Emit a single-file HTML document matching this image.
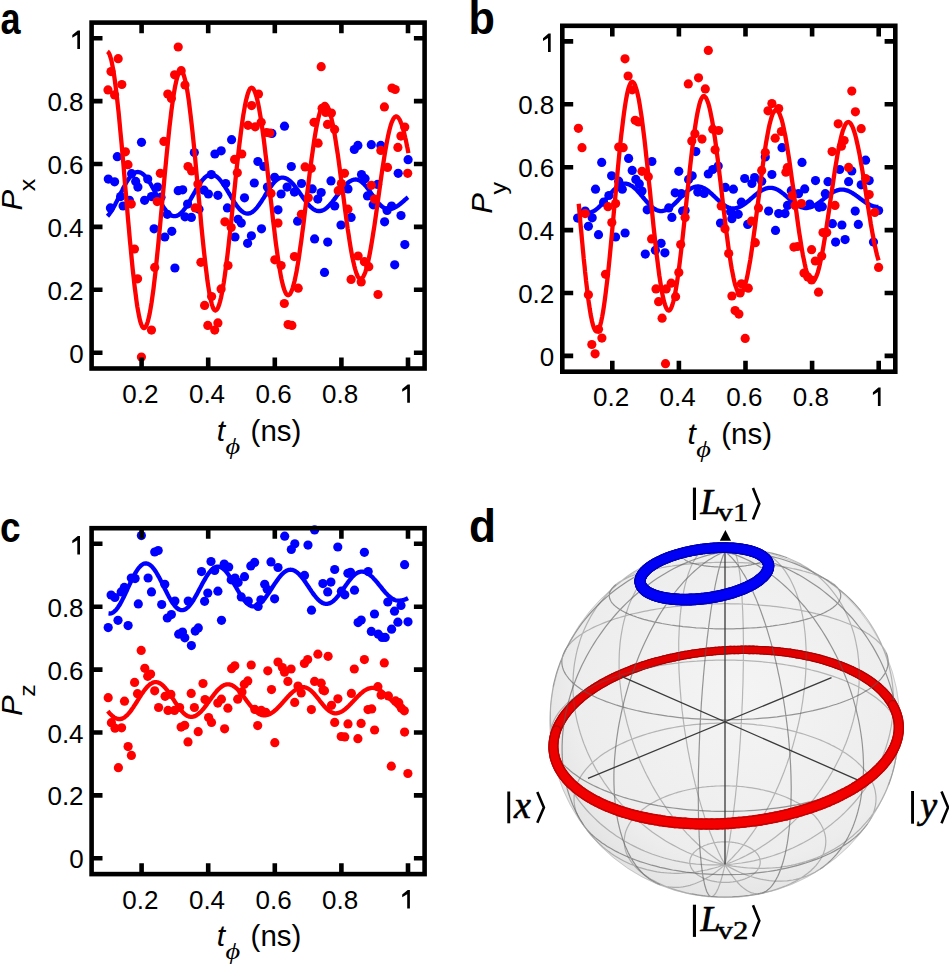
<!DOCTYPE html><html><head><meta charset="utf-8"><style>html,body{margin:0;padding:0;background:#fff;}svg{display:block;}</style></head><body>
<svg width="949" height="965" viewBox="0 0 949 965">
<rect width="949" height="965" fill="#fff"/>
<g fill="#0000ff"><circle cx="141.5" cy="142.3" r="4.6"/><circle cx="117.3" cy="156.7" r="4.6"/><circle cx="108.3" cy="179.1" r="4.6"/><circle cx="114.6" cy="181.8" r="4.6"/><circle cx="131.6" cy="173.7" r="4.6"/><circle cx="137.9" cy="187.1" r="4.6"/><circle cx="147.7" cy="179.1" r="4.6"/><circle cx="157.6" cy="187.1" r="4.6"/><circle cx="194.3" cy="152.6" r="4.6"/><circle cx="214.9" cy="154" r="4.6"/><circle cx="221.2" cy="150.8" r="4.6"/><circle cx="231.6" cy="139.7" r="4.6"/><circle cx="211.3" cy="174.6" r="4.6"/><circle cx="225.7" cy="183.5" r="4.6"/><circle cx="257.9" cy="161.5" r="4.6"/><circle cx="254.3" cy="183" r="4.6"/><circle cx="178.2" cy="190.7" r="4.6"/><circle cx="182.7" cy="189.8" r="4.6"/><circle cx="284.5" cy="126.2" r="4.6"/><circle cx="271.9" cy="133.4" r="4.6"/><circle cx="263.9" cy="166.5" r="4.6"/><circle cx="291.3" cy="166.5" r="4.6"/><circle cx="274.6" cy="177.3" r="4.6"/><circle cx="267.4" cy="187.1" r="4.6"/><circle cx="287.1" cy="187.1" r="4.6"/><circle cx="301.5" cy="183.5" r="4.6"/><circle cx="312.2" cy="188.9" r="4.6"/><circle cx="321.2" cy="192.5" r="4.6"/><circle cx="331" cy="180.9" r="4.6"/><circle cx="354.3" cy="149.5" r="4.6"/><circle cx="357.9" cy="145.4" r="4.6"/><circle cx="371.3" cy="144.7" r="4.6"/><circle cx="380.8" cy="145.4" r="4.6"/><circle cx="361.5" cy="174.6" r="4.6"/><circle cx="365.1" cy="178.7" r="4.6"/><circle cx="348" cy="188.9" r="4.6"/><circle cx="377.6" cy="184.4" r="4.6"/><circle cx="408.1" cy="159.7" r="4.6"/><circle cx="398.2" cy="173.3" r="4.6"/><circle cx="110.4" cy="207.9" r="4.6"/><circle cx="123.1" cy="206" r="4.6"/><circle cx="129.4" cy="200.3" r="4.6"/><circle cx="120.6" cy="196.6" r="4.6"/><circle cx="135.7" cy="181.4" r="4.6"/><circle cx="144.6" cy="200.3" r="4.6"/><circle cx="151.5" cy="196.6" r="4.6"/><circle cx="161" cy="197.2" r="4.6"/><circle cx="167.3" cy="214.3" r="4.6"/><circle cx="185" cy="216.8" r="4.6"/><circle cx="191.4" cy="217.4" r="4.6"/><circle cx="187.6" cy="204.1" r="4.6"/><circle cx="154.1" cy="228.8" r="4.6"/><circle cx="164.8" cy="237" r="4.6"/><circle cx="171.8" cy="231.3" r="4.6"/><circle cx="174.9" cy="268" r="4.6"/><circle cx="208.4" cy="194" r="4.6"/><circle cx="204" cy="190.2" r="4.6"/><circle cx="199" cy="209.2" r="4.6"/><circle cx="217.9" cy="195.3" r="4.6"/><circle cx="227.4" cy="207.9" r="4.6"/><circle cx="244.5" cy="197.8" r="4.6"/><circle cx="238.1" cy="219.3" r="4.6"/><circle cx="241.3" cy="223.1" r="4.6"/><circle cx="235" cy="237" r="4.6"/><circle cx="251.4" cy="235.8" r="4.6"/><circle cx="247.6" cy="243.3" r="4.6"/><circle cx="261.5" cy="228.8" r="4.6"/><circle cx="281.1" cy="194" r="4.6"/><circle cx="278" cy="209.8" r="4.6"/><circle cx="294.4" cy="192.1" r="4.6"/><circle cx="317.8" cy="199.1" r="4.6"/><circle cx="297.6" cy="221.2" r="4.6"/><circle cx="314.6" cy="238.9" r="4.6"/><circle cx="324.5" cy="272.4" r="4.6"/><circle cx="334.7" cy="206" r="4.6"/><circle cx="367.5" cy="195.9" r="4.6"/><circle cx="373.2" cy="204.8" r="4.6"/><circle cx="387.1" cy="210.5" r="4.6"/><circle cx="391.6" cy="206" r="4.6"/><circle cx="401" cy="215.5" r="4.6"/><circle cx="384.6" cy="221.8" r="4.6"/><circle cx="351.1" cy="217.4" r="4.6"/><circle cx="341" cy="225" r="4.6"/><circle cx="327.7" cy="242.1" r="4.6"/><circle cx="404.8" cy="244.6" r="4.6"/><circle cx="394.7" cy="264.8" r="4.6"/></g>
<path d="M107.5 216.2 L108.3 215.3 L109.1 214.4 L109.8 213.3 L110.6 212.2 L111.4 211 L112.2 209.8 L112.9 208.5 L113.7 207.1 L114.5 205.7 L115.3 204.2 L116 202.7 L116.8 201.2 L117.6 199.6 L118.4 198 L119.2 196.4 L119.9 194.9 L120.7 193.3 L121.5 191.7 L122.3 190.2 L123 188.6 L123.8 187.1 L124.6 185.7 L125.4 184.3 L126.1 182.9 L126.9 181.6 L127.7 180.4 L128.5 179.2 L129.3 178.1 L130 177.1 L130.8 176.1 L131.6 175.3 L132.4 174.5 L133.1 173.9 L133.9 173.3 L134.7 172.8 L135.5 172.5 L136.2 172.2 L137 172.1 L137.8 172 L138.7 172.1 L139.7 172.3 L140.6 172.6 L141.6 173.1 L142.5 173.8 L143.4 174.5 L144.4 175.4 L145.3 176.4 L146.3 177.6 L147.2 178.8 L148.2 180.1 L149.1 181.5 L150 183 L151 184.6 L151.9 186.3 L152.9 188 L153.8 189.7 L154.7 191.4 L155.7 193.2 L156.6 195 L157.6 196.8 L158.5 198.5 L159.4 200.2 L160.4 201.9 L161.3 203.6 L162.3 205.2 L163.2 206.7 L164.1 208.1 L165.1 209.4 L166 210.6 L167 211.8 L167.9 212.8 L168.9 213.7 L169.8 214.4 L170.7 215.1 L171.7 215.6 L172.6 215.9 L173.6 216.1 L174.5 216.2 L175.4 216.1 L176.4 215.9 L177.3 215.6 L178.3 215.1 L179.2 214.5 L180.1 213.8 L181.1 213 L182 212 L183 211 L183.9 209.8 L184.9 208.5 L185.8 207.2 L186.7 205.8 L187.7 204.3 L188.6 202.7 L189.6 201.2 L190.5 199.5 L191.4 197.9 L192.4 196.2 L193.3 194.5 L194.3 192.8 L195.2 191.2 L196.1 189.5 L197.1 188 L198 186.4 L199 184.9 L199.9 183.5 L200.8 182.2 L201.8 180.9 L202.7 179.7 L203.7 178.7 L204.6 177.7 L205.6 176.9 L206.5 176.2 L207.4 175.6 L208.4 175.1 L209.3 174.8 L210.3 174.6 L211.2 174.5 L212.1 174.6 L213.1 174.8 L214 175.1 L214.9 175.5 L215.9 176.1 L216.8 176.7 L217.7 177.5 L218.7 178.4 L219.6 179.4 L220.5 180.5 L221.5 181.7 L222.4 182.9 L223.3 184.3 L224.3 185.7 L225.2 187.1 L226.1 188.6 L227.1 190.1 L228 191.7 L228.9 193.3 L229.9 194.8 L230.8 196.4 L231.7 198 L232.7 199.5 L233.6 201 L234.5 202.4 L235.5 203.8 L236.4 205.2 L237.3 206.4 L238.3 207.6 L239.2 208.7 L240.1 209.7 L241.1 210.6 L242 211.4 L242.9 212 L243.9 212.6 L244.8 213 L245.7 213.3 L246.7 213.5 L247.6 213.6 L248.5 213.5 L249.4 213.4 L250.3 213.1 L251.2 212.7 L252.1 212.2 L253 211.5 L253.8 210.8 L254.7 210 L255.6 209.1 L256.5 208.1 L257.4 207 L258.3 205.8 L259.2 204.6 L260.1 203.3 L261 202 L261.9 200.6 L262.8 199.2 L263.7 197.8 L264.6 196.3 L265.4 194.9 L266.3 193.4 L267.2 192 L268.1 190.6 L269 189.2 L269.9 187.9 L270.8 186.6 L271.7 185.4 L272.6 184.2 L273.5 183.1 L274.4 182.1 L275.3 181.2 L276.2 180.4 L277 179.7 L277.9 179 L278.8 178.5 L279.7 178.1 L280.6 177.8 L281.5 177.7 L282.4 177.6 L283.3 177.7 L284.3 177.8 L285.2 178.1 L286.2 178.5 L287.1 178.9 L288 179.5 L289 180.2 L289.9 181 L290.9 181.8 L291.8 182.7 L292.8 183.8 L293.7 184.8 L294.6 186 L295.6 187.2 L296.5 188.4 L297.5 189.7 L298.4 191 L299.3 192.3 L300.3 193.7 L301.2 195 L302.2 196.4 L303.1 197.7 L304 199 L305 200.3 L305.9 201.5 L306.9 202.7 L307.8 203.9 L308.7 204.9 L309.7 206 L310.6 206.9 L311.6 207.7 L312.5 208.5 L313.5 209.2 L314.4 209.8 L315.3 210.2 L316.3 210.6 L317.2 210.9 L318.2 211 L319.1 211.1 L320 211 L321 210.9 L321.9 210.6 L322.8 210.3 L323.8 209.8 L324.7 209.3 L325.6 208.7 L326.6 207.9 L327.5 207.1 L328.4 206.2 L329.4 205.3 L330.3 204.3 L331.2 203.2 L332.2 202.1 L333.1 200.9 L334 199.7 L335 198.5 L335.9 197.2 L336.8 195.9 L337.8 194.7 L338.7 193.4 L339.6 192.1 L340.6 190.9 L341.5 189.7 L342.4 188.5 L343.4 187.4 L344.3 186.3 L345.2 185.3 L346.2 184.4 L347.1 183.5 L348 182.7 L349 181.9 L349.9 181.3 L350.8 180.8 L351.8 180.3 L352.7 180 L353.6 179.7 L354.6 179.6 L355.5 179.5 L356.3 179.5 L357.2 179.7 L358 179.9 L358.9 180.3 L359.7 180.7 L360.6 181.2 L361.4 181.8 L362.2 182.5 L363.1 183.2 L363.9 184.1 L364.8 185 L365.6 185.9 L366.5 186.9 L367.3 188 L368.2 189.1 L369 190.2 L369.8 191.4 L370.7 192.6 L371.5 193.8 L372.4 194.9 L373.2 196.1 L374.1 197.3 L374.9 198.5 L375.7 199.6 L376.6 200.7 L377.4 201.8 L378.3 202.8 L379.1 203.7 L380 204.6 L380.8 205.5 L381.7 206.2 L382.5 206.9 L383.3 207.5 L384.2 208 L385 208.4 L385.9 208.8 L386.7 209 L387.6 209.2 L388.4 209.2 L388.9 209.2 L389.4 209.2 L389.9 209.1 L390.4 209 L390.9 208.9 L391.4 208.8 L391.9 208.7 L392.4 208.5 L392.9 208.3 L393.4 208.2 L393.9 207.9 L394.4 207.7 L394.9 207.5 L395.4 207.2 L395.9 206.9 L396.4 206.6 L396.9 206.3 L397.4 206 L397.9 205.6 L398.5 205.3 L399 204.9 L399.5 204.5 L400 204.1 L400.5 203.7 L401 203.3 L401.5 202.9 L402 202.5 L402.5 202 L403 201.6 L403.5 201.2 L404 200.7 L404.5 200.3 L405 199.8 L405.5 199.4 L406 198.9 L406.5 198.5 L407 198.1 L407.5 197.6 L408 197.2" fill="none" stroke="#0000ff" stroke-width="4.3" stroke-linejoin="round"/>
<g fill="#ff0000"><circle cx="118.2" cy="58.7" r="4.6"/><circle cx="111" cy="71.6" r="4.6"/><circle cx="121.8" cy="84.5" r="4.6"/><circle cx="108" cy="89.9" r="4.6"/><circle cx="114.6" cy="94.9" r="4.6"/><circle cx="178.2" cy="47" r="4.6"/><circle cx="181.2" cy="70.7" r="4.6"/><circle cx="174.6" cy="74.8" r="4.6"/><circle cx="185" cy="85" r="4.6"/><circle cx="167.8" cy="94" r="4.6"/><circle cx="171.4" cy="98.5" r="4.6"/><circle cx="251.6" cy="105.6" r="4.6"/><circle cx="258.5" cy="94" r="4.6"/><circle cx="248" cy="125.3" r="4.6"/><circle cx="255.2" cy="126.8" r="4.6"/><circle cx="163.9" cy="141.4" r="4.6"/><circle cx="125.4" cy="151.8" r="4.6"/><circle cx="128" cy="164.7" r="4.6"/><circle cx="188" cy="166.5" r="4.6"/><circle cx="191.6" cy="171" r="4.6"/><circle cx="160.3" cy="173.3" r="4.6"/><circle cx="197.9" cy="184.1" r="4.6"/><circle cx="234.6" cy="159.4" r="4.6"/><circle cx="241.8" cy="154" r="4.6"/><circle cx="237.3" cy="172.8" r="4.6"/><circle cx="321.2" cy="66.7" r="4.6"/><circle cx="392" cy="88.1" r="4.6"/><circle cx="395.2" cy="89.5" r="4.6"/><circle cx="384.4" cy="106.9" r="4.6"/><circle cx="261.2" cy="122.3" r="4.6"/><circle cx="266.5" cy="132.5" r="4.6"/><circle cx="269.8" cy="133" r="4.6"/><circle cx="314" cy="122.3" r="4.6"/><circle cx="322.1" cy="108.3" r="4.6"/><circle cx="325.7" cy="112.4" r="4.6"/><circle cx="331.4" cy="113.1" r="4.6"/><circle cx="327.5" cy="124.4" r="4.6"/><circle cx="334.6" cy="129.4" r="4.6"/><circle cx="318.1" cy="143.2" r="4.6"/><circle cx="305.1" cy="166.9" r="4.6"/><circle cx="311.3" cy="168.3" r="4.6"/><circle cx="344.5" cy="173.3" r="4.6"/><circle cx="341.4" cy="183.5" r="4.6"/><circle cx="338.2" cy="190.7" r="4.6"/><circle cx="404.8" cy="127.1" r="4.6"/><circle cx="400.9" cy="136.1" r="4.6"/><circle cx="397.9" cy="147.4" r="4.6"/><circle cx="380.8" cy="150.4" r="4.6"/><circle cx="387.5" cy="167.4" r="4.6"/><circle cx="407.7" cy="173.3" r="4.6"/><circle cx="371.3" cy="185.3" r="4.6"/><circle cx="271" cy="193.4" r="4.6"/><circle cx="131.3" cy="204.1" r="4.6"/><circle cx="157.2" cy="201.6" r="4.6"/><circle cx="195.2" cy="207.9" r="4.6"/><circle cx="134.5" cy="249" r="4.6"/><circle cx="154.7" cy="267.4" r="4.6"/><circle cx="137.6" cy="278.8" r="4.6"/><circle cx="200.9" cy="262.3" r="4.6"/><circle cx="224.9" cy="221.8" r="4.6"/><circle cx="231.2" cy="227.5" r="4.6"/><circle cx="228" cy="265.5" r="4.6"/><circle cx="278" cy="223.1" r="4.6"/><circle cx="301.4" cy="214.3" r="4.6"/><circle cx="308.3" cy="197.8" r="4.6"/><circle cx="274.8" cy="259.8" r="4.6"/><circle cx="281.1" cy="265.5" r="4.6"/><circle cx="294.4" cy="256.6" r="4.6"/><circle cx="221.1" cy="288.9" r="4.6"/><circle cx="298.2" cy="288.2" r="4.6"/><circle cx="374.5" cy="199.1" r="4.6"/><circle cx="347.9" cy="209.2" r="4.6"/><circle cx="358.1" cy="256" r="4.6"/><circle cx="364.4" cy="261.7" r="4.6"/><circle cx="368.8" cy="266.7" r="4.6"/><circle cx="351.1" cy="279.4" r="4.6"/><circle cx="361.2" cy="281.9" r="4.6"/><circle cx="151.5" cy="330.1" r="4.6"/><circle cx="141.4" cy="357" r="4.6"/><circle cx="204.6" cy="305.4" r="4.6"/><circle cx="207.8" cy="325.4" r="4.6"/><circle cx="211.6" cy="296.6" r="4.6"/><circle cx="217.9" cy="322.9" r="4.6"/><circle cx="214.7" cy="330.1" r="4.6"/><circle cx="284.3" cy="303.5" r="4.6"/><circle cx="288.1" cy="324.6" r="4.6"/><circle cx="291.9" cy="325.4" r="4.6"/><circle cx="378" cy="294.5" r="4.6"/></g>
<path d="M107.4 51.5 L108.3 52.2 L109.3 53.8 L110.2 56.3 L111.2 59.6 L112.1 63.8 L113 68.7 L114 74.5 L114.9 80.9 L115.8 88.1 L116.8 95.9 L117.7 104.3 L118.7 113.2 L119.6 122.7 L120.5 132.6 L121.5 142.8 L122.4 153.3 L123.4 164.1 L124.3 175 L125.2 186.1 L126.2 197.1 L127.1 208.1 L128 219 L129 229.7 L129.9 240.2 L130.9 250.3 L131.8 260 L132.7 269.3 L133.7 278.1 L134.6 286.3 L135.6 293.9 L136.5 300.9 L137.4 307.1 L138.4 312.6 L139.3 317.3 L140.2 321.2 L141.2 324.2 L142.1 326.4 L143.1 327.8 L144 328.2 L144.9 327.8 L145.9 326.5 L146.8 324.5 L147.8 321.6 L148.7 317.9 L149.7 313.5 L150.6 308.3 L151.6 302.4 L152.5 295.9 L153.5 288.7 L154.4 281 L155.4 272.7 L156.3 263.9 L157.2 254.8 L158.2 245.3 L159.1 235.5 L160.1 225.4 L161 215.2 L162 204.9 L162.9 194.5 L163.9 184.2 L164.8 174 L165.8 163.9 L166.7 154.1 L167.7 144.6 L168.6 135.5 L169.5 126.7 L170.5 118.4 L171.4 110.7 L172.4 103.5 L173.3 97 L174.3 91.1 L175.2 85.9 L176.2 81.5 L177.1 77.8 L178.1 74.9 L179 72.9 L180 71.6 L180.9 71.2 L181.8 71.6 L182.7 72.7 L183.6 74.7 L184.4 77.4 L185.3 80.8 L186.2 84.9 L187.1 89.7 L188 95.2 L188.9 101.3 L189.7 108 L190.6 115.2 L191.5 122.9 L192.4 131 L193.3 139.6 L194.2 148.4 L195.1 157.6 L195.9 166.9 L196.8 176.4 L197.7 186 L198.6 195.7 L199.5 205.3 L200.4 214.8 L201.2 224.1 L202.1 233.3 L203 242.1 L203.9 250.7 L204.8 258.8 L205.7 266.5 L206.6 273.7 L207.4 280.4 L208.3 286.5 L209.2 292 L210.1 296.8 L211 300.9 L211.9 304.3 L212.7 307 L213.6 309 L214.5 310.1 L215.4 310.5 L216.3 310.1 L217.3 309.1 L218.2 307.3 L219.1 304.8 L220 301.6 L221 297.7 L221.9 293.3 L222.8 288.2 L223.8 282.5 L224.7 276.3 L225.6 269.6 L226.5 262.4 L227.5 254.8 L228.4 246.9 L229.3 238.6 L230.3 230.1 L231.2 221.4 L232.1 212.5 L233 203.6 L234 194.6 L234.9 185.7 L235.8 176.8 L236.7 168.1 L237.7 159.6 L238.6 151.3 L239.5 143.4 L240.5 135.8 L241.4 128.6 L242.3 121.9 L243.2 115.7 L244.2 110 L245.1 104.9 L246 100.5 L247 96.6 L247.9 93.4 L248.8 90.9 L249.7 89.1 L250.7 88.1 L251.6 87.7 L252.5 88 L253.5 89 L254.4 90.7 L255.3 93 L256.3 96 L257.2 99.6 L258.2 103.8 L259.1 108.5 L260 113.8 L261 119.6 L261.9 125.9 L262.8 132.5 L263.8 139.6 L264.7 147 L265.6 154.7 L266.6 162.6 L267.5 170.7 L268.4 179 L269.4 187.3 L270.3 195.7 L271.3 204 L272.2 212.3 L273.1 220.4 L274.1 228.3 L275 236 L275.9 243.4 L276.9 250.5 L277.8 257.1 L278.7 263.4 L279.7 269.2 L280.6 274.5 L281.5 279.2 L282.5 283.4 L283.4 287 L284.4 290 L285.3 292.3 L286.2 294 L287.2 295 L288.1 295.3 L289 295 L290 294.1 L290.9 292.5 L291.9 290.4 L292.8 287.6 L293.7 284.3 L294.7 280.5 L295.6 276.1 L296.6 271.2 L297.5 265.9 L298.5 260.1 L299.4 253.9 L300.3 247.4 L301.3 240.6 L302.2 233.5 L303.2 226.2 L304.1 218.7 L305 211.1 L306 203.4 L306.9 195.7 L307.9 188 L308.8 180.4 L309.7 172.9 L310.7 165.6 L311.6 158.5 L312.6 151.7 L313.5 145.2 L314.4 139 L315.4 133.2 L316.3 127.9 L317.3 123 L318.2 118.6 L319.2 114.8 L320.1 111.5 L321 108.7 L322 106.6 L322.9 105 L323.9 104.1 L324.8 103.8 L325.7 104.1 L326.6 104.9 L327.6 106.3 L328.5 108.3 L329.4 110.8 L330.3 113.8 L331.2 117.4 L332.1 121.4 L333.1 125.8 L334 130.7 L334.9 136 L335.8 141.6 L336.7 147.6 L337.7 153.8 L338.6 160.3 L339.5 167 L340.4 173.9 L341.3 180.8 L342.2 187.9 L343.2 194.9 L344.1 202 L345 208.9 L345.9 215.8 L346.8 222.5 L347.7 229 L348.7 235.2 L349.6 241.2 L350.5 246.8 L351.4 252.1 L352.3 257 L353.3 261.4 L354.2 265.4 L355.1 269 L356 272 L356.9 274.5 L357.8 276.5 L358.8 277.9 L359.7 278.7 L360.6 279 L361.5 278.7 L362.4 277.9 L363.3 276.6 L364.2 274.8 L365.2 272.5 L366.1 269.7 L367 266.4 L367.9 262.7 L368.8 258.6 L369.7 254 L370.6 249.1 L371.5 243.9 L372.4 238.4 L373.3 232.6 L374.3 226.5 L375.2 220.3 L376.1 214 L377 207.5 L377.9 201 L378.8 194.4 L379.7 187.9 L380.6 181.4 L381.5 175.1 L382.4 168.9 L383.4 162.8 L384.3 157 L385.2 151.5 L386.1 146.3 L387 141.4 L387.9 136.8 L388.8 132.7 L389.7 129 L390.6 125.7 L391.5 122.9 L392.5 120.6 L393.4 118.8 L394.3 117.5 L395.2 116.7 L396.1 116.4 L396.4 116.4 L396.7 116.5 L397 116.6 L397.4 116.8 L397.7 117.1 L398 117.4 L398.3 117.7 L398.6 118.1 L398.9 118.5 L399.3 119 L399.6 119.6 L399.9 120.2 L400.2 120.9 L400.5 121.6 L400.8 122.3 L401.1 123.1 L401.5 124 L401.8 124.9 L402.1 125.8 L402.4 126.8 L402.7 127.8 L403 128.9 L403.4 130 L403.7 131.2 L404 132.4 L404.3 133.6 L404.6 134.9 L404.9 136.3 L405.2 137.6 L405.6 139 L405.9 140.5 L406.2 141.9 L406.5 143.4 L406.8 145 L407.1 146.5 L407.5 148.1 L407.8 149.8 L408.1 151.4 L408.4 153.1" fill="none" stroke="#ff0000" stroke-width="4.3" stroke-linejoin="round"/>
<rect x="91.6" y="22.6" width="333" height="345.9" fill="none" stroke="#000" stroke-width="4.6"/>
<path d="M141.6 22.6 V33.2 M141.6 368.5 V357.6 M208.2 22.6 V33.2 M208.2 368.5 V357.6 M274.8 22.6 V33.2 M274.8 368.5 V357.6 M341.4 22.6 V33.2 M341.4 368.5 V357.6 M408 22.6 V33.2 M408 368.5 V357.6 M91.6 352.7 H102.5 M424.6 352.7 H413.9 M91.6 289.8 H102.5 M424.6 289.8 H413.9 M91.6 226.9 H102.5 M424.6 226.9 H413.9 M91.6 164 H102.5 M424.6 164 H413.9 M91.6 101.1 H102.5 M424.6 101.1 H413.9 M91.6 38.2 H102.5 M424.6 38.2 H413.9" stroke="#000" stroke-width="4.6" fill="none"/>
<g font-family="Liberation Sans" font-size="26" fill="#000"><text x="140.4" y="403" text-anchor="middle">0.2</text><text x="207" y="403" text-anchor="middle">0.4</text><text x="273.6" y="403" text-anchor="middle">0.6</text><text x="340.2" y="403" text-anchor="middle">0.8</text><text x="83.6" y="362.7" text-anchor="end">0</text><text x="83.6" y="299.8" text-anchor="end">0.2</text><text x="83.6" y="236.9" text-anchor="end">0.4</text><text x="83.6" y="174" text-anchor="end">0.6</text><text x="83.6" y="111.1" text-anchor="end">0.8</text><path d="M409.9 384.4 V402.8 H407.2 V388.7 L402.2 391.7 V389 L407.7 384.4Z"/><path d="M80 30.4 V48.9 H77.3 V34.7 L72.3 37.7 V35 L77.8 30.4Z"/></g>
<text x="216.8" y="440.6" font-family="Liberation Sans" font-size="30" font-style="italic">t</text>
<text transform="translate(225.6 453.5) scale(1.18 1)" font-family="Liberation Serif" font-size="24" font-style="italic">&#x3d5;</text>
<text x="250.6" y="440.8" font-family="Liberation Sans" font-size="29.5">(ns)</text>
<g transform="translate(21.6 210.5) rotate(-90)"><text transform="scale(1.03 1)" font-family="Liberation Sans" font-size="30" font-style="italic">P</text><text transform="translate(19.3 13.2) scale(1.12 1)" font-family="Liberation Sans" font-size="22.5">x</text></g>
<g fill="#0000ff"><circle cx="601.7" cy="162.4" r="4.6"/><circle cx="628.6" cy="158.4" r="4.6"/><circle cx="651.9" cy="161.5" r="4.6"/><circle cx="632.2" cy="170.4" r="4.6"/><circle cx="611.6" cy="175.8" r="4.6"/><circle cx="618.7" cy="181.2" r="4.6"/><circle cx="635.8" cy="179.4" r="4.6"/><circle cx="639.3" cy="183.9" r="4.6"/><circle cx="622.3" cy="189.2" r="4.6"/><circle cx="595.5" cy="189.2" r="4.6"/><circle cx="608.9" cy="195.5" r="4.6"/><circle cx="642" cy="191" r="4.6"/><circle cx="695.8" cy="151.6" r="4.6"/><circle cx="678.8" cy="171.3" r="4.6"/><circle cx="692.2" cy="175.8" r="4.6"/><circle cx="688.6" cy="179.4" r="4.6"/><circle cx="708.3" cy="174" r="4.6"/><circle cx="712.8" cy="169.5" r="4.6"/><circle cx="718.2" cy="166" r="4.6"/><circle cx="675.2" cy="192.8" r="4.6"/><circle cx="681.4" cy="193.7" r="4.6"/><circle cx="725.3" cy="187.4" r="4.6"/><circle cx="733.4" cy="189.2" r="4.6"/><circle cx="782" cy="147.7" r="4.6"/><circle cx="765.3" cy="157" r="4.6"/><circle cx="802" cy="162.4" r="4.6"/><circle cx="771.9" cy="174.5" r="4.6"/><circle cx="744.7" cy="178.5" r="4.6"/><circle cx="754.6" cy="177.6" r="4.6"/><circle cx="751.9" cy="183.5" r="4.6"/><circle cx="761.7" cy="181.2" r="4.6"/><circle cx="804.7" cy="188.9" r="4.6"/><circle cx="791.3" cy="190.7" r="4.6"/><circle cx="798.5" cy="193.7" r="4.6"/><circle cx="815.5" cy="180.6" r="4.6"/><circle cx="828" cy="181.7" r="4.6"/><circle cx="839.7" cy="169.5" r="4.6"/><circle cx="851.8" cy="171" r="4.6"/><circle cx="848.6" cy="181.7" r="4.6"/><circle cx="865.6" cy="160.2" r="4.6"/><circle cx="869.2" cy="180.6" r="4.6"/><circle cx="861.2" cy="184.8" r="4.6"/><circle cx="825.3" cy="193.7" r="4.6"/><circle cx="603.6" cy="202.2" r="4.6"/><circle cx="585.2" cy="211.1" r="4.6"/><circle cx="577.6" cy="218.1" r="4.6"/><circle cx="592.2" cy="217.8" r="4.6"/><circle cx="588.4" cy="226.3" r="4.6"/><circle cx="598.5" cy="234.7" r="4.6"/><circle cx="615.6" cy="237" r="4.6"/><circle cx="625.1" cy="233" r="4.6"/><circle cx="647.2" cy="209.8" r="4.6"/><circle cx="668.7" cy="207.9" r="4.6"/><circle cx="671.9" cy="217.4" r="4.6"/><circle cx="682.6" cy="211.1" r="4.6"/><circle cx="661.1" cy="243.3" r="4.6"/><circle cx="664.9" cy="252.8" r="4.6"/><circle cx="655.4" cy="250.3" r="4.6"/><circle cx="645.3" cy="254.1" r="4.6"/><circle cx="697.8" cy="192.1" r="4.6"/><circle cx="704.1" cy="193.4" r="4.6"/><circle cx="685.1" cy="210.5" r="4.6"/><circle cx="741.4" cy="202.2" r="4.6"/><circle cx="738.2" cy="214.3" r="4.6"/><circle cx="730.6" cy="211.7" r="4.6"/><circle cx="731.9" cy="218.7" r="4.6"/><circle cx="720.5" cy="223.1" r="4.6"/><circle cx="747.7" cy="224.4" r="4.6"/><circle cx="768.6" cy="211.1" r="4.6"/><circle cx="778.7" cy="213.6" r="4.6"/><circle cx="785" cy="213.6" r="4.6"/><circle cx="787.5" cy="205.4" r="4.6"/><circle cx="775.5" cy="230.4" r="4.6"/><circle cx="809.7" cy="204.1" r="4.6"/><circle cx="819.1" cy="207.3" r="4.6"/><circle cx="822.3" cy="206.7" r="4.6"/><circle cx="855.2" cy="211.1" r="4.6"/><circle cx="878.6" cy="210.5" r="4.6"/><circle cx="832.4" cy="223.7" r="4.6"/><circle cx="841.9" cy="225" r="4.6"/><circle cx="858.3" cy="224.4" r="4.6"/><circle cx="835.6" cy="242.1" r="4.6"/><circle cx="845.1" cy="239.6" r="4.6"/><circle cx="873.5" cy="242.1" r="4.6"/></g>
<path d="M579 213 L579.2 213 L579.5 213 L579.7 212.9 L580 212.9 L580.2 212.9 L580.5 212.9 L580.7 212.8 L580.9 212.8 L581.2 212.8 L581.4 212.8 L581.7 212.8 L581.9 212.7 L582.2 212.7 L582.4 212.7 L582.7 212.7 L582.9 212.7 L583.1 212.7 L583.4 212.7 L583.6 212.6 L583.9 212.6 L584.1 212.6 L584.4 212.6 L584.6 212.6 L584.8 212.6 L585.1 212.6 L585.3 212.6 L585.6 212.5 L585.8 212.5 L586.1 212.5 L586.3 212.5 L586.6 212.5 L586.8 212.5 L587 212.5 L587.3 212.5 L587.5 212.5 L587.8 212.5 L588 212.5 L588.3 212.5 L588.5 212.5 L589.4 212.5 L590.4 212.3 L591.3 212.1 L592.3 211.8 L593.2 211.3 L594.1 210.9 L595.1 210.3 L596 209.6 L596.9 208.9 L597.9 208.1 L598.8 207.2 L599.8 206.3 L600.7 205.3 L601.6 204.3 L602.6 203.2 L603.5 202.1 L604.5 201 L605.4 199.8 L606.3 198.7 L607.3 197.5 L608.2 196.4 L609.1 195.2 L610.1 194.1 L611 193 L612 191.9 L612.9 190.9 L613.8 189.9 L614.8 189 L615.7 188.1 L616.7 187.3 L617.6 186.6 L618.5 185.9 L619.5 185.3 L620.4 184.9 L621.3 184.4 L622.3 184.1 L623.2 183.9 L624.2 183.7 L625.1 183.7 L626 183.7 L626.9 183.9 L627.9 184.1 L628.8 184.4 L629.7 184.8 L630.6 185.3 L631.6 185.8 L632.5 186.4 L633.4 187.1 L634.3 187.9 L635.3 188.7 L636.2 189.6 L637.1 190.5 L638 191.5 L638.9 192.5 L639.9 193.6 L640.8 194.7 L641.7 195.7 L642.6 196.8 L643.6 198 L644.5 199.1 L645.4 200.1 L646.3 201.2 L647.3 202.3 L648.2 203.3 L649.1 204.2 L650 205.2 L650.9 206.1 L651.9 206.9 L652.8 207.7 L653.7 208.4 L654.6 209 L655.6 209.5 L656.5 210 L657.4 210.4 L658.3 210.7 L659.3 210.9 L660.2 211.1 L661.1 211.1 L662 211.1 L663 210.9 L663.9 210.7 L664.9 210.5 L665.8 210.1 L666.7 209.7 L667.7 209.2 L668.6 208.6 L669.5 208 L670.5 207.3 L671.4 206.6 L672.4 205.8 L673.3 204.9 L674.2 204.1 L675.2 203.2 L676.1 202.2 L677.1 201.3 L678 200.3 L678.9 199.3 L679.9 198.3 L680.8 197.3 L681.7 196.3 L682.7 195.4 L683.6 194.4 L684.6 193.5 L685.5 192.7 L686.4 191.8 L687.4 191 L688.3 190.3 L689.3 189.6 L690.2 189 L691.1 188.4 L692.1 187.9 L693 187.5 L693.9 187.1 L694.9 186.9 L695.8 186.7 L696.8 186.5 L697.7 186.5 L698.6 186.5 L699.5 186.6 L700.4 186.8 L701.3 187.1 L702.2 187.4 L703.1 187.8 L704.1 188.2 L705 188.7 L705.9 189.3 L706.8 189.9 L707.7 190.5 L708.6 191.2 L709.5 192 L710.4 192.8 L711.3 193.6 L712.2 194.4 L713.1 195.3 L714 196.1 L714.9 197 L715.9 197.9 L716.8 198.8 L717.7 199.6 L718.6 200.5 L719.5 201.3 L720.4 202.1 L721.3 202.9 L722.2 203.7 L723.1 204.4 L724 205 L724.9 205.6 L725.8 206.2 L726.7 206.7 L727.7 207.1 L728.6 207.5 L729.5 207.8 L730.4 208.1 L731.3 208.3 L732.2 208.4 L733.1 208.4 L734.1 208.4 L735 208.3 L736 208.1 L736.9 207.9 L737.9 207.6 L738.8 207.2 L739.8 206.8 L740.8 206.3 L741.7 205.8 L742.7 205.2 L743.6 204.6 L744.6 204 L745.5 203.3 L746.5 202.5 L747.4 201.8 L748.4 201 L749.4 200.2 L750.3 199.3 L751.3 198.5 L752.2 197.7 L753.2 196.9 L754.1 196 L755.1 195.2 L756.1 194.4 L757 193.7 L758 192.9 L758.9 192.2 L759.9 191.6 L760.8 191 L761.8 190.4 L762.7 189.9 L763.7 189.4 L764.7 189 L765.6 188.6 L766.6 188.3 L767.5 188.1 L768.5 187.9 L769.4 187.8 L770.4 187.8 L771.3 187.8 L772.2 187.9 L773.1 188.1 L774 188.3 L775 188.6 L775.9 189 L776.8 189.4 L777.7 189.8 L778.6 190.3 L779.5 190.9 L780.4 191.5 L781.3 192.2 L782.2 192.9 L783.1 193.6 L784.1 194.3 L785 195.1 L785.9 195.9 L786.8 196.7 L787.7 197.5 L788.6 198.3 L789.5 199.1 L790.4 199.9 L791.3 200.7 L792.2 201.5 L793.2 202.2 L794.1 202.9 L795 203.6 L795.9 204.3 L796.8 204.9 L797.7 205.5 L798.6 206 L799.5 206.4 L800.4 206.8 L801.3 207.2 L802.3 207.5 L803.2 207.7 L804.1 207.9 L805 208 L805.9 208 L806.8 208 L807.7 207.9 L808.7 207.7 L809.6 207.5 L810.5 207.3 L811.4 206.9 L812.3 206.6 L813.3 206.2 L814.2 205.7 L815.1 205.2 L816 204.6 L816.9 204 L817.9 203.4 L818.8 202.7 L819.7 202.1 L820.6 201.4 L821.5 200.6 L822.5 199.9 L823.4 199.2 L824.3 198.4 L825.2 197.7 L826.2 197 L827.1 196.2 L828 195.5 L828.9 194.9 L829.8 194.2 L830.8 193.6 L831.7 193 L832.6 192.4 L833.5 191.9 L834.4 191.4 L835.4 191 L836.3 190.7 L837.2 190.3 L838.1 190.1 L839 189.9 L840 189.7 L840.9 189.6 L841.8 189.6 L842.7 189.6 L843.7 189.7 L844.6 189.9 L845.6 190.1 L846.5 190.3 L847.4 190.6 L848.4 191 L849.3 191.4 L850.3 191.9 L851.2 192.4 L852.2 192.9 L853.1 193.5 L854 194.1 L855 194.7 L855.9 195.4 L856.9 196.1 L857.8 196.7 L858.7 197.4 L859.7 198.2 L860.6 198.9 L861.6 199.6 L862.5 200.3 L863.4 200.9 L864.4 201.6 L865.3 202.2 L866.3 202.9 L867.2 203.4 L868.1 204 L869.1 204.5 L870 205 L871 205.4 L871.9 205.7 L872.9 206.1 L873.8 206.3 L874.7 206.5 L875.7 206.7 L876.6 206.8 L877.6 206.8 L878.5 206.8" fill="none" stroke="#0000ff" stroke-width="4.3" stroke-linejoin="round"/>
<g fill="#ff0000"><circle cx="625" cy="58.8" r="4.6"/><circle cx="628.1" cy="76" r="4.6"/><circle cx="632.2" cy="89.8" r="4.6"/><circle cx="635.2" cy="120.3" r="4.6"/><circle cx="638.5" cy="122" r="4.6"/><circle cx="578.4" cy="128.3" r="4.6"/><circle cx="582" cy="147.7" r="4.6"/><circle cx="618.7" cy="147.1" r="4.6"/><circle cx="623.2" cy="147.7" r="4.6"/><circle cx="642" cy="171.3" r="4.6"/><circle cx="648.3" cy="176.7" r="4.6"/><circle cx="708.3" cy="50.4" r="4.6"/><circle cx="698.5" cy="77.8" r="4.6"/><circle cx="688.3" cy="83.9" r="4.6"/><circle cx="705.3" cy="88.9" r="4.6"/><circle cx="694.9" cy="133.7" r="4.6"/><circle cx="691.8" cy="140.9" r="4.6"/><circle cx="702" cy="139.1" r="4.6"/><circle cx="712.8" cy="129.2" r="4.6"/><circle cx="718.7" cy="130.5" r="4.6"/><circle cx="715.1" cy="149.8" r="4.6"/><circle cx="771.9" cy="103.6" r="4.6"/><circle cx="768" cy="110.8" r="4.6"/><circle cx="778.7" cy="108.6" r="4.6"/><circle cx="781.4" cy="131.5" r="4.6"/><circle cx="775.2" cy="138.2" r="4.6"/><circle cx="765.3" cy="152.5" r="4.6"/><circle cx="761.7" cy="170.4" r="4.6"/><circle cx="785.9" cy="172.2" r="4.6"/><circle cx="787.3" cy="167.7" r="4.6"/><circle cx="851.8" cy="91.1" r="4.6"/><circle cx="855.4" cy="111.8" r="4.6"/><circle cx="838.2" cy="123.8" r="4.6"/><circle cx="861.2" cy="128.7" r="4.6"/><circle cx="844.1" cy="140.5" r="4.6"/><circle cx="841.4" cy="146.2" r="4.6"/><circle cx="832.1" cy="151.6" r="4.6"/><circle cx="848.6" cy="167.4" r="4.6"/><circle cx="865.6" cy="178.5" r="4.6"/><circle cx="869.2" cy="194.6" r="4.6"/><circle cx="792.2" cy="195.5" r="4.6"/><circle cx="585.2" cy="213.6" r="4.6"/><circle cx="608" cy="206.7" r="4.6"/><circle cx="615.6" cy="203.5" r="4.6"/><circle cx="611.8" cy="222.5" r="4.6"/><circle cx="605.5" cy="274.3" r="4.6"/><circle cx="651.6" cy="238.9" r="4.6"/><circle cx="678.8" cy="272.4" r="4.6"/><circle cx="680.7" cy="244.6" r="4.6"/><circle cx="671.2" cy="283.2" r="4.6"/><circle cx="656" cy="288.9" r="4.6"/><circle cx="666.2" cy="288.9" r="4.6"/><circle cx="685.1" cy="217.4" r="4.6"/><circle cx="721.2" cy="206" r="4.6"/><circle cx="725" cy="228.8" r="4.6"/><circle cx="728.7" cy="253.5" r="4.6"/><circle cx="741.4" cy="283.8" r="4.6"/><circle cx="748.3" cy="288.2" r="4.6"/><circle cx="751.5" cy="221.2" r="4.6"/><circle cx="758.5" cy="207.9" r="4.6"/><circle cx="755.3" cy="242.7" r="4.6"/><circle cx="793.9" cy="247.1" r="4.6"/><circle cx="795.1" cy="205.4" r="4.6"/><circle cx="801.4" cy="203.5" r="4.6"/><circle cx="835" cy="205.4" r="4.6"/><circle cx="826.7" cy="232.6" r="4.6"/><circle cx="823" cy="232.6" r="4.6"/><circle cx="797.6" cy="246.5" r="4.6"/><circle cx="811.6" cy="249.7" r="4.6"/><circle cx="821.7" cy="256" r="4.6"/><circle cx="815.3" cy="261" r="4.6"/><circle cx="804" cy="273.1" r="4.6"/><circle cx="807.8" cy="276.9" r="4.6"/><circle cx="811.6" cy="280" r="4.6"/><circle cx="818.5" cy="292.2" r="4.6"/><circle cx="874.8" cy="212.4" r="4.6"/><circle cx="878.6" cy="267.4" r="4.6"/><circle cx="588.4" cy="294.8" r="4.6"/><circle cx="598.5" cy="329.3" r="4.6"/><circle cx="601.9" cy="338.1" r="4.6"/><circle cx="591.8" cy="344.5" r="4.6"/><circle cx="595.1" cy="353.8" r="4.6"/><circle cx="658.6" cy="301.7" r="4.6"/><circle cx="675.6" cy="296.7" r="4.6"/><circle cx="662.1" cy="318.2" r="4.6"/><circle cx="665.5" cy="363.7" r="4.6"/><circle cx="731.9" cy="296" r="4.6"/><circle cx="740.1" cy="292.9" r="4.6"/><circle cx="735.1" cy="310.6" r="4.6"/><circle cx="738.9" cy="314.1" r="4.6"/><circle cx="745.2" cy="338.4" r="4.6"/></g>
<path d="M578.7 203.7 L579.2 208.8 L579.6 213.9 L580.1 219.1 L580.5 224.1 L581 229.2 L581.5 234.2 L581.9 239.2 L582.4 244.1 L582.8 248.9 L583.3 253.7 L583.7 258.4 L584.2 263 L584.7 267.5 L585.1 271.9 L585.6 276.2 L586 280.3 L586.5 284.4 L587 288.3 L587.4 292.1 L587.9 295.7 L588.3 299.2 L588.8 302.6 L589.3 305.7 L589.7 308.7 L590.2 311.6 L590.6 314.3 L591.1 316.7 L591.6 319 L592 321.2 L592.5 323.1 L592.9 324.8 L593.4 326.3 L593.8 327.7 L594.3 328.8 L594.8 329.7 L595.2 330.5 L595.7 331 L596.1 331.3 L596.6 331.4 L597.5 331 L598.4 329.8 L599.3 327.8 L600.3 325 L601.2 321.4 L602.1 317.1 L603 312.1 L603.9 306.4 L604.8 300 L605.7 293 L606.6 285.5 L607.6 277.5 L608.5 269 L609.4 260.1 L610.3 250.8 L611.2 241.3 L612.1 231.5 L613 221.6 L613.9 211.6 L614.9 201.5 L615.8 191.5 L616.7 181.6 L617.6 171.8 L618.5 162.3 L619.4 153 L620.3 144.1 L621.2 135.6 L622.2 127.6 L623.1 120.1 L624 113.1 L624.9 106.7 L625.8 101 L626.7 96 L627.6 91.7 L628.5 88.1 L629.5 85.3 L630.4 83.3 L631.3 82.1 L632.2 81.7 L633.1 82.1 L634.1 83.2 L635 85 L635.9 87.6 L636.9 90.9 L637.8 94.8 L638.8 99.4 L639.7 104.7 L640.6 110.5 L641.6 116.9 L642.5 123.8 L643.4 131.1 L644.4 138.9 L645.3 147.1 L646.2 155.6 L647.2 164.3 L648.1 173.3 L649 182.4 L650 191.5 L650.9 200.8 L651.9 209.9 L652.8 219 L653.7 228 L654.7 236.7 L655.6 245.2 L656.5 253.4 L657.5 261.2 L658.4 268.5 L659.3 275.4 L660.3 281.8 L661.2 287.6 L662.1 292.9 L663.1 297.5 L664 301.4 L665 304.7 L665.9 307.3 L666.8 309.1 L667.8 310.2 L668.7 310.6 L669.6 310.3 L670.5 309.2 L671.4 307.5 L672.3 305.1 L673.2 302 L674.1 298.3 L675 294 L675.9 289.1 L676.8 283.6 L677.7 277.6 L678.6 271.2 L679.5 264.3 L680.4 257 L681.3 249.3 L682.2 241.4 L683.1 233.2 L684 224.8 L684.9 216.3 L685.8 207.7 L686.7 199 L687.6 190.4 L688.5 181.9 L689.4 173.5 L690.3 165.3 L691.2 157.4 L692.1 149.7 L693 142.4 L693.9 135.5 L694.8 129.1 L695.7 123.1 L696.6 117.6 L697.5 112.7 L698.4 108.4 L699.3 104.7 L700.2 101.6 L701.1 99.2 L702 97.5 L702.9 96.4 L703.8 96.1 L704.7 96.4 L705.7 97.4 L706.6 99 L707.5 101.2 L708.5 104 L709.4 107.4 L710.3 111.4 L711.2 115.9 L712.2 120.9 L713.1 126.4 L714 132.4 L715 138.7 L715.9 145.4 L716.8 152.5 L717.8 159.8 L718.7 167.3 L719.6 175.1 L720.6 182.9 L721.5 190.8 L722.4 198.8 L723.3 206.7 L724.3 214.5 L725.2 222.3 L726.1 229.8 L727.1 237.1 L728 244.1 L728.9 250.9 L729.9 257.2 L730.8 263.2 L731.7 268.7 L732.7 273.7 L733.6 278.2 L734.5 282.2 L735.4 285.6 L736.4 288.4 L737.3 290.6 L738.2 292.2 L739.2 293.2 L740.1 293.5 L741 293.2 L741.9 292.3 L742.9 290.8 L743.8 288.8 L744.7 286.2 L745.6 283 L746.6 279.3 L747.5 275.1 L748.4 270.4 L749.3 265.3 L750.3 259.8 L751.2 253.9 L752.1 247.6 L753 241.1 L753.9 234.3 L754.9 227.3 L755.8 220.1 L756.7 212.8 L757.6 205.4 L758.6 198.1 L759.5 190.7 L760.4 183.4 L761.3 176.2 L762.3 169.2 L763.2 162.4 L764.1 155.9 L765 149.6 L765.9 143.7 L766.9 138.2 L767.8 133.1 L768.7 128.4 L769.6 124.2 L770.6 120.5 L771.5 117.3 L772.4 114.7 L773.3 112.7 L774.3 111.2 L775.2 110.3 L776.1 110 L777 110.3 L778 111.1 L778.9 112.5 L779.8 114.4 L780.7 116.9 L781.7 119.8 L782.6 123.3 L783.5 127.2 L784.4 131.6 L785.4 136.3 L786.3 141.5 L787.2 147 L788.1 152.9 L789.1 159 L790 165.3 L790.9 171.9 L791.8 178.6 L792.8 185.4 L793.7 192.3 L794.6 199.2 L795.5 206.1 L796.5 212.9 L797.4 219.6 L798.3 226.2 L799.2 232.5 L800.2 238.6 L801.1 244.5 L802 250 L802.9 255.2 L803.9 259.9 L804.8 264.3 L805.7 268.2 L806.6 271.7 L807.6 274.6 L808.5 277.1 L809.4 279 L810.3 280.4 L811.3 281.2 L812.2 281.5 L813.1 281.2 L814.1 280.5 L815 279.2 L815.9 277.4 L816.8 275.1 L817.8 272.4 L818.7 269.2 L819.6 265.5 L820.5 261.4 L821.5 257 L822.4 252.2 L823.3 247.1 L824.2 241.6 L825.2 235.9 L826.1 230 L827 223.9 L827.9 217.7 L828.9 211.4 L829.8 205 L830.7 198.5 L831.6 192.1 L832.6 185.8 L833.5 179.6 L834.4 173.5 L835.3 167.6 L836.3 161.9 L837.2 156.4 L838.1 151.3 L839 146.5 L840 142.1 L840.9 138 L841.8 134.3 L842.7 131.1 L843.7 128.4 L844.6 126.1 L845.5 124.3 L846.4 123 L847.4 122.3 L848.3 122 L849.1 122.2 L849.9 122.7 L850.6 123.5 L851.4 124.7 L852.2 126.2 L853 128 L853.7 130.1 L854.5 132.5 L855.3 135.2 L856.1 138.2 L856.8 141.5 L857.6 145 L858.4 148.7 L859.2 152.7 L860 156.8 L860.7 161.1 L861.5 165.6 L862.3 170.2 L863.1 175 L863.8 179.8 L864.6 184.7 L865.4 189.7 L866.2 194.6 L866.9 199.6 L867.7 204.6 L868.5 209.5 L869.3 214.4 L870.1 219.2 L870.8 223.9 L871.6 228.4 L872.4 232.8 L873.2 237 L873.9 241.1 L874.7 244.9 L875.5 248.5 L876.3 251.9 L877 255 L877.8 257.8 L878.6 260.4" fill="none" stroke="#ff0000" stroke-width="4.3" stroke-linejoin="round"/>
<rect x="562.3" y="25.8" width="333" height="345.9" fill="none" stroke="#000" stroke-width="4.6"/>
<path d="M612.3 25.8 V36.4 M612.3 371.7 V360.8 M678.9 25.8 V36.4 M678.9 371.7 V360.8 M745.5 25.8 V36.4 M745.5 371.7 V360.8 M812.1 25.8 V36.4 M812.1 371.7 V360.8 M878.7 25.8 V36.4 M878.7 371.7 V360.8 M562.3 355.9 H573.2 M895.3 355.9 H884.6 M562.3 293 H573.2 M895.3 293 H884.6 M562.3 230.1 H573.2 M895.3 230.1 H884.6 M562.3 167.2 H573.2 M895.3 167.2 H884.6 M562.3 104.3 H573.2 M895.3 104.3 H884.6 M562.3 41.4 H573.2 M895.3 41.4 H884.6" stroke="#000" stroke-width="4.6" fill="none"/>
<g font-family="Liberation Sans" font-size="26" fill="#000"><text x="611.1" y="406.2" text-anchor="middle">0.2</text><text x="677.7" y="406.2" text-anchor="middle">0.4</text><text x="744.3" y="406.2" text-anchor="middle">0.6</text><text x="810.9" y="406.2" text-anchor="middle">0.8</text><text x="554.3" y="365.9" text-anchor="end">0</text><text x="554.3" y="303" text-anchor="end">0.2</text><text x="554.3" y="240.1" text-anchor="end">0.4</text><text x="554.3" y="177.2" text-anchor="end">0.6</text><text x="554.3" y="114.3" text-anchor="end">0.8</text><path d="M880.6 387.6 V406 H877.9 V391.9 L872.9 394.9 V392.2 L878.4 387.6Z"/><path d="M550.7 33.6 V52.1 H548 V37.9 L543 40.9 V38.2 L548.5 33.6Z"/></g>
<text x="687.5" y="443.8" font-family="Liberation Sans" font-size="30" font-style="italic">t</text>
<text transform="translate(696.3 456.7) scale(1.18 1)" font-family="Liberation Serif" font-size="24" font-style="italic">&#x3d5;</text>
<text x="721.3" y="444" font-family="Liberation Sans" font-size="29.5">(ns)</text>
<g transform="translate(492.3 213.7) rotate(-90)"><text transform="scale(1.03 1)" font-family="Liberation Sans" font-size="30" font-style="italic">P</text><text transform="translate(19.3 13.2) scale(1.12 1)" font-family="Liberation Sans" font-size="22.5">y</text></g>
<g fill="#0000ff"><circle cx="141.4" cy="535.6" r="4.6"/><circle cx="154.7" cy="552" r="4.6"/><circle cx="158.2" cy="550.5" r="4.6"/><circle cx="131.3" cy="578" r="4.6"/><circle cx="135.1" cy="578.6" r="4.6"/><circle cx="148.1" cy="578" r="4.6"/><circle cx="124.3" cy="587.4" r="4.6"/><circle cx="121.2" cy="591.9" r="4.6"/><circle cx="111.1" cy="595" r="4.6"/><circle cx="114.9" cy="597.5" r="4.6"/><circle cx="151.5" cy="591.9" r="4.6"/><circle cx="164.8" cy="584.3" r="4.6"/><circle cx="138.3" cy="603.9" r="4.6"/><circle cx="161.7" cy="604.5" r="4.6"/><circle cx="174.9" cy="601.1" r="4.6"/><circle cx="188.2" cy="601.1" r="4.6"/><circle cx="201.5" cy="571.6" r="4.6"/><circle cx="211" cy="561.5" r="4.6"/><circle cx="207.8" cy="593.1" r="4.6"/><circle cx="204.6" cy="601.3" r="4.6"/><circle cx="118" cy="620.3" r="4.6"/><circle cx="128.1" cy="625.6" r="4.6"/><circle cx="108.2" cy="627.6" r="4.6"/><circle cx="167.3" cy="618" r="4.6"/><circle cx="171.4" cy="614.6" r="4.6"/><circle cx="178.7" cy="634.2" r="4.6"/><circle cx="182.5" cy="632" r="4.6"/><circle cx="184.8" cy="637.8" r="4.6"/><circle cx="195.2" cy="631.1" r="4.6"/><circle cx="198.3" cy="627.9" r="4.6"/><circle cx="191.4" cy="645.6" r="4.6"/><circle cx="214.7" cy="570.4" r="4.6"/><circle cx="224.2" cy="564" r="4.6"/><circle cx="228.7" cy="567" r="4.6"/><circle cx="231.2" cy="579.8" r="4.6"/><circle cx="235" cy="578" r="4.6"/><circle cx="238.1" cy="582.4" r="4.6"/><circle cx="244.5" cy="576.7" r="4.6"/><circle cx="250.8" cy="565.9" r="4.6"/><circle cx="254.6" cy="562.4" r="4.6"/><circle cx="217.9" cy="591.2" r="4.6"/><circle cx="241.3" cy="596.9" r="4.6"/><circle cx="248.3" cy="601.1" r="4.6"/><circle cx="260.9" cy="599.8" r="4.6"/><circle cx="258.1" cy="606.4" r="4.6"/><circle cx="264.7" cy="584.3" r="4.6"/><circle cx="267.2" cy="589.3" r="4.6"/><circle cx="271" cy="561.9" r="4.6"/><circle cx="278" cy="567.5" r="4.6"/><circle cx="274.6" cy="598.8" r="4.6"/><circle cx="221.5" cy="620.3" r="4.6"/><circle cx="284.7" cy="536.2" r="4.6"/><circle cx="294.8" cy="543.8" r="4.6"/><circle cx="291.3" cy="549.5" r="4.6"/><circle cx="308" cy="545.1" r="4.6"/><circle cx="314.6" cy="529.9" r="4.6"/><circle cx="304.5" cy="575.4" r="4.6"/><circle cx="322.9" cy="583.6" r="4.6"/><circle cx="311.5" cy="610.2" r="4.6"/><circle cx="337.8" cy="547" r="4.6"/><circle cx="364.4" cy="552.3" r="4.6"/><circle cx="404.6" cy="564.7" r="4.6"/><circle cx="334.7" cy="569.5" r="4.6"/><circle cx="347.9" cy="573.3" r="4.6"/><circle cx="350.5" cy="572.3" r="4.6"/><circle cx="368.2" cy="571.6" r="4.6"/><circle cx="330.9" cy="582.1" r="4.6"/><circle cx="327.7" cy="591.9" r="4.6"/><circle cx="341.4" cy="591.2" r="4.6"/><circle cx="344.8" cy="594.8" r="4.6"/><circle cx="354.5" cy="590.2" r="4.6"/><circle cx="387.8" cy="602" r="4.6"/><circle cx="401" cy="605.4" r="4.6"/><circle cx="394.5" cy="611.2" r="4.6"/><circle cx="374.5" cy="614" r="4.6"/><circle cx="358.1" cy="622.6" r="4.6"/><circle cx="361.2" cy="620.1" r="4.6"/><circle cx="371.3" cy="631.4" r="4.6"/><circle cx="378.3" cy="634.2" r="4.6"/><circle cx="382.1" cy="637.4" r="4.6"/><circle cx="385.2" cy="637.4" r="4.6"/><circle cx="391.6" cy="629.2" r="4.6"/><circle cx="397.9" cy="622.2" r="4.6"/><circle cx="408" cy="621.8" r="4.6"/></g>
<path d="M108.5 613.4 L109.5 613.5 L110.4 613.5 L111.4 613.3 L112.3 612.9 L113.3 612.3 L114.2 611.6 L115.2 610.7 L116.2 609.7 L117.1 608.5 L118.1 607.2 L119 605.7 L120 604.2 L120.9 602.5 L121.9 600.7 L122.8 598.8 L123.8 596.9 L124.8 594.9 L125.7 592.9 L126.7 590.8 L127.6 588.7 L128.6 586.6 L129.5 584.6 L130.5 582.5 L131.5 580.5 L132.4 578.6 L133.4 576.7 L134.3 574.9 L135.3 573.2 L136.2 571.6 L137.2 570.1 L138.1 568.8 L139.1 567.5 L140.1 566.5 L141 565.5 L142 564.8 L142.9 564.2 L143.9 563.7 L144.8 563.5 L145.8 563.4 L146.7 563.5 L147.7 563.7 L148.6 564.1 L149.5 564.6 L150.4 565.3 L151.4 566.1 L152.3 567 L153.2 568.1 L154.1 569.3 L155.1 570.6 L156 572 L156.9 573.5 L157.8 575.1 L158.8 576.8 L159.7 578.5 L160.6 580.3 L161.5 582.1 L162.5 584 L163.4 585.9 L164.3 587.7 L165.2 589.6 L166.2 591.5 L167.1 593.3 L168 595.1 L168.9 596.8 L169.9 598.5 L170.8 600.1 L171.7 601.6 L172.6 603 L173.6 604.3 L174.5 605.5 L175.4 606.6 L176.3 607.5 L177.3 608.3 L178.2 609 L179.1 609.5 L180 609.9 L181 610.1 L181.9 610.2 L182.8 610.1 L183.7 609.9 L184.7 609.6 L185.6 609.1 L186.5 608.5 L187.4 607.7 L188.4 606.8 L189.3 605.8 L190.2 604.7 L191.1 603.5 L192.1 602.2 L193 600.8 L193.9 599.3 L194.8 597.7 L195.7 596.1 L196.7 594.5 L197.6 592.8 L198.5 591 L199.4 589.3 L200.4 587.5 L201.3 585.8 L202.2 584 L203.1 582.3 L204.1 580.7 L205 579.1 L205.9 577.5 L206.8 576 L207.7 574.6 L208.7 573.3 L209.6 572.1 L210.5 571 L211.4 570 L212.4 569.1 L213.3 568.3 L214.2 567.7 L215.1 567.2 L216.1 566.9 L217 566.7 L217.9 566.6 L218.8 566.7 L219.7 566.9 L220.6 567.2 L221.5 567.6 L222.4 568.2 L223.3 568.9 L224.3 569.7 L225.2 570.6 L226.1 571.6 L227 572.7 L227.9 573.9 L228.8 575.2 L229.7 576.6 L230.6 578 L231.5 579.4 L232.4 581 L233.3 582.5 L234.2 584.1 L235.1 585.7 L236.1 587.3 L237 588.9 L237.9 590.5 L238.8 592 L239.7 593.6 L240.6 595 L241.5 596.4 L242.4 597.8 L243.3 599.1 L244.2 600.3 L245.1 601.4 L246 602.4 L246.9 603.3 L247.9 604.1 L248.8 604.8 L249.7 605.4 L250.6 605.8 L251.5 606.1 L252.4 606.3 L253.3 606.4 L254.3 606.3 L255.2 606.2 L256.2 605.9 L257.1 605.5 L258.1 604.9 L259 604.3 L260 603.6 L261 602.7 L261.9 601.8 L262.9 600.8 L263.8 599.7 L264.8 598.5 L265.7 597.2 L266.7 595.9 L267.6 594.6 L268.6 593.2 L269.6 591.7 L270.5 590.3 L271.5 588.8 L272.4 587.3 L273.4 585.8 L274.3 584.4 L275.3 582.9 L276.3 581.5 L277.2 580.2 L278.2 578.9 L279.1 577.6 L280.1 576.4 L281 575.3 L282 574.3 L282.9 573.4 L283.9 572.5 L284.9 571.8 L285.8 571.2 L286.8 570.6 L287.7 570.2 L288.7 569.9 L289.6 569.8 L290.6 569.7 L291.5 569.8 L292.4 569.9 L293.4 570.2 L294.3 570.6 L295.2 571.1 L296.1 571.7 L297 572.3 L297.9 573.1 L298.9 574 L299.8 575 L300.7 576 L301.6 577.1 L302.5 578.2 L303.5 579.5 L304.4 580.7 L305.3 582 L306.2 583.4 L307.1 584.7 L308 586.1 L309 587.5 L309.9 588.9 L310.8 590.2 L311.7 591.6 L312.6 592.9 L313.5 594.1 L314.5 595.4 L315.4 596.5 L316.3 597.6 L317.2 598.6 L318.1 599.6 L319.1 600.5 L320 601.3 L320.9 601.9 L321.8 602.5 L322.7 603 L323.6 603.4 L324.6 603.7 L325.5 603.8 L326.4 603.9 L327.3 603.8 L328.2 603.7 L329.1 603.4 L330 603.1 L330.9 602.6 L331.8 602.1 L332.8 601.4 L333.7 600.7 L334.6 599.8 L335.5 598.9 L336.4 598 L337.3 596.9 L338.2 595.8 L339.1 594.7 L340 593.5 L340.9 592.2 L341.8 591 L342.7 589.7 L343.6 588.4 L344.6 587.1 L345.5 585.8 L346.4 584.5 L347.3 583.3 L348.2 582 L349.1 580.8 L350 579.7 L350.9 578.6 L351.8 577.5 L352.7 576.6 L353.6 575.7 L354.5 574.8 L355.4 574.1 L356.4 573.4 L357.3 572.9 L358.2 572.4 L359.1 572.1 L360 571.8 L360.9 571.7 L361.8 571.6 L362.7 571.6 L363.7 571.8 L364.6 572 L365.6 572.3 L366.5 572.8 L367.4 573.3 L368.4 573.9 L369.3 574.5 L370.3 575.3 L371.2 576.1 L372.2 576.9 L373.1 577.9 L374 578.9 L375 579.9 L375.9 581 L376.9 582.1 L377.8 583.2 L378.7 584.4 L379.7 585.6 L380.6 586.7 L381.6 587.9 L382.5 589.1 L383.4 590.2 L384.4 591.3 L385.3 592.4 L386.3 593.4 L387.2 594.4 L388.1 595.4 L389.1 596.2 L390 597 L391 597.8 L391.9 598.4 L392.9 599 L393.8 599.5 L394.7 600 L395.7 600.3 L396.6 600.5 L397.6 600.7 L398.5 600.7 L398.7 600.7 L399 600.7 L399.2 600.7 L399.5 600.7 L399.7 600.7 L400 600.6 L400.2 600.6 L400.4 600.6 L400.7 600.6 L400.9 600.5 L401.2 600.5 L401.4 600.5 L401.7 600.4 L401.9 600.4 L402.2 600.3 L402.4 600.3 L402.6 600.2 L402.9 600.1 L403.1 600.1 L403.4 600 L403.6 599.9 L403.9 599.9 L404.1 599.8 L404.3 599.7 L404.6 599.6 L404.8 599.6 L405.1 599.5 L405.3 599.4 L405.6 599.3 L405.8 599.2 L406.1 599.1 L406.3 599 L406.5 598.9 L406.8 598.8 L407 598.7 L407.3 598.6 L407.5 598.4 L407.8 598.3 L408 598.2" fill="none" stroke="#0000ff" stroke-width="4.3" stroke-linejoin="round"/>
<g fill="#ff0000"><circle cx="141.2" cy="650.4" r="4.6"/><circle cx="144.8" cy="668.3" r="4.6"/><circle cx="150.6" cy="674.1" r="4.6"/><circle cx="147.7" cy="676.3" r="4.6"/><circle cx="134.6" cy="682.4" r="4.6"/><circle cx="108.2" cy="697.7" r="4.6"/><circle cx="137.5" cy="693.7" r="4.6"/><circle cx="124.5" cy="701.2" r="4.6"/><circle cx="154.7" cy="690.8" r="4.6"/><circle cx="165.1" cy="696.3" r="4.6"/><circle cx="170.9" cy="694.4" r="4.6"/><circle cx="158.6" cy="707.5" r="4.6"/><circle cx="168" cy="710.4" r="4.6"/><circle cx="174.5" cy="710.4" r="4.6"/><circle cx="179.6" cy="707.5" r="4.6"/><circle cx="203" cy="683.5" r="4.6"/><circle cx="191.2" cy="693.4" r="4.6"/><circle cx="194.4" cy="707.5" r="4.6"/><circle cx="205" cy="699.5" r="4.6"/><circle cx="111.4" cy="722.7" r="4.6"/><circle cx="115" cy="728.2" r="4.6"/><circle cx="121.6" cy="727.8" r="4.6"/><circle cx="181.1" cy="727.1" r="4.6"/><circle cx="184.7" cy="725.3" r="4.6"/><circle cx="198.2" cy="731.7" r="4.6"/><circle cx="188" cy="741.9" r="4.6"/><circle cx="128.1" cy="746.6" r="4.6"/><circle cx="131.4" cy="755.4" r="4.6"/><circle cx="118.4" cy="767.7" r="4.6"/><circle cx="208.6" cy="717.6" r="4.6"/><circle cx="211.5" cy="722.4" r="4.6"/><circle cx="231.6" cy="668.7" r="4.6"/><circle cx="234.8" cy="665.8" r="4.6"/><circle cx="251.2" cy="665" r="4.6"/><circle cx="244.3" cy="684.3" r="4.6"/><circle cx="247.8" cy="680.9" r="4.6"/><circle cx="242" cy="691.9" r="4.6"/><circle cx="237.7" cy="699.2" r="4.6"/><circle cx="221.4" cy="699.2" r="4.6"/><circle cx="217.8" cy="703.1" r="4.6"/><circle cx="227.9" cy="708.2" r="4.6"/><circle cx="224.6" cy="728.8" r="4.6"/><circle cx="254.8" cy="709.4" r="4.6"/><circle cx="261.3" cy="710.4" r="4.6"/><circle cx="265.7" cy="712.3" r="4.6"/><circle cx="257.7" cy="725.6" r="4.6"/><circle cx="274.8" cy="742.7" r="4.6"/><circle cx="267.8" cy="670.8" r="4.6"/><circle cx="271.5" cy="689.6" r="4.6"/><circle cx="278" cy="662.1" r="4.6"/><circle cx="282.4" cy="667.6" r="4.6"/><circle cx="284.5" cy="672.2" r="4.6"/><circle cx="291.1" cy="669" r="4.6"/><circle cx="287.9" cy="681.4" r="4.6"/><circle cx="294.7" cy="702.4" r="4.6"/><circle cx="298" cy="686.1" r="4.6"/><circle cx="301.2" cy="693" r="4.6"/><circle cx="304.4" cy="663.5" r="4.6"/><circle cx="307.7" cy="659.6" r="4.6"/><circle cx="317.9" cy="654.2" r="4.6"/><circle cx="314.6" cy="681.4" r="4.6"/><circle cx="321.2" cy="683.2" r="4.6"/><circle cx="311.4" cy="709.6" r="4.6"/><circle cx="323" cy="690" r="4.6"/><circle cx="328.1" cy="656.3" r="4.6"/><circle cx="364.4" cy="659.6" r="4.6"/><circle cx="384.3" cy="662.9" r="4.6"/><circle cx="354.3" cy="669" r="4.6"/><circle cx="324.5" cy="690.8" r="4.6"/><circle cx="351.4" cy="693.4" r="4.6"/><circle cx="337.9" cy="698.8" r="4.6"/><circle cx="331.5" cy="705.3" r="4.6"/><circle cx="377.9" cy="686.7" r="4.6"/><circle cx="381.1" cy="695.1" r="4.6"/><circle cx="388.4" cy="695.9" r="4.6"/><circle cx="395.6" cy="700.9" r="4.6"/><circle cx="398.8" cy="702.7" r="4.6"/><circle cx="401.4" cy="708.2" r="4.6"/><circle cx="404.3" cy="710.8" r="4.6"/><circle cx="368" cy="709.6" r="4.6"/><circle cx="371.7" cy="708.9" r="4.6"/><circle cx="334.7" cy="722.4" r="4.6"/><circle cx="348" cy="723.9" r="4.6"/><circle cx="361.1" cy="723.4" r="4.6"/><circle cx="374.6" cy="730" r="4.6"/><circle cx="404.6" cy="732.1" r="4.6"/><circle cx="341.2" cy="736.5" r="4.6"/><circle cx="344.8" cy="736.9" r="4.6"/><circle cx="357.9" cy="738.7" r="4.6"/><circle cx="391.3" cy="766.2" r="4.6"/><circle cx="407.9" cy="773.5" r="4.6"/></g>
<path d="M107.8 711.1 L108.1 711.5 L108.4 711.8 L108.7 712.2 L109 712.5 L109.3 712.9 L109.6 713.2 L109.9 713.6 L110.2 713.9 L110.5 714.2 L110.8 714.5 L111.1 714.8 L111.4 715.1 L111.7 715.4 L112 715.6 L112.3 715.9 L112.6 716.2 L112.9 716.4 L113.2 716.6 L113.5 716.9 L113.7 717.1 L114 717.3 L114.3 717.5 L114.6 717.7 L114.9 717.8 L115.2 718 L115.5 718.1 L115.8 718.3 L116.1 718.4 L116.4 718.5 L116.7 718.6 L117 718.7 L117.3 718.8 L117.6 718.9 L117.9 719 L118.2 719 L118.5 719 L118.8 719.1 L119.1 719.1 L119.4 719.1 L120.3 719 L121.3 718.9 L122.2 718.6 L123.1 718.1 L124.1 717.6 L125 717 L125.9 716.2 L126.8 715.4 L127.8 714.4 L128.7 713.4 L129.6 712.3 L130.6 711.1 L131.5 709.9 L132.4 708.5 L133.4 707.2 L134.3 705.7 L135.2 704.3 L136.2 702.8 L137.1 701.3 L138 699.9 L138.9 698.4 L139.9 696.9 L140.8 695.5 L141.7 694 L142.7 692.7 L143.6 691.4 L144.5 690.1 L145.5 688.9 L146.4 687.8 L147.3 686.8 L148.3 685.8 L149.2 685 L150.1 684.2 L151 683.6 L152 683.1 L152.9 682.6 L153.8 682.3 L154.8 682.2 L155.7 682.1 L156.6 682.2 L157.5 682.3 L158.4 682.6 L159.3 683 L160.3 683.5 L161.2 684.1 L162.1 684.8 L163 685.6 L163.9 686.5 L164.8 687.4 L165.7 688.5 L166.6 689.6 L167.5 690.8 L168.4 692 L169.4 693.3 L170.3 694.7 L171.2 696 L172.1 697.4 L173 698.8 L173.9 700.2 L174.8 701.6 L175.7 703 L176.6 704.3 L177.5 705.7 L178.5 707 L179.4 708.2 L180.3 709.4 L181.2 710.5 L182.1 711.6 L183 712.5 L183.9 713.4 L184.8 714.2 L185.7 714.9 L186.6 715.5 L187.6 716 L188.5 716.4 L189.4 716.7 L190.3 716.8 L191.2 716.9 L192.1 716.8 L193.1 716.7 L194 716.4 L195 716.1 L195.9 715.6 L196.8 715 L197.8 714.4 L198.7 713.6 L199.7 712.8 L200.6 711.9 L201.6 710.9 L202.5 709.9 L203.4 708.8 L204.4 707.6 L205.3 706.4 L206.3 705.1 L207.2 703.9 L208.1 702.6 L209.1 701.3 L210 699.9 L211 698.6 L211.9 697.3 L212.8 696.1 L213.8 694.8 L214.7 693.6 L215.7 692.4 L216.6 691.3 L217.5 690.3 L218.5 689.3 L219.4 688.4 L220.4 687.6 L221.3 686.8 L222.3 686.2 L223.2 685.6 L224.1 685.1 L225.1 684.8 L226 684.5 L227 684.4 L227.9 684.3 L228.8 684.4 L229.8 684.5 L230.7 684.8 L231.6 685.1 L232.6 685.5 L233.5 686.1 L234.4 686.7 L235.3 687.4 L236.3 688.2 L237.2 689.1 L238.1 690 L239.1 691 L240 692.1 L240.9 693.2 L241.9 694.3 L242.8 695.5 L243.7 696.7 L244.7 698 L245.6 699.2 L246.5 700.5 L247.4 701.7 L248.4 703 L249.3 704.2 L250.2 705.4 L251.2 706.5 L252.1 707.6 L253 708.7 L254 709.7 L254.9 710.6 L255.8 711.5 L256.8 712.3 L257.7 713 L258.6 713.6 L259.5 714.2 L260.5 714.6 L261.4 714.9 L262.3 715.2 L263.3 715.3 L264.2 715.4 L265.2 715.4 L266.2 715.2 L267.2 715 L268.2 714.7 L269.2 714.3 L270.2 713.8 L271.2 713.2 L272.2 712.6 L273.2 711.9 L274.3 711.1 L275.3 710.2 L276.3 709.3 L277.3 708.4 L278.3 707.3 L279.3 706.3 L280.3 705.2 L281.3 704.1 L282.3 703 L283.3 701.9 L284.3 700.7 L285.3 699.6 L286.3 698.5 L287.3 697.4 L288.3 696.3 L289.3 695.3 L290.3 694.2 L291.3 693.3 L292.3 692.4 L293.3 691.5 L294.4 690.7 L295.4 690 L296.4 689.4 L297.4 688.8 L298.4 688.3 L299.4 687.9 L300.4 687.6 L301.4 687.4 L302.4 687.2 L303.4 687.2 L304.2 687.2 L305 687.4 L305.9 687.6 L306.7 687.9 L307.5 688.2 L308.3 688.7 L309.1 689.2 L310 689.8 L310.8 690.5 L311.6 691.2 L312.4 692 L313.2 692.8 L314.1 693.7 L314.9 694.7 L315.7 695.6 L316.5 696.6 L317.3 697.6 L318.2 698.7 L319 699.7 L319.8 700.8 L320.6 701.8 L321.5 702.9 L322.3 703.9 L323.1 704.9 L323.9 705.8 L324.7 706.8 L325.6 707.7 L326.4 708.5 L327.2 709.3 L328 710 L328.8 710.7 L329.7 711.3 L330.5 711.8 L331.3 712.3 L332.1 712.6 L332.9 712.9 L333.8 713.1 L334.6 713.3 L335.4 713.3 L336.3 713.3 L337.3 713.1 L338.2 712.9 L339.2 712.6 L340.1 712.3 L341.1 711.8 L342 711.3 L343 710.8 L343.9 710.1 L344.9 709.4 L345.8 708.6 L346.8 707.8 L347.7 706.9 L348.7 706 L349.6 705.1 L350.6 704.1 L351.5 703.1 L352.5 702.1 L353.4 701.1 L354.4 700.1 L355.3 699.1 L356.3 698.1 L357.2 697.1 L358.2 696.1 L359.1 695.2 L360.1 694.2 L361 693.4 L362 692.6 L362.9 691.8 L363.9 691.1 L364.8 690.4 L365.8 689.9 L366.7 689.4 L367.7 688.9 L368.6 688.6 L369.6 688.3 L370.5 688.1 L371.5 687.9 L372.4 687.9 L373.3 687.9 L374.2 688 L375.1 688.2 L376 688.5 L377 688.8 L377.9 689.2 L378.8 689.6 L379.7 690.1 L380.6 690.7 L381.5 691.3 L382.4 692 L383.3 692.7 L384.2 693.5 L385.1 694.3 L386.1 695.1 L387 696 L387.9 696.8 L388.8 697.8 L389.7 698.7 L390.6 699.6 L391.5 700.5 L392.4 701.4 L393.3 702.4 L394.2 703.3 L395.2 704.1 L396.1 705 L397 705.8 L397.9 706.6 L398.8 707.4 L399.7 708.1 L400.6 708.7 L401.5 709.3 L402.4 709.9 L403.3 710.3 L404.3 710.8 L405.2 711.1 L406.1 711.4 L407 711.6 L407.9 711.8" fill="none" stroke="#ff0000" stroke-width="4.3" stroke-linejoin="round"/>
<rect x="91.6" y="528.2" width="333" height="345.9" fill="none" stroke="#000" stroke-width="4.6"/>
<path d="M141.6 528.2 V538.8 M141.6 874.1 V863.2 M208.2 528.2 V538.8 M208.2 874.1 V863.2 M274.8 528.2 V538.8 M274.8 874.1 V863.2 M341.4 528.2 V538.8 M341.4 874.1 V863.2 M408 528.2 V538.8 M408 874.1 V863.2 M91.6 858.3 H102.5 M424.6 858.3 H413.9 M91.6 795.4 H102.5 M424.6 795.4 H413.9 M91.6 732.5 H102.5 M424.6 732.5 H413.9 M91.6 669.6 H102.5 M424.6 669.6 H413.9 M91.6 606.7 H102.5 M424.6 606.7 H413.9 M91.6 543.8 H102.5 M424.6 543.8 H413.9" stroke="#000" stroke-width="4.6" fill="none"/>
<g font-family="Liberation Sans" font-size="26" fill="#000"><text x="140.4" y="908.6" text-anchor="middle">0.2</text><text x="207" y="908.6" text-anchor="middle">0.4</text><text x="273.6" y="908.6" text-anchor="middle">0.6</text><text x="340.2" y="908.6" text-anchor="middle">0.8</text><text x="83.6" y="868.3" text-anchor="end">0</text><text x="83.6" y="805.4" text-anchor="end">0.2</text><text x="83.6" y="742.5" text-anchor="end">0.4</text><text x="83.6" y="679.6" text-anchor="end">0.6</text><text x="83.6" y="616.7" text-anchor="end">0.8</text><path d="M409.9 890 V908.4 H407.2 V894.3 L402.2 897.3 V894.6 L407.7 890Z"/><path d="M80 536 V554.5 H77.3 V540.3 L72.3 543.3 V540.6 L77.8 536Z"/></g>
<text x="216.8" y="946.2" font-family="Liberation Sans" font-size="30" font-style="italic">t</text>
<text transform="translate(225.6 959.1) scale(1.18 1)" font-family="Liberation Serif" font-size="24" font-style="italic">&#x3d5;</text>
<text x="250.6" y="946.4" font-family="Liberation Sans" font-size="29.5">(ns)</text>
<g transform="translate(21.6 716.1) rotate(-90)"><text transform="scale(1.03 1)" font-family="Liberation Sans" font-size="30" font-style="italic">P</text><text transform="translate(19.3 13.2) scale(1.12 1)" font-family="Liberation Sans" font-size="22.5">z</text></g>
<defs><radialGradient id="sph" cx="0.55" cy="0.42" r="0.6"><stop offset="0" stop-color="#f4f4f4"/><stop offset="0.8" stop-color="#ededed"/><stop offset="1" stop-color="#e3e3e3"/></radialGradient></defs>
<circle cx="724.8" cy="722.6" r="175.5" fill="url(#sph)"/>
<g fill="none" stroke-linecap="round"><path d="M833.7 663.3 L830.6 662.2" stroke="rgb(173,0,0)" stroke-width="9"/><path d="M830.6 662.2 L827.4 661.2" stroke="rgb(173,0,0)" stroke-width="9"/><path d="M827.4 661.2 L824.2 660.2" stroke="rgb(173,0,0)" stroke-width="8.9"/><path d="M824.2 660.2 L820.9 659.3" stroke="rgb(172,0,0)" stroke-width="8.9"/><path d="M820.9 659.3 L817.6 658.4" stroke="rgb(172,0,0)" stroke-width="8.9"/><path d="M817.6 658.4 L814.2 657.6" stroke="rgb(172,0,0)" stroke-width="8.9"/><path d="M814.2 657.6 L810.9 656.8" stroke="rgb(171,0,0)" stroke-width="8.8"/><path d="M810.9 656.8 L807.4 656.1" stroke="rgb(171,0,0)" stroke-width="8.8"/><path d="M807.4 656.1 L804 655.4" stroke="rgb(171,0,0)" stroke-width="8.8"/><path d="M804 655.4 L800.5 654.7" stroke="rgb(171,0,0)" stroke-width="8.8"/><path d="M800.5 654.7 L797 654.1" stroke="rgb(170,0,0)" stroke-width="8.8"/><path d="M797 654.1 L793.5 653.5" stroke="rgb(170,0,0)" stroke-width="8.7"/><path d="M793.5 653.5 L789.9 652.9" stroke="rgb(170,0,0)" stroke-width="8.7"/><path d="M789.9 652.9 L786.3 652.5" stroke="rgb(170,0,0)" stroke-width="8.7"/><path d="M786.3 652.5 L782.7 652" stroke="rgb(169,0,0)" stroke-width="8.7"/><path d="M782.7 652 L779.1 651.6" stroke="rgb(169,0,0)" stroke-width="8.7"/><path d="M779.1 651.6 L775.4 651.2" stroke="rgb(169,0,0)" stroke-width="8.6"/><path d="M775.4 651.2 L771.7 650.9" stroke="rgb(169,0,0)" stroke-width="8.6"/><path d="M771.7 650.9 L768 650.6" stroke="rgb(169,0,0)" stroke-width="8.6"/><path d="M768 650.6 L764.3 650.4" stroke="rgb(169,0,0)" stroke-width="8.6"/><path d="M764.3 650.4 L760.6 650.2" stroke="rgb(168,0,0)" stroke-width="8.6"/><path d="M760.6 650.2 L756.9 650" stroke="rgb(168,0,0)" stroke-width="8.6"/><path d="M756.9 650 L753.1 649.9" stroke="rgb(168,0,0)" stroke-width="8.6"/><path d="M753.1 649.9 L749.4 649.9" stroke="rgb(168,0,0)" stroke-width="8.6"/><path d="M749.4 649.9 L745.6 649.8" stroke="rgb(168,0,0)" stroke-width="8.6"/><path d="M745.6 649.8 L741.8 649.8" stroke="rgb(168,0,0)" stroke-width="8.6"/><path d="M741.8 649.8 L738.1 649.9" stroke="rgb(168,0,0)" stroke-width="8.5"/><path d="M738.1 649.9 L734.3 650" stroke="rgb(168,0,0)" stroke-width="8.5"/><path d="M734.3 650 L730.5 650.1" stroke="rgb(168,0,0)" stroke-width="8.5"/><path d="M730.5 650.1 L726.7 650.3" stroke="rgb(168,0,0)" stroke-width="8.5"/><path d="M726.7 650.3 L722.9 650.5" stroke="rgb(168,0,0)" stroke-width="8.5"/><path d="M722.9 650.5 L719.1 650.8" stroke="rgb(168,0,0)" stroke-width="8.5"/><path d="M719.1 650.8 L715.4 651.1" stroke="rgb(168,0,0)" stroke-width="8.5"/><path d="M715.4 651.1 L711.6 651.5" stroke="rgb(168,0,0)" stroke-width="8.5"/><path d="M711.6 651.5 L707.8 651.8" stroke="rgb(168,0,0)" stroke-width="8.5"/><path d="M707.8 651.8 L704.1 652.3" stroke="rgb(168,0,0)" stroke-width="8.5"/><path d="M704.1 652.3 L700.3 652.7" stroke="rgb(168,0,0)" stroke-width="8.5"/><path d="M700.3 652.7 L696.6 653.2" stroke="rgb(168,0,0)" stroke-width="8.5"/><path d="M696.6 653.2 L692.9 653.8" stroke="rgb(168,0,0)" stroke-width="8.6"/><path d="M692.9 653.8 L689.1 654.4" stroke="rgb(168,0,0)" stroke-width="8.6"/><path d="M689.1 654.4 L685.4 655" stroke="rgb(168,0,0)" stroke-width="8.6"/><path d="M685.4 655 L681.8 655.7" stroke="rgb(168,0,0)" stroke-width="8.6"/><path d="M681.8 655.7 L678.1 656.4" stroke="rgb(168,0,0)" stroke-width="8.6"/><path d="M678.1 656.4 L674.4 657.2" stroke="rgb(169,0,0)" stroke-width="8.6"/><path d="M674.4 657.2 L670.8 658" stroke="rgb(169,0,0)" stroke-width="8.6"/><path d="M670.8 658 L667.2 658.8" stroke="rgb(169,0,0)" stroke-width="8.6"/><path d="M667.2 658.8 L663.6 659.7" stroke="rgb(169,0,0)" stroke-width="8.6"/><path d="M663.6 659.7 L660.1 660.6" stroke="rgb(169,0,0)" stroke-width="8.7"/><path d="M660.1 660.6 L656.5 661.5" stroke="rgb(169,0,0)" stroke-width="8.7"/><path d="M656.5 661.5 L653 662.5" stroke="rgb(170,0,0)" stroke-width="8.7"/><path d="M653 662.5 L649.6 663.5" stroke="rgb(170,0,0)" stroke-width="8.7"/><path d="M649.6 663.5 L646.1 664.6" stroke="rgb(170,0,0)" stroke-width="8.7"/><path d="M646.1 664.6 L642.7 665.7" stroke="rgb(170,0,0)" stroke-width="8.7"/><path d="M642.7 665.7 L639.4 666.8" stroke="rgb(170,0,0)" stroke-width="8.8"/><path d="M639.4 666.8 L636 668" stroke="rgb(171,0,0)" stroke-width="8.8"/><path d="M636 668 L632.7 669.2" stroke="rgb(171,0,0)" stroke-width="8.8"/><path d="M632.7 669.2 L629.5 670.5" stroke="rgb(171,0,0)" stroke-width="8.8"/><path d="M629.5 670.5 L626.3 671.8" stroke="rgb(171,0,0)" stroke-width="8.9"/><path d="M626.3 671.8 L623.1 673.1" stroke="rgb(172,0,0)" stroke-width="8.9"/><path d="M623.1 673.1 L620 674.5" stroke="rgb(172,0,0)" stroke-width="8.9"/><path d="M620 674.5 L616.9 675.9" stroke="rgb(172,0,0)" stroke-width="8.9"/><path d="M616.9 675.9 L613.8 677.3" stroke="rgb(173,0,0)" stroke-width="9"/><path d="M613.8 677.3 L610.9 678.8" stroke="rgb(173,0,0)" stroke-width="9"/><path d="M610.9 678.8 L607.9 680.3" stroke="rgb(173,0,0)" stroke-width="9"/><path d="M607.9 680.3 L605.1 681.9" stroke="rgb(174,0,0)" stroke-width="9"/><path d="M605.1 681.9 L602.2 683.4" stroke="rgb(174,0,0)" stroke-width="9.1"/><path d="M602.2 683.4 L599.5 685" stroke="rgb(174,0,0)" stroke-width="9.1"/><path d="M599.5 685 L596.8 686.7" stroke="rgb(175,0,0)" stroke-width="9.1"/><path d="M596.8 686.7 L594.1 688.4" stroke="rgb(175,0,0)" stroke-width="9.2"/><path d="M594.1 688.4 L591.5 690.1" stroke="rgb(175,0,0)" stroke-width="9.2"/><path d="M591.5 690.1 L589 691.8" stroke="rgb(176,0,0)" stroke-width="9.2"/><path d="M589 691.8 L586.6 693.6" stroke="rgb(176,0,0)" stroke-width="9.3"/><path d="M586.6 693.6 L584.2 695.4" stroke="rgb(177,0,0)" stroke-width="9.3"/><path d="M584.2 695.4 L581.9 697.2" stroke="rgb(177,0,0)" stroke-width="9.3"/><path d="M581.9 697.2 L579.7 699.1" stroke="rgb(177,0,0)" stroke-width="9.4"/><path d="M579.7 699.1 L577.5 701" stroke="rgb(178,0,0)" stroke-width="9.4"/><path d="M577.5 701 L575.4 702.9" stroke="rgb(178,0,0)" stroke-width="9.4"/><path d="M575.4 702.9 L573.4 704.9" stroke="rgb(179,0,0)" stroke-width="9.5"/><path d="M573.4 704.9 L571.5 706.8" stroke="rgb(179,0,0)" stroke-width="9.5"/><path d="M571.5 706.8 L569.7 708.9" stroke="rgb(180,0,0)" stroke-width="9.5"/><path d="M569.7 708.9 L567.9 710.9" stroke="rgb(180,0,0)" stroke-width="9.6"/><path d="M567.9 710.9 L566.3 712.9" stroke="rgb(180,0,0)" stroke-width="9.6"/><path d="M566.3 712.9 L564.7 715" stroke="rgb(181,0,0)" stroke-width="9.6"/><path d="M564.7 715 L563.2 717.1" stroke="rgb(181,0,0)" stroke-width="9.7"/><path d="M563.2 717.1 L561.9 719.2" stroke="rgb(182,0,0)" stroke-width="9.7"/><path d="M561.9 719.2 L560.6 721.4" stroke="rgb(182,0,0)" stroke-width="9.8"/><path d="M560.6 721.4 L559.4 723.5" stroke="rgb(183,0,0)" stroke-width="9.8"/><path d="M559.4 723.5 L558.3 725.7" stroke="rgb(183,0,0)" stroke-width="9.8"/><path d="M558.3 725.7 L557.3 727.9" stroke="rgb(183,0,0)" stroke-width="9.9"/><path d="M557.3 727.9 L556.4 730.1" stroke="rgb(184,0,0)" stroke-width="9.9"/><path d="M892.6 704.7 L891.4 702.6" stroke="rgb(184,0,0)" stroke-width="9.9"/><path d="M891.4 702.6 L890 700.6" stroke="rgb(183,0,0)" stroke-width="9.9"/><path d="M890 700.6 L888.6 698.6" stroke="rgb(183,0,0)" stroke-width="9.8"/><path d="M888.6 698.6 L887.1 696.7" stroke="rgb(182,0,0)" stroke-width="9.8"/><path d="M887.1 696.7 L885.5 694.8" stroke="rgb(182,0,0)" stroke-width="9.7"/><path d="M885.5 694.8 L883.8 692.9" stroke="rgb(182,0,0)" stroke-width="9.7"/><path d="M883.8 692.9 L882 691" stroke="rgb(181,0,0)" stroke-width="9.7"/><path d="M882 691 L880.1 689.2" stroke="rgb(181,0,0)" stroke-width="9.6"/><path d="M880.1 689.2 L878.1 687.4" stroke="rgb(180,0,0)" stroke-width="9.6"/><path d="M878.1 687.4 L876.1 685.7" stroke="rgb(180,0,0)" stroke-width="9.6"/><path d="M876.1 685.7 L873.9 684" stroke="rgb(179,0,0)" stroke-width="9.5"/><path d="M873.9 684 L871.7 682.3" stroke="rgb(179,0,0)" stroke-width="9.5"/><path d="M871.7 682.3 L869.4 680.7" stroke="rgb(179,0,0)" stroke-width="9.4"/><path d="M869.4 680.7 L867.1 679.1" stroke="rgb(178,0,0)" stroke-width="9.4"/><path d="M867.1 679.1 L864.6 677.6" stroke="rgb(178,0,0)" stroke-width="9.4"/><path d="M864.6 677.6 L862.1 676.1" stroke="rgb(177,0,0)" stroke-width="9.3"/><path d="M862.1 676.1 L859.6 674.6" stroke="rgb(177,0,0)" stroke-width="9.3"/><path d="M859.6 674.6 L856.9 673.2" stroke="rgb(176,0,0)" stroke-width="9.3"/><path d="M856.9 673.2 L854.2 671.8" stroke="rgb(176,0,0)" stroke-width="9.2"/><path d="M854.2 671.8 L851.5 670.5" stroke="rgb(176,0,0)" stroke-width="9.2"/><path d="M851.5 670.5 L848.6 669.1" stroke="rgb(175,0,0)" stroke-width="9.2"/><path d="M848.6 669.1 L845.8 667.9" stroke="rgb(175,0,0)" stroke-width="9.1"/><path d="M845.8 667.9 L842.8 666.7" stroke="rgb(175,0,0)" stroke-width="9.1"/><path d="M842.8 666.7 L839.8 665.5" stroke="rgb(174,0,0)" stroke-width="9.1"/><path d="M839.8 665.5 L836.8 664.4" stroke="rgb(174,0,0)" stroke-width="9.1"/><path d="M836.8 664.4 L833.7 663.3" stroke="rgb(174,0,0)" stroke-width="9"/><path d="M833.7 663.3 L830.6 662.2" stroke="rgb(227,0,0)" stroke-width="6.3"/><path d="M830.6 662.2 L827.4 661.2" stroke="rgb(227,0,0)" stroke-width="6.3"/><path d="M827.4 661.2 L824.2 660.2" stroke="rgb(227,0,0)" stroke-width="6.3"/><path d="M824.2 660.2 L820.9 659.3" stroke="rgb(226,0,0)" stroke-width="6.2"/><path d="M820.9 659.3 L817.6 658.4" stroke="rgb(226,0,0)" stroke-width="6.2"/><path d="M817.6 658.4 L814.2 657.6" stroke="rgb(226,0,0)" stroke-width="6.2"/><path d="M814.2 657.6 L810.9 656.8" stroke="rgb(226,0,0)" stroke-width="6.2"/><path d="M810.9 656.8 L807.4 656.1" stroke="rgb(226,0,0)" stroke-width="6.2"/><path d="M807.4 656.1 L804 655.4" stroke="rgb(226,0,0)" stroke-width="6.2"/><path d="M804 655.4 L800.5 654.7" stroke="rgb(225,0,0)" stroke-width="6.1"/><path d="M800.5 654.7 L797 654.1" stroke="rgb(225,0,0)" stroke-width="6.1"/><path d="M797 654.1 L793.5 653.5" stroke="rgb(225,0,0)" stroke-width="6.1"/><path d="M793.5 653.5 L789.9 652.9" stroke="rgb(225,0,0)" stroke-width="6.1"/><path d="M789.9 652.9 L786.3 652.5" stroke="rgb(225,0,0)" stroke-width="6.1"/><path d="M786.3 652.5 L782.7 652" stroke="rgb(225,0,0)" stroke-width="6.1"/><path d="M782.7 652 L779.1 651.6" stroke="rgb(225,0,0)" stroke-width="6.1"/><path d="M779.1 651.6 L775.4 651.2" stroke="rgb(224,0,0)" stroke-width="6.1"/><path d="M775.4 651.2 L771.7 650.9" stroke="rgb(224,0,0)" stroke-width="6"/><path d="M771.7 650.9 L768 650.6" stroke="rgb(224,0,0)" stroke-width="6"/><path d="M768 650.6 L764.3 650.4" stroke="rgb(224,0,0)" stroke-width="6"/><path d="M764.3 650.4 L760.6 650.2" stroke="rgb(224,0,0)" stroke-width="6"/><path d="M760.6 650.2 L756.9 650" stroke="rgb(224,0,0)" stroke-width="6"/><path d="M756.9 650 L753.1 649.9" stroke="rgb(224,0,0)" stroke-width="6"/><path d="M753.1 649.9 L749.4 649.9" stroke="rgb(224,0,0)" stroke-width="6"/><path d="M749.4 649.9 L745.6 649.8" stroke="rgb(224,0,0)" stroke-width="6"/><path d="M745.6 649.8 L741.8 649.8" stroke="rgb(224,0,0)" stroke-width="6"/><path d="M741.8 649.8 L738.1 649.9" stroke="rgb(224,0,0)" stroke-width="6"/><path d="M738.1 649.9 L734.3 650" stroke="rgb(224,0,0)" stroke-width="6"/><path d="M734.3 650 L730.5 650.1" stroke="rgb(224,0,0)" stroke-width="6"/><path d="M730.5 650.1 L726.7 650.3" stroke="rgb(224,0,0)" stroke-width="6"/><path d="M726.7 650.3 L722.9 650.5" stroke="rgb(224,0,0)" stroke-width="6"/><path d="M722.9 650.5 L719.1 650.8" stroke="rgb(224,0,0)" stroke-width="6"/><path d="M719.1 650.8 L715.4 651.1" stroke="rgb(224,0,0)" stroke-width="6"/><path d="M715.4 651.1 L711.6 651.5" stroke="rgb(224,0,0)" stroke-width="6"/><path d="M711.6 651.5 L707.8 651.8" stroke="rgb(224,0,0)" stroke-width="6"/><path d="M707.8 651.8 L704.1 652.3" stroke="rgb(224,0,0)" stroke-width="6"/><path d="M704.1 652.3 L700.3 652.7" stroke="rgb(224,0,0)" stroke-width="6"/><path d="M700.3 652.7 L696.6 653.2" stroke="rgb(224,0,0)" stroke-width="6"/><path d="M696.6 653.2 L692.9 653.8" stroke="rgb(224,0,0)" stroke-width="6"/><path d="M692.9 653.8 L689.1 654.4" stroke="rgb(224,0,0)" stroke-width="6"/><path d="M689.1 654.4 L685.4 655" stroke="rgb(224,0,0)" stroke-width="6"/><path d="M685.4 655 L681.8 655.7" stroke="rgb(224,0,0)" stroke-width="6"/><path d="M681.8 655.7 L678.1 656.4" stroke="rgb(224,0,0)" stroke-width="6"/><path d="M678.1 656.4 L674.4 657.2" stroke="rgb(224,0,0)" stroke-width="6"/><path d="M674.4 657.2 L670.8 658" stroke="rgb(224,0,0)" stroke-width="6"/><path d="M670.8 658 L667.2 658.8" stroke="rgb(224,0,0)" stroke-width="6"/><path d="M667.2 658.8 L663.6 659.7" stroke="rgb(224,0,0)" stroke-width="6"/><path d="M663.6 659.7 L660.1 660.6" stroke="rgb(224,0,0)" stroke-width="6.1"/><path d="M660.1 660.6 L656.5 661.5" stroke="rgb(225,0,0)" stroke-width="6.1"/><path d="M656.5 661.5 L653 662.5" stroke="rgb(225,0,0)" stroke-width="6.1"/><path d="M653 662.5 L649.6 663.5" stroke="rgb(225,0,0)" stroke-width="6.1"/><path d="M649.6 663.5 L646.1 664.6" stroke="rgb(225,0,0)" stroke-width="6.1"/><path d="M646.1 664.6 L642.7 665.7" stroke="rgb(225,0,0)" stroke-width="6.1"/><path d="M642.7 665.7 L639.4 666.8" stroke="rgb(225,0,0)" stroke-width="6.1"/><path d="M639.4 666.8 L636 668" stroke="rgb(225,0,0)" stroke-width="6.1"/><path d="M636 668 L632.7 669.2" stroke="rgb(226,0,0)" stroke-width="6.2"/><path d="M632.7 669.2 L629.5 670.5" stroke="rgb(226,0,0)" stroke-width="6.2"/><path d="M629.5 670.5 L626.3 671.8" stroke="rgb(226,0,0)" stroke-width="6.2"/><path d="M626.3 671.8 L623.1 673.1" stroke="rgb(226,0,0)" stroke-width="6.2"/><path d="M623.1 673.1 L620 674.5" stroke="rgb(226,0,0)" stroke-width="6.2"/><path d="M620 674.5 L616.9 675.9" stroke="rgb(226,0,0)" stroke-width="6.2"/><path d="M616.9 675.9 L613.8 677.3" stroke="rgb(227,0,0)" stroke-width="6.3"/><path d="M613.8 677.3 L610.9 678.8" stroke="rgb(227,0,0)" stroke-width="6.3"/><path d="M610.9 678.8 L607.9 680.3" stroke="rgb(227,0,0)" stroke-width="6.3"/><path d="M607.9 680.3 L605.1 681.9" stroke="rgb(227,0,0)" stroke-width="6.3"/><path d="M605.1 681.9 L602.2 683.4" stroke="rgb(227,0,0)" stroke-width="6.3"/><path d="M602.2 683.4 L599.5 685" stroke="rgb(228,0,0)" stroke-width="6.4"/><path d="M599.5 685 L596.8 686.7" stroke="rgb(228,0,0)" stroke-width="6.4"/><path d="M596.8 686.7 L594.1 688.4" stroke="rgb(228,0,0)" stroke-width="6.4"/><path d="M594.1 688.4 L591.5 690.1" stroke="rgb(228,0,0)" stroke-width="6.4"/><path d="M591.5 690.1 L589 691.8" stroke="rgb(229,0,0)" stroke-width="6.5"/><path d="M589 691.8 L586.6 693.6" stroke="rgb(229,0,0)" stroke-width="6.5"/><path d="M586.6 693.6 L584.2 695.4" stroke="rgb(229,0,0)" stroke-width="6.5"/><path d="M584.2 695.4 L581.9 697.2" stroke="rgb(229,0,0)" stroke-width="6.5"/><path d="M581.9 697.2 L579.7 699.1" stroke="rgb(229,0,0)" stroke-width="6.5"/><path d="M579.7 699.1 L577.5 701" stroke="rgb(230,0,0)" stroke-width="6.6"/><path d="M577.5 701 L575.4 702.9" stroke="rgb(230,0,0)" stroke-width="6.6"/><path d="M575.4 702.9 L573.4 704.9" stroke="rgb(230,0,0)" stroke-width="6.6"/><path d="M573.4 704.9 L571.5 706.8" stroke="rgb(230,0,0)" stroke-width="6.6"/><path d="M571.5 706.8 L569.7 708.9" stroke="rgb(231,0,0)" stroke-width="6.7"/><path d="M569.7 708.9 L567.9 710.9" stroke="rgb(231,0,0)" stroke-width="6.7"/><path d="M567.9 710.9 L566.3 712.9" stroke="rgb(231,0,0)" stroke-width="6.7"/><path d="M566.3 712.9 L564.7 715" stroke="rgb(231,0,0)" stroke-width="6.8"/><path d="M564.7 715 L563.2 717.1" stroke="rgb(232,0,0)" stroke-width="6.8"/><path d="M563.2 717.1 L561.9 719.2" stroke="rgb(232,0,0)" stroke-width="6.8"/><path d="M561.9 719.2 L560.6 721.4" stroke="rgb(232,0,0)" stroke-width="6.8"/><path d="M560.6 721.4 L559.4 723.5" stroke="rgb(233,0,0)" stroke-width="6.9"/><path d="M559.4 723.5 L558.3 725.7" stroke="rgb(233,0,0)" stroke-width="6.9"/><path d="M558.3 725.7 L557.3 727.9" stroke="rgb(233,0,0)" stroke-width="6.9"/><path d="M557.3 727.9 L556.4 730.1" stroke="rgb(233,0,0)" stroke-width="6.9"/><path d="M892.6 704.7 L891.4 702.6" stroke="rgb(233,0,0)" stroke-width="6.9"/><path d="M891.4 702.6 L890 700.6" stroke="rgb(233,0,0)" stroke-width="6.9"/><path d="M890 700.6 L888.6 698.6" stroke="rgb(233,0,0)" stroke-width="6.9"/><path d="M888.6 698.6 L887.1 696.7" stroke="rgb(232,0,0)" stroke-width="6.8"/><path d="M887.1 696.7 L885.5 694.8" stroke="rgb(232,0,0)" stroke-width="6.8"/><path d="M885.5 694.8 L883.8 692.9" stroke="rgb(232,0,0)" stroke-width="6.8"/><path d="M883.8 692.9 L882 691" stroke="rgb(232,0,0)" stroke-width="6.8"/><path d="M882 691 L880.1 689.2" stroke="rgb(231,0,0)" stroke-width="6.7"/><path d="M880.1 689.2 L878.1 687.4" stroke="rgb(231,0,0)" stroke-width="6.7"/><path d="M878.1 687.4 L876.1 685.7" stroke="rgb(231,0,0)" stroke-width="6.7"/><path d="M876.1 685.7 L873.9 684" stroke="rgb(231,0,0)" stroke-width="6.7"/><path d="M873.9 684 L871.7 682.3" stroke="rgb(230,0,0)" stroke-width="6.6"/><path d="M871.7 682.3 L869.4 680.7" stroke="rgb(230,0,0)" stroke-width="6.6"/><path d="M869.4 680.7 L867.1 679.1" stroke="rgb(230,0,0)" stroke-width="6.6"/><path d="M867.1 679.1 L864.6 677.6" stroke="rgb(230,0,0)" stroke-width="6.6"/><path d="M864.6 677.6 L862.1 676.1" stroke="rgb(229,0,0)" stroke-width="6.5"/><path d="M862.1 676.1 L859.6 674.6" stroke="rgb(229,0,0)" stroke-width="6.5"/><path d="M859.6 674.6 L856.9 673.2" stroke="rgb(229,0,0)" stroke-width="6.5"/><path d="M856.9 673.2 L854.2 671.8" stroke="rgb(229,0,0)" stroke-width="6.5"/><path d="M854.2 671.8 L851.5 670.5" stroke="rgb(228,0,0)" stroke-width="6.4"/><path d="M851.5 670.5 L848.6 669.1" stroke="rgb(228,0,0)" stroke-width="6.4"/><path d="M848.6 669.1 L845.8 667.9" stroke="rgb(228,0,0)" stroke-width="6.4"/><path d="M845.8 667.9 L842.8 666.7" stroke="rgb(228,0,0)" stroke-width="6.4"/><path d="M842.8 666.7 L839.8 665.5" stroke="rgb(228,0,0)" stroke-width="6.4"/><path d="M839.8 665.5 L836.8 664.4" stroke="rgb(227,0,0)" stroke-width="6.3"/><path d="M836.8 664.4 L833.7 663.3" stroke="rgb(227,0,0)" stroke-width="6.3"/></g>
<path d="M899.5 738.7 L899.7 736.7 L899.7 734.6 L899.5 732.6 L899.3 730.6 L898.9 728.7 L898.4 726.7 L897.8 724.8 L897.1 722.8 L896.3 720.9 L895.3 719 L894.3 717.1 L893.2 715.3 L891.9 713.5 L890.6 711.6 L889.1 709.9 L887.6 708.1 L886 706.4 L884.2 704.6 L882.4 703 L880.5 701.3 L878.5 699.7 L876.5 698.1 L874.3 696.5 L872.1 695 L869.8 693.4 L867.5 692 L865 690.5 L862.5 689.1 L859.9 687.7 L857.3 686.3 L854.6 685 L851.8 683.7 L849 682.5 L846.1 681.2 L843.2 680 L840.2 678.9 L837.2 677.7 L834.1 676.6 L831 675.6 L827.8 674.6 L824.6 673.6 L821.3 672.6 L818 671.7 L814.7 670.8 L811.3 670 L807.9 669.1 L804.4 668.4 L800.9 667.6 L797.4 666.9 L793.9 666.2 L790.3 665.6 L786.8 665 L783.1 664.4 L779.5 663.9 L775.9 663.4 L772.2 662.9 L768.5 662.5 L764.8 662.1 L761.1 661.7 L757.3 661.4 L753.6 661.1 L749.8 660.8 L746.1 660.6 L742.3 660.4 L738.5 660.3 L734.7 660.2 L730.9 660.1 L727.1 660.1 L723.3 660.1 L719.5 660.1 L715.8 660.2 L712 660.3 L708.2 660.4 L704.4 660.6 L700.6 660.8 L696.9 661.1 L693.1 661.3 L689.4 661.7 L685.7 662 L682 662.4 L678.3 662.8 L674.6 663.3 L670.9 663.8 L667.3 664.3 L663.7 664.9 L660.1 665.5 L656.5 666.1 L653 666.8 L649.5 667.5 L646 668.3 L642.6 669 L639.1 669.9 L635.8 670.7 L632.4 671.6 L629.1 672.5 L625.8 673.5 L622.6 674.4 L619.4 675.5 L616.3 676.5 L613.2 677.6 L610.2 678.7 L607.2 679.9 L604.2 681.1 L601.3 682.3 L598.5 683.6 L595.7 684.9 L593 686.2 L590.4 687.5 L587.8 688.9 L585.3 690.3 L582.8 691.8 L580.5 693.3 L578.2 694.8 L575.9 696.3 L573.8 697.9 L571.7 699.5 L569.7 701.1 L567.8 702.8 L566 704.4 L564.3 706.2 L562.6 707.9 L561.1 709.6 L559.6 711.4 L558.3 713.2 L557 715.1 L555.8 716.9 L554.8 718.8 L553.8 720.7 L553 722.6 L552.3 724.5 L551.7 726.5 L551.2 728.4 L550.8 730.4 L550.5 732.4 L550.4 734.4 L550.4 736.4 L550.5 738.4 L550.7 740.5 M686.4 550.7 L683.5 551.4 L680.7 552.3 L677.9 553.2 L675.1 554.3 L672.4 555.4 L669.8 556.7 L667.2 558.1 L664.7 559.6 L662.2 561.1 L659.8 562.8 L657.5 564.6 L655.3 566.5 L653.1 568.4 L650.9 570.5 L648.9 572.6 L646.9 574.8 L645 577.1 L643.1 579.5 L641.3 581.9 L639.6 584.4 L637.9 587 L636.4 589.7 L634.9 592.4 L633.4 595.2 L632 598 L630.7 600.9 L629.5 603.9 L628.3 606.9 L627.3 610 L626.2 613.1 L625.3 616.2 L624.4 619.5 L623.6 622.7 L622.8 626 L622.2 629.4 L621.6 632.7 L621 636.1 L620.5 639.6 L620.1 643.1 L619.8 646.6 L619.5 650.1 L619.3 653.7 L619.2 657.3 L619.1 660.9 L619.1 664.5 L619.1 668.1 L619.3 671.8 L619.4 675.5 L619.7 679.2 L620 682.9 L620.4 686.6 L620.8 690.3 L621.3 694 L621.8 697.7 L622.4 701.5 L623.1 705.2 L623.8 708.9 L624.6 712.7 L625.5 716.4 L626.4 720.1 L627.3 723.9 L628.4 727.6 L629.4 731.3 L630.6 735 L631.7 738.6 L633 742.3 L634.3 746 L635.6 749.6 L637 753.2 L638.5 756.8 L639.9 760.4 L641.5 763.9 L643.1 767.5 L644.7 771 L646.4 774.5 L648.2 777.9 L650 781.3 L651.8 784.7 L653.7 788.1 L655.6 791.4 L657.6 794.7 L659.6 797.9 L661.7 801.2 L663.8 804.3 L665.9 807.5 L668.1 810.6 L670.4 813.6 L672.6 816.6 L674.9 819.6 L677.3 822.5 L679.7 825.3 L682.1 828.1 L684.6 830.9 L687 833.6 L689.6 836.2 L692.1 838.8 L694.7 841.3 L697.3 843.8 L700 846.2 L702.7 848.5 L705.4 850.8 L708.1 853 L710.9 855.1 L713.7 857.1 L716.5 859.1 L719.3 861 L722.1 862.9 L725 864.6 L727.9 866.3 L730.8 867.9 L733.7 869.4 L736.7 870.9 L739.6 872.2 L742.6 873.5 L745.5 874.6 L748.5 875.7 L751.5 876.7 L754.5 877.6 L757.5 878.4 L760.5 879.1 L763.5 879.7 L766.5 880.2 L769.5 880.6 L772.4 880.9 L775.4 881.1 L778.4 881.2 L781.3 881.2 L784.3 881 L787.2 880.8 L790.1 880.4 L793 880 L795.8 879.4 L798.7 878.7 L801.5 877.9 L804.3 877 L807 876 L809.7 874.8 L812.4 873.5 L815 872.2 L817.6 870.6 L820.2 869 M647.3 876.8 L649.1 878 L651 879.2 L653 880.3 L655 881.4 L657.1 882.5 L659.2 883.6 L661.5 884.6 L663.7 885.6 L666 886.5 L668.4 887.4 L670.8 888.3 L673.3 889.1 L675.8 889.9 L678.3 890.7 L680.9 891.4 L683.6 892.1 L686.3 892.8 L689 893.4 L691.7 893.9 M760.7 893.4 L763.4 892.8 L766.1 892.2 L768.8 891.5 L771.4 890.8 L773.9 890 L776.4 889.2 L778.9 888.4 L781.3 887.5 L783.7 886.6 L786 885.7 L788.3 884.7 L790.5 883.7 L792.7 882.6 L794.8 881.6 L796.8 880.5 L798.8 879.3 L800.7 878.2 L802.5 877 L804.3 875.8 L806 874.5 L807.7 873.3 L809.2 872 L810.8 870.7 L812.2 869.3 L813.6 868 L814.9 866.6 L816.1 865.3 L817.2 863.9 L818.3 862.5 L819.3 861 L820.3 859.6 L821.1 858.2 L821.9 856.7 L822.6 855.3 L823.3 853.8 L823.8 852.4 L824.3 850.9 L824.8 849.4 L825.1 848 L825.4 846.5 L825.6 845 L825.7 843.5 L825.8 842.1 L825.8 840.6 L825.7 839.2 L825.6 837.7 L825.4 836.3 L825.1 834.8 L824.7 833.4 L824.3 832 L823.8 830.6 L823.3 829.2 L822.7 827.8 L822 826.4 L821.3 825 L820.5 823.7 L819.7 822.4 L818.8 821 L817.8 819.7 L816.8 818.5 L815.7 817.2 L814.6 815.9 L813.4 814.7 L812.1 813.5 L810.9 812.3 L809.5 811.2 L808.1 810 L806.7 808.9 L805.2 807.8 L803.7 806.7 L802.1 805.7 L800.5 804.6 L798.9 803.6 L797.2 802.6 L795.4 801.7 L793.7 800.8 L791.9 799.9 L790 799 L788.1 798.1 L786.2 797.3 L784.3 796.5 L782.3 795.7 L780.3 795 L778.3 794.3 L776.2 793.6 L774.1 792.9 L772 792.3 L769.9 791.7 L767.7 791.1 L765.5 790.6 L763.3 790 L761.1 789.6 L758.9 789.1 L756.6 788.7 L754.4 788.3 L752.1 787.9 L749.8 787.6 L747.5 787.3 L745.2 787 L742.8 786.7 L740.5 786.5 L738.1 786.3 L735.8 786.2 L733.4 786.1 L731.1 786 L728.7 785.9 L726.3 785.9 L724 785.9 L721.6 785.9 L719.2 786 L716.9 786 L714.5 786.2 L712.2 786.3 L709.8 786.5 L707.5 786.7 L705.1 787 L702.8 787.2 L700.5 787.5 L698.2 787.9 L695.9 788.2 L693.7 788.6 L691.4 789 L689.2 789.5 L686.9 790 L684.7 790.5 L682.6 791 L680.4 791.6 L678.3 792.2 L676.1 792.8 L674 793.5 L672 794.2 L669.9 794.9 L667.9 795.6 L666 796.4 L664 797.2 L662.1 798 L660.2 798.9 L658.4 799.7 L656.6 800.6 L654.8 801.6 L653 802.5 L651.3 803.5 L649.7 804.5 L648.1 805.5 L646.5 806.6 L645 807.7 L643.5 808.8 L642 809.9 L640.7 811 L639.3 812.2 L638 813.4 L636.8 814.6 L635.6 815.8 L634.5 817 L633.4 818.3 L632.3 819.6 L631.4 820.9 L630.5 822.2 L629.6 823.5 L628.8 824.9 L628.1 826.2 L627.4 827.6 L626.8 829 L626.2 830.4 L625.7 831.8 L625.3 833.2 L625 834.6 L624.7 836.1 L624.5 837.5 L624.3 839 L624.2 840.4 L624.2 841.9 L624.3 843.4 L624.4 844.8 L624.6 846.3 L624.9 847.8 L625.2 849.2 L625.6 850.7 L626.1 852.2 L626.7 853.7 L627.3 855.1 L628 856.6 L628.8 858 L629.7 859.4 L630.6 860.9 L631.6 862.3 L632.6 863.7 L633.8 865.1 L635 866.5 L636.3 867.8 L637.7 869.2 L639.1 870.5 L640.6 871.8 L642.2 873.1 L643.8 874.4 L645.5 875.6 L647.3 876.8 M730.8 546.6 L731.4 546.8 L731.9 547.1 L732.4 547.5 L732.9 548.1 L733.4 548.8 L733.9 549.5 L734.4 550.4 L734.8 551.4 L735.3 552.5 L735.7 553.7 L736.1 555.1 L736.5 556.5 L736.9 558 L737.3 559.6 L737.7 561.2 L738.1 563 L738.4 564.9 L738.7 566.8 L739.1 568.8 L739.4 571 L739.7 573.1 L740 575.4 L740.3 577.7 L740.5 580.1 L740.8 582.6 L741 585.1 L741.2 587.7 L741.5 590.4 L741.7 593.1 L741.9 595.8 L742.1 598.7 L742.2 601.5 L742.4 604.5 L742.5 607.5 L742.7 610.5 L742.8 613.6 L742.9 616.7 L743 619.9 L743.1 623.1 L743.2 626.3 L743.2 629.6 L743.3 632.9 L743.3 636.2 L743.4 639.6 L743.4 643 L743.4 646.5 L743.4 649.9 L743.4 653.4 L743.4 657 L743.4 660.5 L743.3 664.1 L743.3 667.6 L743.2 671.3 L743.1 674.9 L743.1 678.5 L743 682.2 L742.9 685.8 L742.7 689.5 L742.6 693.2 L742.5 696.9 L742.4 700.6 L742.2 704.3 L742 708 L741.9 711.8 L741.7 715.5 L741.5 719.2 L741.3 722.9 L741.1 726.7 L740.9 730.4 L740.6 734.1 L740.4 737.8 L740.2 741.6 L739.9 745.3 L739.7 749 L739.4 752.7 L739.1 756.3 L738.8 760 L738.5 763.7 L738.2 767.3 L737.9 770.9 L737.6 774.5 L737.2 778.1 L736.9 781.7 L736.6 785.2 L736.2 788.7 L735.8 792.2 L735.5 795.7 L735.1 799.1 L734.7 802.6 L734.3 805.9 L733.9 809.3 L733.5 812.6 L733.1 815.9 L732.7 819.1 L732.2 822.4 L731.8 825.5 L731.3 828.6 L730.9 831.7 L730.4 834.8 L730 837.8 L729.5 840.7 L729 843.6 L728.5 846.4 L728.1 849.2 L727.6 851.9 L727.1 854.6 L726.6 857.2 L726 859.7 L725.5 862.2 L725 864.6 L724.5 867 L724 869.2 L723.4 871.4 L722.9 873.6 L722.3 875.6 L721.8 877.6 L721.2 879.5 L720.7 881.3 L720.1 883 L719.6 884.6 L719 886.1 L718.5 887.5 L717.9 888.9 L717.3 890.1 L716.8 891.3 L716.2 892.3 L715.7 893.2 L715.1 894 L714.5 894.7 L714 895.3 L713.4 895.8 L712.9 896.2 L712.3 896.4 L711.8 896.6 L711.2 896.5 M699.1 875.8 L699.7 876.2 L700.4 876.6 L701.1 877 L701.8 877.4 L702.5 877.7 L703.2 878.1 L704 878.4 L704.8 878.7 L705.6 879 L706.4 879.3 L707.2 879.6 L708 879.9 L708.8 880.1 L709.7 880.4 L710.6 880.6 L711.4 880.8 L712.3 881.1 L713.2 881.2 L714.1 881.4 L715 881.6 L716 881.7 L716.9 881.9 L717.8 882 L718.8 882.1 L719.7 882.2 L720.7 882.3 L721.6 882.3 L722.6 882.4 L723.5 882.4 L724.5 882.4 L725.4 882.4 L726.4 882.4 L727.3 882.4 L728.3 882.3 L729.3 882.3 L730.2 882.2 L731.1 882.1 L732.1 882 L733 881.9 L734 881.7 L734.9 881.6 L735.8 881.4 L736.7 881.3 L737.6 881.1 L738.5 880.9 L739.4 880.7 L740.2 880.4 L741.1 880.2 L741.9 879.9 L742.8 879.7 L743.6 879.4 L744.4 879.1 L745.2 878.8 L745.9 878.4 L746.7 878.1 L747.4 877.8 L748.2 877.4 L748.9 877.1 L749.6 876.7 L750.2 876.3 L750.9 875.9 L751.5 875.5 L752.1 875.1 L752.7 874.6 L753.3 874.2 L753.8 873.8 L754.4 873.3 L754.9 872.9 L755.4 872.4 L755.8 871.9 L756.3 871.5 L756.7 871 L757.1 870.5 L757.5 870 L757.8 869.5 L758.2 869 L758.5 868.5 L758.7 868 L759 867.4 L759.2 866.9 L759.4 866.4 L759.6 865.9 L759.8 865.3 L759.9 864.8 L760 864.3 L760.1 863.8 L760.2 863.2 L760.2 862.7 L760.2 862.2 L760.2 861.6 L760.2 861.1 L760.1 860.6 L760.1 860 L760 859.5 L759.8 859 L759.7 858.5 L759.5 857.9 L759.3 857.4 L759.1 856.9 L758.8 856.4 L758.6 855.9 L758.3 855.4 L758 854.9 L757.6 854.4 L757.3 853.9 L756.9 853.5 L756.5 853 L756.1 852.5 L755.7 852.1 L755.2 851.6 L754.7 851.2 L754.2 850.7 L753.7 850.3 L753.2 849.9 L752.6 849.5 L752.1 849.1 L751.5 848.7 L750.9 848.3 L750.3 847.9 L749.6 847.6 L749 847.2 L748.3 846.9 L747.6 846.5 L746.9 846.2 L746.2 845.9 L745.5 845.6 L744.8 845.3 L744 845 L743.3 844.7 L742.5 844.5 L741.7 844.2 L740.9 844 L740.1 843.8 L739.3 843.5 L738.5 843.3 L737.7 843.1 L736.8 843 L736 842.8 L735.1 842.6 L734.3 842.5 L733.4 842.4 L732.6 842.3 L731.7 842.2 L730.8 842.1 L729.9 842 L729.1 841.9 L728.2 841.9 L727.3 841.8 L726.4 841.8 L725.5 841.8 L724.6 841.8 L723.7 841.8 L722.8 841.8 L722 841.9 L721.1 841.9 L720.2 842 L719.3 842.1 L718.4 842.1 L717.6 842.2 L716.7 842.4 L715.8 842.5 L715 842.6 L714.1 842.8 L713.3 842.9 L712.5 843.1 L711.6 843.3 L710.8 843.5 L710 843.7 L709.2 844 L708.4 844.2 L707.6 844.4 L706.9 844.7 L706.1 845 L705.3 845.2 L704.6 845.5 L703.9 845.8 L703.2 846.2 L702.5 846.5 L701.8 846.8 L701.1 847.2 L700.5 847.5 L699.8 847.9 L699.2 848.3 L698.6 848.6 L698 849 L697.5 849.4 L696.9 849.9 L696.4 850.3 L695.9 850.7 L695.4 851.1 L694.9 851.6 L694.4 852 L694 852.5 L693.6 852.9 L693.2 853.4 L692.8 853.9 L692.4 854.4 L692.1 854.9 L691.8 855.4 L691.5 855.9 L691.2 856.4 L691 856.9 L690.7 857.4 L690.5 857.9 L690.4 858.4 L690.2 858.9 L690.1 859.5 L690 860 L689.9 860.5 L689.8 861 L689.8 861.6 L689.8 862.1 L689.8 862.6 L689.8 863.2 L689.9 863.7 L690 864.2 L690.1 864.8 L690.2 865.3 L690.4 865.8 L690.6 866.3 L690.8 866.9 L691 867.4 L691.2 867.9 L691.5 868.4 L691.8 868.9 L692.1 869.4 L692.5 869.9 L692.9 870.4 L693.3 870.9 L693.7 871.4 L694.1 871.9 L694.6 872.4 L695.1 872.8 L695.6 873.3 L696.1 873.7 L696.7 874.2 L697.2 874.6 L697.8 875 L698.4 875.4 L699.1 875.8 M787.2 557.8 L790.6 559.2 L793.9 560.7 L797.2 562.3 L800.4 563.9 L803.5 565.7 L806.6 567.6 L809.5 569.6 L812.4 571.7 L815.2 573.9 L818 576.1 L820.6 578.4 L823.2 580.9 L825.7 583.4 L828.1 585.9 L830.4 588.6 L832.6 591.3 L834.7 594.1 L836.8 597 L838.7 599.9 L840.6 602.9 L842.4 605.9 L844.1 609.1 L845.7 612.2 L847.2 615.4 L848.6 618.7 L849.9 622 L851.2 625.4 L852.3 628.8 L853.4 632.2 L854.4 635.7 L855.2 639.2 L856 642.7 L856.7 646.3 L857.4 649.9 L857.9 653.6 L858.3 657.2 L858.7 660.9 L859 664.6 L859.2 668.3 L859.3 672.1 L859.3 675.8 L859.2 679.6 L859.1 683.3 L858.8 687.1 L858.5 690.9 L858.1 694.7 L857.6 698.5 L857 702.3 L856.4 706.1 L855.7 709.8 L854.9 713.6 L854 717.4 L853.1 721.2 L852 724.9 L850.9 728.7 L849.7 732.4 L848.5 736.1 L847.2 739.8 L845.8 743.5 L844.3 747.1 L842.8 750.7 L841.2 754.4 L839.5 757.9 L837.7 761.5 L835.9 765 L834.1 768.5 L832.1 772 L830.1 775.4 L828.1 778.8 L825.9 782.2 L823.7 785.5 L821.5 788.8 L819.2 792 L816.8 795.2 L814.4 798.4 L811.9 801.5 L809.4 804.5 L806.8 807.6 L804.2 810.5 L801.5 813.5 L798.8 816.3 L796 819.1 L793.2 821.9 L790.3 824.6 L787.4 827.2 L784.4 829.8 L781.4 832.3 L778.3 834.8 L775.2 837.2 L772.1 839.5 L769 841.8 L765.7 844 L762.5 846.1 L759.2 848.2 L755.9 850.2 L752.6 852.1 L749.2 853.9 L745.8 855.7 L742.4 857.4 L739 859 L735.5 860.5 L732 862 L728.5 863.3 L725 864.6 L721.5 865.8 L717.9 867 L714.3 868 L710.8 868.9 L707.2 869.8 L703.6 870.5 L700 871.2 L696.4 871.8 L692.8 872.3 L689.2 872.7 L685.6 873 L682 873.2 L678.4 873.3 L674.8 873.3 L671.2 873.2 L667.7 873 L664.1 872.7 L660.6 872.3 L657.1 871.8 L653.6 871.2 L650.2 870.4 L646.7 869.6 L643.4 868.7 L640 867.7 L636.7 866.6 L633.4 865.3 L630.1 864 L626.9 862.5 L623.8 861 L620.6 859.3 L617.6 857.5 L614.6 855.7 L611.6 853.7 L608.7 851.6 L605.9 849.4 L603.1 847.1 L600.4 844.7 L597.8 842.2 L595.2 839.6 L592.7 836.9 L590.3 834 M867.5 824 L868.8 822 L870 820 L871.1 817.9 L872.1 815.9 L873 813.9 L873.8 811.8 L874.4 809.8 L874.9 807.8 L875.4 805.7 L875.7 803.7 L875.9 801.7 L876 799.7 L876 797.7 L875.9 795.7 L875.6 793.7 L875.3 791.7 L874.9 789.7 L874.4 787.8 L873.7 785.8 L873 783.9 L872.2 782 L871.3 780.1 L870.3 778.3 L869.2 776.4 L868.1 774.6 L866.8 772.8 L865.5 771 L864 769.3 L862.5 767.6 L861 765.9 L859.3 764.2 L857.6 762.6 L855.8 760.9 L853.9 759.4 L851.9 757.8 L849.9 756.3 L847.8 754.8 L845.7 753.3 L843.5 751.9 L841.2 750.5 L838.9 749.1 L836.5 747.7 L834.1 746.4 L831.6 745.2 L829.1 743.9 L826.5 742.7 L823.8 741.5 L821.2 740.4 L818.4 739.3 L815.7 738.2 L812.9 737.2 L810 736.2 L807.1 735.2 L804.2 734.3 L801.2 733.4 L798.2 732.6 L795.2 731.7 L792.1 730.9 L789.1 730.2 L786 729.5 L782.8 728.8 L779.6 728.2 L776.5 727.6 L773.3 727 L770 726.5 L766.8 726 L763.5 725.5 L760.2 725.1 L756.9 724.8 L753.6 724.4 L750.3 724.1 L747 723.8 L743.7 723.6 L740.3 723.4 L737 723.3 L733.6 723.2 L730.3 723.1 L726.9 723 L723.5 723 L720.2 723.1 L716.8 723.1 L713.5 723.3 L710.1 723.4 L706.8 723.6 L703.4 723.8 L700.1 724.1 L696.8 724.4 L693.5 724.7 L690.2 725.1 L686.9 725.5 L683.6 725.9 L680.4 726.4 L677.1 726.9 L673.9 727.5 L670.7 728.1 L667.6 728.7 L664.4 729.4 L661.3 730.1 L658.2 730.9 L655.2 731.6 L652.1 732.5 L649.1 733.3 L646.2 734.2 L643.3 735.1 L640.4 736.1 L637.5 737.1 L634.7 738.1 L631.9 739.2 L629.2 740.3 L626.5 741.4 L623.8 742.6 L621.3 743.8 L618.7 745 L616.2 746.3 L613.8 747.6 L611.4 748.9 L609.1 750.3 L606.8 751.7 L604.6 753.1 L602.4 754.6 L600.3 756.1 L598.3 757.6 L596.4 759.2 L594.5 760.8 L592.7 762.4 L590.9 764 L589.3 765.7 L587.7 767.4 L586.1 769.1 L584.7 770.8 L583.4 772.6 L582.1 774.4 L580.9 776.2 L579.8 778.1 L578.8 779.9 L577.9 781.8 L577.1 783.7 L576.4 785.6 L575.7 787.5 L575.2 789.5 L574.8 791.5 L574.4 793.4 L574.2 795.4 L574.1 797.4 L574 799.4 L574.1 801.4 L574.3 803.5 L574.6 805.5 L575 807.5 L575.5 809.6 L576.2 811.6 L576.9 813.6 L577.8 815.7 L578.8 817.7 L579.9 819.7 L581.1 821.7 L582.4 823.7 L583.8 825.7 M888.5 785.1 L887 788.8 L885.4 792.5 L883.6 796.2 L881.8 799.7 L879.8 803.2 L877.8 806.6 L875.7 809.9 L873.4 813.1 L871.1 816.3 L868.7 819.4 L866.2 822.3 L863.6 825.2 L861 828.1 L858.3 830.8 L855.4 833.4 L852.6 836 L849.6 838.4 L846.6 840.8 L843.5 843 L840.3 845.2 L837.1 847.3 L833.8 849.3 L830.5 851.1 L827.1 852.9 L823.7 854.6 L820.2 856.2 L816.7 857.7 L813.2 859.1 L809.5 860.4 L805.9 861.6 L802.2 862.7 L798.5 863.7 L794.8 864.6 L791 865.4 L787.2 866.1 L783.4 866.7 L779.6 867.3 L775.7 867.7 L771.9 868 L768 868.2 L764.1 868.4 L760.2 868.4 L756.3 868.4 L752.4 868.2 L748.4 868 L744.5 867.6 L740.6 867.2 L736.7 866.7 L732.8 866.1 L728.9 865.4 L725 864.6 L721.1 863.8 L717.3 862.8 L713.4 861.8 L709.6 860.6 L705.8 859.4 L702 858.1 L698.2 856.8 L694.5 855.3 L690.8 853.8 L687.1 852.2 L683.5 850.5 L679.8 848.7 L676.2 846.8 L672.7 844.9 L669.2 842.9 L665.7 840.9 L662.3 838.7 L658.9 836.5 L655.5 834.2 L652.2 831.9 L649 829.5 L645.8 827 L642.6 824.4 L639.5 821.8 L636.4 819.2 L633.4 816.4 L630.5 813.6 L627.6 810.8 L624.8 807.9 L622 804.9 L619.3 801.9 L616.7 798.9 L614.1 795.7 L611.6 792.6 L609.1 789.4 L606.8 786.1 L604.4 782.8 L602.2 779.4 L600.1 776.1 L598 772.6 L595.9 769.1 L594 765.6 L592.1 762.1 L590.4 758.5 L588.7 754.9 L587 751.3 L585.5 747.6 L584 743.9 L582.7 740.2 L581.4 736.4 L580.2 732.7 L579.1 728.9 L578.1 725.1 L577.1 721.3 L576.3 717.4 L575.5 713.6 L574.9 709.7 L574.3 705.9 L573.9 702 L573.5 698.1 L573.2 694.2 L573 690.4 L572.9 686.5 L573 682.6 L573.1 678.8 L573.3 674.9 L573.6 671.1 L574 667.3 L574.5 663.5 L575.2 659.7 L575.9 655.9 L576.7 652.2 L577.6 648.5 L578.7 644.8 L579.8 641.1 L581 637.5 L582.4 633.9 L583.8 630.4 L585.4 626.9 L587 623.5 L588.8 620.1 L590.6 616.7 L592.6 613.4 L594.7 610.2 L596.8 607 L599.1 603.8 L601.5 600.8 L603.9 597.8 L606.5 594.9 L609.1 592 L611.9 589.2 L614.7 586.5 L617.7 583.9 L620.7 581.4 L623.8 578.9 L627 576.5 L630.3 574.2 L633.7 572.1 L637.2 570 L640.8 568 M886.1 652.5 L885.4 651.1 L884.6 649.6 L883.6 648.2 L882.6 646.7 L881.5 645.3 L880.3 643.9 L879 642.5 L877.6 641.2 L876.1 639.8 L874.5 638.5 L872.8 637.2 L871.1 635.9 L869.3 634.6 L867.4 633.4 L865.4 632.2 L863.4 631 L861.2 629.8 L859 628.7 L856.8 627.5 L854.4 626.4 L852 625.3 L849.6 624.3 L847.1 623.2 L844.5 622.2 L841.9 621.3 L839.2 620.3 L836.4 619.4 L833.6 618.5 L830.8 617.6 L827.9 616.7 L825 615.9 L822 615.1 L819 614.3 L815.9 613.6 L812.8 612.8 L809.6 612.1 L806.5 611.5 L803.3 610.8 L800 610.2 L796.7 609.6 L793.4 609.1 L790.1 608.5 L786.7 608 L783.4 607.6 L779.9 607.1 L776.5 606.7 L773.1 606.3 L769.6 605.9 L766.1 605.6 L762.6 605.3 L759.1 605 L755.6 604.8 L752 604.5 L748.5 604.3 L744.9 604.2 L741.3 604 L737.8 603.9 L734.2 603.8 L730.6 603.8 L727 603.7 L723.4 603.7 L719.8 603.8 L716.3 603.8 L712.7 603.9 L709.1 604 L705.5 604.1 L702 604.3 L698.4 604.5 L694.9 604.7 L691.3 605 L687.8 605.3 L684.3 605.6 L680.8 605.9 L677.4 606.3 L673.9 606.6 L670.5 607.1 L667.1 607.5 L663.7 608 L660.3 608.5 L657 609 L653.7 609.6 L650.4 610.2 L647.1 610.8 L643.9 611.4 L640.8 612.1 L637.6 612.8 L634.5 613.5 L631.4 614.2 L628.4 615 L625.4 615.8 L622.5 616.6 L619.6 617.5 L616.7 618.3 L613.9 619.3 L611.2 620.2 L608.5 621.1 L605.8 622.1 L603.3 623.1 L600.7 624.2 L598.3 625.2 L595.9 626.3 L593.5 627.4 L591.3 628.5 L589.1 629.7 L586.9 630.8 L584.9 632 L582.9 633.3 L581 634.5 L579.1 635.8 L577.4 637 L575.7 638.3 L574.1 639.7 L572.6 641 L571.2 642.4 L569.9 643.8 L568.7 645.1 L567.5 646.6 L566.5 648 L565.6 649.4 L564.7 650.9 L564 652.4 L563.4 653.9 M759.4 893.7 L758 893.8 L756.6 893.8 L755.3 893.6 L753.9 893.4 L752.5 893 L751.1 892.6 L749.7 892 L748.3 891.3 L746.9 890.5 L745.5 889.5 L744.1 888.5 L742.7 887.4 L741.3 886.2 L739.9 884.9 L738.5 883.5 L737.2 882 L735.8 880.4 L734.4 878.7 L733 876.9 L731.7 875.1 L730.3 873.1 L729 871.1 L727.6 869 L726.3 866.9 L725 864.6 L723.7 862.3 L722.4 859.9 L721.1 857.5 L719.9 855 L718.6 852.4 L717.4 849.8 L716.2 847.1 L714.9 844.4 L713.7 841.6 L712.6 838.7 L711.4 835.8 L710.2 832.8 L709.1 829.8 L708 826.8 L706.9 823.7 L705.8 820.5 L704.7 817.4 L703.7 814.1 L702.7 810.9 L701.7 807.6 L700.7 804.3 L699.7 800.9 L698.7 797.5 L697.8 794.1 L696.9 790.7 L696 787.2 L695.1 783.7 L694.3 780.2 L693.4 776.6 L692.6 773 L691.8 769.5 L691.1 765.8 L690.3 762.2 L689.6 758.6 L688.9 754.9 L688.2 751.3 L687.5 747.6 L686.9 743.9 L686.3 740.2 L685.7 736.5 L685.1 732.8 L684.5 729.1 L684 725.3 L683.5 721.6 L683 717.9 L682.6 714.2 L682.1 710.4 L681.7 706.7 L681.4 703 L681 699.3 L680.7 695.6 L680.4 691.9 L680.1 688.2 L679.8 684.5 L679.6 680.9 L679.4 677.2 L679.2 673.6 L679 670 L678.9 666.4 L678.8 662.8 L678.7 659.2 L678.7 655.7 L678.7 652.2 L678.7 648.7 L678.7 645.2 L678.7 641.8 L678.8 638.3 L679 635 L679.1 631.6 L679.3 628.3 L679.5 625 L679.7 621.8 L680 618.6 L680.2 615.5 L680.6 612.4 L680.9 609.3 L681.3 606.3 L681.7 603.3 L682.1 600.4 L682.6 597.5 L683.1 594.7 L683.6 592 L684.1 589.3 L684.7 586.6 L685.3 584.1 L686 581.6 L686.7 579.1 L687.4 576.8 L688.1 574.5 L688.9 572.3 L689.7 570.1 L690.5 568 L691.3 566.1 L692.2 564.2 L693.1 562.3 L694.1 560.6 L695.1 559 L696.1 557.4 L697.1 556 L698.2 554.6 L699.3 553.4 L700.4 552.3 L701.6 551.2 L702.7 550.3 L703.9 549.4 L705.2 548.7 L706.4 548.1 L707.7 547.6 L709 547.3 L710.4 547 L711.8 546.9 M659.9 884.6 L662.2 885.3 L664.4 886 L666.6 886.5 L668.9 886.9 L671.2 887.1 L673.5 887.3 L675.9 887.3 L678.2 887.3 L680.5 887.1 L682.9 886.8 L685.3 886.4 L687.6 885.9 L690 885.3 L692.4 884.5 L694.7 883.7 L697.1 882.8 L699.5 881.8 L701.8 880.7 L704.2 879.5 L706.6 878.1 L708.9 876.8 L711.2 875.3 L713.6 873.7 L715.9 872.1 L718.2 870.3 L720.5 868.5 L722.8 866.6 L725 864.6 L727.3 862.6 L729.5 860.5 L731.7 858.3 L733.9 856 L736 853.7 L738.2 851.3 L740.3 848.8 L742.4 846.3 L744.5 843.7 L746.5 841.1 L748.5 838.4 L750.5 835.6 L752.5 832.8 L754.5 830 L756.4 827.1 L758.3 824.1 L760.1 821.1 L762 818.1 L763.8 815 L765.5 811.8 L767.3 808.7 L769 805.4 L770.7 802.2 L772.3 798.9 L773.9 795.6 L775.5 792.2 L777 788.8 L778.5 785.4 L780 782 L781.4 778.5 L782.8 775 L784.2 771.5 L785.5 767.9 L786.8 764.4 L788 760.8 L789.3 757.2 L790.4 753.6 L791.6 749.9 L792.7 746.3 L793.7 742.6 L794.7 738.9 L795.7 735.2 L796.6 731.5 L797.5 727.8 L798.4 724.1 L799.2 720.4 L800 716.7 L800.7 713 L801.4 709.3 L802 705.5 L802.6 701.8 L803.1 698.1 L803.6 694.4 L804.1 690.7 L804.5 687 L804.9 683.3 L805.2 679.6 L805.5 676 L805.7 672.3 L805.9 668.7 L806 665.1 L806.1 661.5 L806.2 657.9 L806.2 654.3 L806.1 650.8 L806 647.3 L805.8 643.8 L805.6 640.4 L805.4 637 L805.1 633.6 L804.7 630.2 L804.3 626.9 L803.9 623.6 L803.3 620.4 L802.8 617.2 L802.2 614 L801.5 610.9 L800.8 607.9 L800 604.9 L799.2 601.9 L798.3 599 L797.4 596.1 L796.4 593.3 L795.4 590.6 L794.3 587.9 L793.1 585.3 L791.9 582.8 L790.7 580.3 L789.4 577.9 L788 575.6 L786.6 573.4 L785.2 571.2 L783.7 569.1 L782.1 567.1 L780.5 565.2 L778.8 563.4 L777.1 561.6 L775.3 560 L773.5 558.4 L771.6 557 L769.7 555.6 L767.7 554.3 L765.7 553.2 L763.6 552.2 L761.5 551.2 L759.4 550.4 L757.2 549.7 L754.9 549.1 L752.6 548.6 L750.3 548.2 M833.1 583.7 L832 582.9 L830.9 582.1 L829.7 581.4 L828.4 580.6 L827.1 579.9 L825.7 579.2 L824.2 578.5 L822.7 577.8 L821.2 577.1 L819.6 576.4 L817.9 575.7 L816.2 575.1 L814.5 574.5 L812.6 573.8 L810.8 573.2 L808.9 572.6 L806.9 572.1 L805 571.5 L802.9 571 L800.9 570.4 L798.7 569.9 L796.6 569.4 L794.4 568.9 L792.2 568.5 L789.9 568 L787.7 567.6 L785.3 567.2 L783 566.8 L780.6 566.4 L778.2 566 L775.8 565.7 L773.3 565.3 L770.9 565 L768.4 564.7 L765.9 564.4 L763.3 564.2 L760.8 563.9 L758.2 563.7 L755.6 563.5 L753 563.3 L750.4 563.1 L747.8 562.9 L745.1 562.8 L742.5 562.7 L739.8 562.6 L737.2 562.5 L734.5 562.4 L731.9 562.4 L729.2 562.3 L726.5 562.3 L723.8 562.3 L721.2 562.3 L718.5 562.3 L715.8 562.4 L713.1 562.5 L710.5 562.6 L707.8 562.7 L705.2 562.8 L702.6 562.9 L699.9 563.1 L697.3 563.3 L694.7 563.5 L692.1 563.7 L689.5 563.9 L687 564.1 L684.5 564.4 L681.9 564.7 L679.4 565 L677 565.3 L674.5 565.6 L672.1 566 L669.7 566.3 L667.3 566.7 L665 567.1 L662.6 567.5 L660.3 568 L658.1 568.4 L655.9 568.9 L653.7 569.4 L651.5 569.9 L649.4 570.4 L647.3 570.9 L645.3 571.4 L643.3 572 L641.4 572.6 L639.5 573.2 L637.6 573.8 L635.8 574.4 L634 575 L632.3 575.7 L630.6 576.3 L629 577 L627.5 577.7 L625.9 578.4 L624.5 579.1 L623.1 579.8 L621.8 580.5 L620.5 581.3 L619.3 582 L618.1 582.8 L617.1 583.6 L616 584.4 M553.1 687 L552.4 691.3 L551.7 695.5 L551.2 699.7 L550.8 703.9 L550.5 708.1 L550.4 712.3 L550.4 716.5 L550.5 720.7 L550.7 724.9 L551 729 L551.5 733.1 L552.1 737.2 L552.8 741.2 L553.6 745.3 L554.5 749.3 L555.6 753.2 L556.7 757.1 L558 761 L559.4 764.8 L560.8 768.6 L562.4 772.3 L564.1 776 L565.9 779.6 L567.8 783.2 L569.8 786.7 L571.8 790.1 L574 793.5 L576.3 796.8 L578.6 800.1 L581.1 803.3 L583.6 806.4 L586.2 809.5 L588.9 812.5 L591.7 815.4 L594.5 818.2 L597.4 821 L600.4 823.7 L603.5 826.3 L606.6 828.8 L609.8 831.3 L613.1 833.6 L616.4 835.9 L619.8 838.1 L623.2 840.3 L626.7 842.3 L630.3 844.3 L633.9 846.1 L637.5 847.9 L641.2 849.6 L644.9 851.2 L648.7 852.7 L652.5 854.2 L656.3 855.5 L660.2 856.8 L664.1 858 L668 859 L672 860 L676 860.9 L680 861.7 L684 862.4 L688.1 863.1 L692.2 863.6 L696.2 864.1 L700.3 864.4 L704.4 864.7 L708.5 864.8 L712.7 864.9 L716.8 864.9 L720.9 864.8 L725 864.6 L729.1 864.4 L733.2 864 L737.3 863.5 L741.4 863 L745.5 862.3 L749.6 861.6 L753.6 860.8 L757.6 859.9 L761.6 858.9 L765.6 857.9 L769.6 856.7 L773.5 855.5 L777.4 854.1 L781.3 852.7 L785.1 851.2 L788.9 849.6 L792.7 848 L796.4 846.2 L800.1 844.4 L803.8 842.5 L807.4 840.5 L810.9 838.5 L814.4 836.3 L817.9 834.1 L821.3 831.8 L824.7 829.5 L827.9 827 L831.2 824.5 L834.3 821.9 L837.5 819.3 L840.5 816.6 L843.5 813.8 L846.4 810.9 L849.2 808 L852 805 L854.7 802 L857.3 798.9 L859.9 795.7 L862.3 792.5 L864.7 789.3 L867 785.9 L869.2 782.5 L871.3 779.1 L873.4 775.6 L875.3 772.1 L877.2 768.5 L879 764.9 L880.6 761.2 L882.2 757.5 L883.7 753.8 L885.1 750 L886.3 746.2 L887.5 742.4 L888.6 738.5 L889.6 734.6 L890.4 730.7 L891.2 726.7 L891.8 722.7 L892.4 718.8 L892.8 714.8 L893.1 710.7 L893.3 706.7 L893.4 702.7 L893.4 698.6 L893.3 694.6 L893 690.6 L892.7 686.5 L892.2 682.5 L891.6 678.4 L890.9 674.4 L890 670.4 L889.1 666.4 L888 662.5 L886.8 658.5 L885.5 654.6 L884.1 650.7 L882.5 646.9 L880.9 643 L879.1 639.3 L877.2 635.5 L875.2 631.8 L873.1 628.2 L870.8 624.6 L868.5 621 L866 617.5 L863.4 614.1 L860.7 610.7" fill="none" stroke="#5a5a5a" stroke-opacity="0.4" stroke-width="1.2"/>
<path d="M583.7 780.2 L586.8 782 L590 783.7 L593.4 785.5 L596.9 787.1 L600.5 788.8 L604.2 790.4 L608.1 791.9 L612.1 793.5 L616.2 794.9 L620.4 796.3 L624.7 797.7 L629.2 799 L633.7 800.2 L638.4 801.4 L643.1 802.6 L647.9 803.6 L652.8 804.6 L657.8 805.6 L662.9 806.5 L668 807.3 L673.2 808 L678.5 808.7 L683.8 809.3 L689.1 809.8 L694.5 810.2 L700 810.6 L705.4 810.9 L710.9 811.2 L716.4 811.3 L721.9 811.4 L727.4 811.4 L733 811.3 L738.5 811.2 L743.9 811 L749.4 810.7 L754.8 810.3 L760.2 809.8 L765.6 809.3 L770.9 808.7 L776.2 808.1 L781.4 807.4 L786.5 806.6 L791.6 805.7 L796.6 804.8 L801.5 803.8 L806.4 802.7 L811.1 801.6 L815.7 800.4 L820.3 799.1 L824.8 797.8 L829.1 796.5 L833.3 795.1 L837.5 793.6 L841.5 792.1 L845.3 790.6 L849.1 789 L852.7 787.3 L856.3 785.7 L859.6 783.9 L862.9 782.2 L866 780.4 L869 778.6 L871.8 776.7 L874.5 774.9 L877.1 772.9 L879.5 771 L881.8 769.1 L883.9 767.1 L886 765.1 L887.8 763.1 L889.5 761.1 L891.1 759.1 L892.6 757.1 L893.9 755 L895.1 753 L896.1 750.9 L897 748.9 L897.8 746.8 L898.4 744.8 L898.9 742.8 L899.3 740.7 L899.5 738.7 M550.7 740.5 L551.1 742.5 L551.5 744.6 L552.2 746.6 L552.9 748.6 L553.8 750.7 L554.8 752.7 L556 754.8 L557.3 756.8 L558.7 758.9 L560.3 760.9 L562 762.9 L563.8 764.9 L565.8 766.9 L568 768.8 L570.2 770.8 L572.6 772.7 L575.2 774.6 L577.9 776.5 L580.7 778.4 L583.7 780.2 M725 551.6 L721.6 550.8 L718.2 550.2 L714.9 549.7 L711.5 549.3 L708.2 549 L705 548.9 L701.8 548.9 L698.6 549 L695.5 549.2 L692.4 549.6 L689.4 550.1 L686.4 550.7 M820.2 869 L822.7 867.3 L825.1 865.4 L827.5 863.4 L829.9 861.3 L832.1 859.1 L834.4 856.7 L836.5 854.3 L838.6 851.7 L840.7 849 L842.6 846.2 L844.5 843.2 L846.3 840.2 L848.1 837 L849.7 833.8 L851.3 830.4 L852.8 826.9 L854.2 823.3 L855.5 819.6 L856.7 815.8 L857.8 811.9 L858.8 807.9 L859.8 803.9 L860.6 799.7 L861.3 795.4 L861.9 791.1 L862.5 786.7 L862.9 782.2 L863.2 777.6 L863.4 773 L863.5 768.3 L863.5 763.5 L863.3 758.7 L863.1 753.9 L862.7 749 L862.3 744 L861.7 739 L861 734 L860.2 729 L859.3 723.9 L858.3 718.9 L857.1 713.8 L855.9 708.7 L854.5 703.6 L853.1 698.6 L851.5 693.5 L849.8 688.4 L848.1 683.4 L846.2 678.4 L844.2 673.5 L842.1 668.5 L840 663.7 L837.7 658.8 L835.4 654.1 L832.9 649.3 L830.4 644.7 L827.8 640.1 L825.1 635.6 L822.4 631.2 L819.5 626.8 L816.6 622.6 L813.7 618.4 L810.6 614.4 L807.5 610.4 L804.4 606.5 L801.2 602.8 L798 599.1 L794.7 595.6 L791.3 592.2 L788 588.9 L784.6 585.7 L781.1 582.6 L777.7 579.7 L774.2 576.9 L770.7 574.2 L767.2 571.7 L763.7 569.3 L760.1 567 L756.6 564.8 L753 562.8 L749.5 560.9 L746 559.2 L742.4 557.6 L738.9 556.1 L735.4 554.8 L731.9 553.6 L728.5 552.6 L725 551.6 M691.7 893.9 L694.5 894.4 L697.3 894.9 L700.1 895.3 L703 895.7 L705.8 896 L708.7 896.3 L711.6 896.5 L714.6 896.7 L717.5 896.9 L720.4 897 L723.4 897 L726.3 897 L729.2 897 L732.2 896.9 L735.1 896.7 L738 896.6 L740.9 896.3 L743.8 896 L746.7 895.7 L749.6 895.4 L752.4 894.9 L755.2 894.5 L758 894 L760.7 893.4 M725 551.6 L725.6 550.5 L726.2 549.5 L726.8 548.7 L727.4 548 L728 547.4 L728.6 547 L729.2 546.7 L729.7 546.5 L730.3 546.5 L730.8 546.6 M711.2 896.5 L710.7 896.4 L710.1 896.2 L709.6 895.8 L709.1 895.3 L708.5 894.6 L708 893.8 L707.5 892.9 L707 891.9 L706.5 890.7 L706 889.3 L705.6 887.8 L705.1 886.2 L704.6 884.5 L704.2 882.5 L703.8 880.5 L703.3 878.3 L702.9 876 L702.5 873.5 L702.2 870.8 L701.8 868.1 L701.4 865.2 L701.1 862.1 L700.8 858.9 L700.5 855.6 L700.2 852.1 L699.9 848.5 L699.7 844.8 L699.5 840.9 L699.2 836.9 L699.1 832.8 L698.9 828.6 L698.7 824.2 L698.6 819.8 L698.5 815.2 L698.4 810.5 L698.4 805.7 L698.3 800.9 L698.3 795.9 L698.3 790.8 L698.3 785.7 L698.4 780.5 L698.4 775.2 L698.5 769.9 L698.7 764.5 L698.8 759 L699 753.5 L699.2 748 L699.4 742.4 L699.6 736.8 L699.8 731.2 L700.1 725.6 L700.4 719.9 L700.7 714.3 L701.1 708.7 L701.4 703.1 L701.8 697.5 L702.2 692 L702.6 686.4 L703.1 681 L703.5 675.5 L704 670.2 L704.5 664.8 L705 659.6 L705.5 654.4 L706 649.3 L706.6 644.3 L707.1 639.4 L707.7 634.6 L708.3 629.8 L708.9 625.2 L709.5 620.7 L710.1 616.3 L710.7 612 L711.3 607.8 L712 603.8 L712.6 599.9 L713.3 596.1 L713.9 592.4 L714.6 588.9 L715.2 585.5 L715.9 582.2 L716.6 579.1 L717.2 576.1 L717.9 573.3 L718.5 570.6 L719.2 568.1 L719.9 565.7 L720.5 563.4 L721.2 561.3 L721.8 559.3 L722.5 557.5 L723.1 555.8 L723.8 554.3 L724.4 552.9 L725 551.6 M725 551.6 L729.2 551.1 L733.4 550.7 L737.5 550.4 L741.6 550.2 L745.7 550.2 L749.7 550.2 L753.7 550.5 L757.6 550.8 L761.5 551.3 L765.4 551.8 L769.1 552.5 L772.9 553.4 L776.5 554.3 L780.1 555.4 L783.7 556.5 L787.2 557.8 M590.3 834 L588 831.1 L585.8 828.1 L583.6 825 L581.6 821.8 L579.6 818.5 L577.7 815.1 L575.9 811.7 L574.2 808.1 L572.6 804.4 L571.2 800.7 L569.8 796.9 L568.5 793 L567.3 789 L566.3 785 L565.4 780.9 L564.5 776.7 L563.8 772.4 L563.2 768.1 L562.8 763.8 L562.4 759.3 L562.2 754.9 L562.1 750.3 L562.1 745.8 L562.3 741.2 L562.5 736.6 L562.9 731.9 L563.5 727.2 L564.1 722.5 L564.9 717.8 L565.8 713 L566.8 708.3 L568 703.5 L569.3 698.8 L570.7 694 L572.2 689.3 L573.9 684.5 L575.7 679.8 L577.6 675.1 L579.6 670.5 L581.7 665.8 L584 661.3 L586.3 656.7 L588.8 652.2 L591.4 647.8 L594.1 643.4 L596.9 639 L599.8 634.8 L602.8 630.6 L605.9 626.4 L609.1 622.4 L612.4 618.4 L615.7 614.5 L619.2 610.7 L622.7 607 L626.3 603.4 L630 599.9 L633.7 596.5 L637.5 593.2 L641.4 590 L645.3 586.9 L649.3 583.9 L653.3 581 L657.3 578.3 L661.4 575.7 L665.6 573.2 L669.8 570.8 L673.9 568.5 L678.2 566.4 L682.4 564.4 L686.7 562.6 L690.9 560.8 L695.2 559.2 L699.5 557.7 L703.8 556.4 L708 555.2 L712.3 554.1 L716.6 553.1 L720.8 552.3 L725 551.6 M604.6 844.6 L607.3 846.4 L610.2 848.1 L613.1 849.7 L616.1 851.4 L619.3 853 L622.5 854.5 L625.8 856 L629.3 857.5 L632.8 858.9 L636.4 860.2 L640.1 861.6 L643.9 862.8 L647.8 864 L651.7 865.2 L655.8 866.2 L659.9 867.3 L664 868.2 L668.3 869.1 L672.6 870 L676.9 870.7 L681.3 871.4 L685.8 872.1 L690.2 872.6 L694.8 873.1 L699.3 873.6 L703.9 873.9 L708.5 874.2 L713.1 874.4 L717.8 874.6 L722.4 874.7 L727.1 874.7 L731.7 874.6 L736.3 874.5 L741 874.3 L745.6 874 L750.2 873.6 L754.7 873.2 L759.2 872.7 L763.7 872.1 L768.2 871.5 L772.6 870.8 L776.9 870.1 L781.2 869.2 L785.5 868.3 L789.7 867.4 L793.8 866.4 L797.8 865.3 L801.8 864.1 L805.7 863 L809.5 861.7 L813.2 860.4 L816.8 859.1 L820.4 857.7 L823.8 856.2 L827.1 854.7 L830.4 853.2 L833.5 851.6 L836.6 849.9 L839.5 848.3 L842.3 846.6 L845.1 844.8 L847.7 843.1 L850.2 841.3 L852.6 839.4 L854.8 837.6 L857 835.7 L859 833.8 L860.9 831.9 L862.7 829.9 L864.4 827.9 L866 826 L867.5 824 M583.8 825.7 L585.4 827.7 L587.1 829.7 L588.9 831.6 L590.8 833.6 L592.8 835.5 L594.9 837.4 L597.2 839.2 L599.6 841 L602 842.9 L604.6 844.6 M725 551.6 L729.6 552.1 L734.3 552.7 L738.9 553.4 L743.6 554.3 L748.2 555.3 L752.9 556.4 L757.5 557.7 L762.2 559.1 L766.8 560.6 L771.4 562.2 L776 564 L780.5 565.8 L785 567.8 L789.5 570 L793.9 572.2 L798.3 574.6 L802.6 577.1 L806.9 579.7 L811.1 582.4 L815.3 585.2 L819.4 588.1 L823.4 591.1 L827.3 594.3 L831.2 597.5 L835 600.8 L838.7 604.2 L842.3 607.7 L845.8 611.3 L849.2 615 L852.6 618.7 L855.8 622.6 L858.9 626.5 L861.9 630.4 L864.8 634.4 L867.6 638.5 L870.3 642.7 L872.9 646.9 L875.3 651.1 L877.6 655.4 L879.9 659.8 L881.9 664.1 L883.9 668.5 L885.7 672.9 L887.4 677.4 L889 681.9 L890.5 686.4 L891.8 690.9 L893 695.4 L894 699.9 L895 704.4 L895.8 708.9 L896.4 713.4 L897 717.9 L897.4 722.3 L897.6 726.8 L897.8 731.2 L897.8 735.6 L897.7 740 L897.5 744.3 L897.1 748.6 L896.6 752.9 L896 757.1 L895.3 761.2 L894.5 765.3 L893.5 769.4 L892.4 773.4 L891.2 777.4 L889.9 781.3 L888.5 785.1 M640.8 568 L644.4 566.1 L648.1 564.3 L651.9 562.6 L655.7 561 L659.7 559.5 L663.7 558.2 L667.7 556.9 L671.9 555.8 L676 554.8 L680.3 553.9 L684.6 553.1 L688.9 552.4 L693.3 551.9 L697.7 551.5 L702.2 551.2 L706.7 551 L711.2 551 L715.8 551.1 L720.4 551.3 L725 551.6 M593.9 696.3 L596.8 697.7 L599.8 699 L603 700.3 L606.3 701.6 L609.7 702.8 L613.2 704 L616.8 705.2 L620.5 706.3 L624.3 707.4 L628.2 708.5 L632.3 709.5 L636.4 710.5 L640.6 711.4 L644.9 712.3 L649.3 713.2 L653.8 714 L658.3 714.7 L662.9 715.4 L667.6 716.1 L672.4 716.7 L677.2 717.3 L682 717.8 L687 718.2 L691.9 718.6 L696.9 718.9 L701.9 719.2 L706.9 719.4 L712 719.6 L717.1 719.7 L722.2 719.8 L727.3 719.8 L732.3 719.7 L737.4 719.6 L742.5 719.5 L747.5 719.2 L752.5 719 L757.5 718.6 L762.5 718.2 L767.4 717.8 L772.3 717.3 L777.1 716.8 L781.8 716.2 L786.5 715.5 L791.2 714.8 L795.7 714.1 L800.2 713.3 L804.6 712.4 L808.9 711.5 L813.1 710.6 L817.3 709.6 L821.3 708.6 L825.3 707.6 L829.1 706.5 L832.8 705.3 L836.4 704.2 L840 703 L843.4 701.7 L846.6 700.5 L849.8 699.2 L852.9 697.8 L855.8 696.5 L858.6 695.1 L861.3 693.7 L863.8 692.3 L866.2 690.8 L868.5 689.4 L870.7 687.9 L872.7 686.4 L874.7 684.9 L876.4 683.4 L878.1 681.9 L879.6 680.3 L881 678.8 L882.3 677.2 L883.4 675.7 L884.5 674.1 L885.4 672.5 L886.1 671 L886.8 669.4 L887.3 667.8 L887.7 666.3 L888 664.7 L888.1 663.2 L888.2 661.6 L888.1 660.1 L887.9 658.6 L887.6 657 L887.2 655.5 L886.7 654 L886.1 652.5 M563.4 653.9 L562.8 655.4 L562.4 656.9 L562.1 658.4 L561.9 659.9 L561.8 661.4 L561.9 663 L562 664.5 L562.3 666.1 L562.7 667.7 L563.2 669.2 L563.8 670.8 L564.6 672.4 L565.4 673.9 L566.5 675.5 L567.6 677 L568.8 678.6 L570.2 680.1 L571.7 681.7 L573.4 683.2 L575.1 684.7 L577 686.2 L579.1 687.7 L581.2 689.2 L583.5 690.7 L585.9 692.1 L588.5 693.5 L591.1 694.9 L593.9 696.3 M725 551.6 L726.6 552.8 L728.2 554.2 L729.7 555.7 L731.4 557.3 L733 559.1 L734.6 561 L736.2 563 L737.9 565.2 L739.5 567.5 L741.2 570 L742.8 572.7 L744.5 575.4 L746.1 578.3 L747.8 581.4 L749.4 584.5 L751 587.9 L752.7 591.3 L754.3 594.9 L755.9 598.6 L757.5 602.5 L759 606.4 L760.6 610.5 L762.1 614.7 L763.6 619 L765.1 623.4 L766.6 628 L768 632.6 L769.4 637.3 L770.8 642.2 L772.2 647.1 L773.5 652.1 L774.8 657.2 L776 662.3 L777.2 667.5 L778.3 672.8 L779.5 678.1 L780.5 683.5 L781.6 688.9 L782.5 694.4 L783.5 699.8 L784.4 705.3 L785.2 710.9 L786 716.4 L786.7 721.9 L787.4 727.5 L788 733 L788.6 738.5 L789.1 744 L789.5 749.4 L789.9 754.9 L790.3 760.2 L790.6 765.6 L790.8 770.8 L791 776.1 L791.1 781.2 L791.2 786.3 L791.2 791.3 L791.1 796.2 L791 801.1 L790.9 805.8 L790.7 810.5 L790.4 815 L790.1 819.5 L789.7 823.8 L789.3 828 L788.8 832.1 L788.3 836.1 L787.8 840 L787.2 843.7 L786.5 847.4 L785.8 850.8 L785.1 854.2 L784.3 857.4 L783.5 860.5 L782.6 863.5 L781.7 866.3 L780.8 869 L779.8 871.5 L778.8 873.9 L777.8 876.2 L776.7 878.3 L775.6 880.3 L774.5 882.1 L773.3 883.8 L772.2 885.4 L771 886.8 L769.8 888.1 L768.5 889.3 L767.3 890.3 L766 891.2 L764.7 891.9 L763.4 892.6 L762.1 893.1 L760.7 893.4 L759.4 893.7 M711.8 546.9 L713.1 546.9 L714.6 547 L716 547.3 L717.4 547.7 L718.9 548.2 L720.4 548.9 L721.9 549.6 L723.5 550.6 L725 551.6 M694.1 563.7 L694.9 563.9 L695.7 564.1 L696.5 564.3 L697.3 564.5 L698.2 564.7 L699.1 564.9 L700 565 L700.9 565.2 L701.8 565.4 L702.8 565.5 L703.7 565.7 L704.7 565.8 L705.7 565.9 L706.7 566.1 L707.8 566.2 L708.8 566.3 L709.9 566.4 L710.9 566.5 L712 566.6 L713.1 566.7 L714.2 566.8 L715.3 566.8 L716.4 566.9 L717.5 566.9 L718.7 567 L719.8 567 L720.9 567.1 L722.1 567.1 L723.2 567.1 L724.4 567.1 L725.5 567.1 L726.7 567.1 L727.8 567.1 L728.9 567.1 L730.1 567 L731.2 567 L732.3 566.9 L733.5 566.9 L734.6 566.8 L735.7 566.8 L736.8 566.7 L737.9 566.6 L739 566.5 L740 566.4 L741.1 566.3 L742.1 566.2 L743.2 566.1 L744.2 566 L745.2 565.8 L746.2 565.7 L747.1 565.5 L748.1 565.4 L749 565.2 L750 565.1 L750.9 564.9 L751.7 564.7 L752.6 564.5 L753.4 564.3 L754.3 564.1 L755.1 564 L755.8 563.7 L756.6 563.5 L757.3 563.3 L758 563.1 L758.7 562.9 L759.3 562.7 L760 562.4 L760.6 562.2 L761.1 562 L761.7 561.7 L762.2 561.5 L762.7 561.2 L763.2 561 L763.6 560.7 L764 560.5 L764.4 560.2 L764.8 559.9 L765.1 559.7 L765.4 559.4 L765.7 559.1 L765.9 558.9 L766.1 558.6 L766.3 558.3 L766.4 558.1 L766.6 557.8 L766.7 557.5 L766.7 557.3 L766.8 557 L766.8 556.7 L766.8 556.4 L766.7 556.2 L766.6 555.9 L766.5 555.6 L766.4 555.4 L766.2 555.1 L766.1 554.8 L765.8 554.6 L765.6 554.3 L765.3 554.1 L765 553.8 L764.7 553.5 L764.4 553.3 L764 553 L763.6 552.8 L763.2 552.5 L762.7 552.3 L762.2 552.1 L761.7 551.8 L761.2 551.6 L760.7 551.4 L760.1 551.1 L759.5 550.9 L758.9 550.7 L758.3 550.5 L757.6 550.3 L756.9 550.1 L756.2 549.9 L755.5 549.7 L754.8 549.5 L754 549.3 L753.3 549.1 L752.5 549 L751.7 548.8 L750.9 548.6 L750 548.5 L749.2 548.3 L748.3 548.2 L747.4 548 L746.5 547.9 L745.6 547.8 L744.7 547.6 L743.8 547.5 L742.8 547.4 L741.9 547.3 L740.9 547.2 L739.9 547.1 L738.9 547 L737.9 546.9 L736.9 546.8 L735.9 546.8 L734.9 546.7 L733.9 546.6 L732.9 546.6 L731.8 546.5 L730.8 546.5 L729.8 546.5 L728.7 546.5 L727.7 546.4 L726.6 546.4 L725.6 546.4 L724.5 546.4 L723.5 546.4 L722.5 546.4 L721.4 546.4 L720.4 546.5 L719.3 546.5 L718.3 546.5 L717.3 546.6 L716.2 546.6 L715.2 546.7 L714.2 546.8 L713.2 546.8 L712.2 546.9 L711.2 547 L710.2 547.1 L709.2 547.2 L708.3 547.3 L707.3 547.4 L706.4 547.5 L705.4 547.6 L704.5 547.7 L703.6 547.9 L702.7 548 L701.8 548.1 L701 548.3 L700.1 548.5 L699.3 548.6 L698.4 548.8 L697.6 548.9 L696.8 549.1 L696.1 549.3 L695.3 549.5 L694.6 549.7 L693.9 549.9 L693.2 550.1 L692.5 550.3 L691.8 550.5 L691.2 550.7 L690.6 550.9 L690 551.1 L689.4 551.3 L688.9 551.6 L688.3 551.8 L687.8 552 L687.4 552.3 L686.9 552.5 L686.5 552.8 L686.1 553 L685.7 553.3 L685.3 553.5 L685 553.8 L684.7 554 L684.4 554.3 L684.2 554.5 L684 554.8 L683.8 555.1 L683.6 555.3 L683.5 555.6 L683.4 555.9 L683.3 556.1 L683.3 556.4 L683.2 556.7 L683.2 557 L683.3 557.2 L683.3 557.5 L683.4 557.8 L683.6 558 L683.7 558.3 L683.9 558.6 L684.1 558.8 L684.3 559.1 L684.6 559.4 L684.9 559.6 L685.2 559.9 L685.6 560.2 L685.9 560.4 L686.4 560.7 L686.8 560.9 L687.3 561.2 L687.7 561.4 L688.3 561.7 L688.8 561.9 L689.4 562.2 L690 562.4 L690.6 562.6 L691.3 562.9 L691.9 563.1 L692.6 563.3 L693.4 563.5 L694.1 563.7 M725 551.6 L722.3 552.7 L719.6 553.9 L716.9 555.3 L714.1 556.7 L711.4 558.4 L708.6 560.1 L705.8 562 L703 564.1 L700.2 566.2 L697.4 568.6 L694.6 571 L691.8 573.6 L689 576.4 L686.2 579.2 L683.4 582.2 L680.7 585.3 L677.9 588.6 L675.2 592 L672.5 595.5 L669.9 599.1 L667.2 602.9 L664.6 606.8 L662 610.8 L659.5 614.9 L657 619.1 L654.6 623.4 L652.2 627.8 L649.8 632.3 L647.5 636.9 L645.3 641.5 L643.1 646.3 L641 651.1 L638.9 656 L637 661 L635 666 L633.2 671.1 L631.4 676.2 L629.7 681.4 L628.1 686.6 L626.6 691.9 L625.1 697.1 L623.8 702.4 L622.5 707.7 L621.3 713 L620.2 718.3 L619.1 723.6 L618.2 728.9 L617.4 734.2 L616.6 739.5 L616 744.7 L615.4 749.9 L614.9 755.1 L614.5 760.2 L614.2 765.3 L614 770.3 L613.9 775.2 L613.9 780.1 L614 784.9 L614.2 789.6 L614.4 794.3 L614.8 798.9 L615.2 803.4 L615.7 807.8 L616.3 812.1 L617 816.3 L617.7 820.4 L618.6 824.3 L619.5 828.2 L620.5 832 L621.6 835.7 L622.7 839.2 L624 842.6 L625.2 845.9 L626.6 849.1 L628 852.2 L629.5 855.1 L631 857.9 L632.6 860.6 L634.3 863.1 L636 865.6 L637.8 867.8 L639.6 870 L641.4 872 L643.3 873.9 L645.3 875.7 L647.3 877.4 L649.3 878.9 L651.4 880.3 L653.5 881.5 L655.6 882.7 L657.8 883.7 L659.9 884.6 M750.3 548.2 L747.9 548 L745.5 547.9 L743.1 547.9 L740.6 548 L738.1 548.3 L735.5 548.7 L732.9 549.2 L730.3 549.9 L727.7 550.7 L725 551.6 M634.9 616.4 L637 617.2 L639.1 617.9 L641.4 618.6 L643.7 619.3 L646.1 619.9 L648.6 620.6 L651.1 621.2 L653.7 621.8 L656.4 622.4 L659.2 622.9 L661.9 623.5 L664.8 624 L667.7 624.5 L670.7 625 L673.7 625.4 L676.8 625.8 L679.9 626.2 L683 626.6 L686.2 626.9 L689.4 627.2 L692.7 627.5 L696 627.8 L699.3 628 L702.7 628.2 L706 628.4 L709.4 628.5 L712.8 628.7 L716.2 628.8 L719.7 628.8 L723.1 628.8 L726.5 628.8 L730 628.8 L733.4 628.8 L736.8 628.7 L740.2 628.6 L743.6 628.4 L747 628.2 L750.3 628 L753.6 627.8 L756.9 627.6 L760.2 627.3 L763.4 627 L766.6 626.6 L769.8 626.3 L772.9 625.9 L776 625.4 L779 625 L782 624.5 L784.9 624.1 L787.7 623.5 L790.5 623 L793.3 622.4 L796 621.9 L798.6 621.3 L801.1 620.6 L803.6 620 L806 619.3 L808.4 618.7 L810.6 618 L812.8 617.3 L814.9 616.5 L816.9 615.8 L818.9 615 L820.8 614.3 L822.6 613.5 L824.3 612.7 L825.9 611.9 L827.4 611.1 L828.9 610.2 L830.3 609.4 L831.6 608.5 L832.8 607.7 L833.9 606.8 L834.9 606 L835.9 605.1 L836.7 604.2 L837.5 603.4 L838.2 602.5 L838.8 601.6 L839.3 600.7 L839.8 599.8 L840.1 598.9 L840.4 598.1 L840.6 597.2 L840.7 596.3 L840.7 595.4 L840.7 594.5 L840.5 593.7 L840.3 592.8 L840 591.9 L839.7 591.1 L839.2 590.2 L838.7 589.4 L838.1 588.5 L837.5 587.7 L836.7 586.9 L835.9 586.1 L835 585.3 L834.1 584.5 L833.1 583.7 M616 584.4 L615.1 585.2 L614.2 586 L613.4 586.8 L612.7 587.6 L612 588.4 L611.4 589.3 L610.9 590.1 L610.4 591 L610 591.8 L609.7 592.7 L609.5 593.6 L609.4 594.4 L609.3 595.3 L609.3 596.2 L609.4 597.1 L609.6 598 L609.8 598.8 L610.2 599.7 L610.6 600.6 L611.1 601.5 L611.7 602.4 L612.4 603.3 L613.2 604.1 L614 605 L615 605.9 L616 606.7 L617.1 607.6 L618.3 608.4 L619.6 609.3 L620.9 610.1 L622.4 611 L623.9 611.8 L625.5 612.6 L627.2 613.4 L629 614.2 L630.9 614.9 L632.8 615.7 L634.9 616.4 M725 551.6 L720.1 551.8 L715.2 552.1 L710.3 552.6 L705.4 553.1 L700.5 553.8 L695.7 554.6 L690.8 555.6 L686 556.6 L681.2 557.8 L676.5 559.1 L671.8 560.6 L667.1 562.1 L662.5 563.8 L657.9 565.6 L653.4 567.5 L648.9 569.5 L644.5 571.7 L640.2 573.9 L635.9 576.3 L631.7 578.7 L627.6 581.3 L623.6 584 L619.6 586.7 L615.8 589.6 L612 592.5 L608.3 595.6 L604.7 598.7 L601.2 601.9 L597.8 605.2 L594.5 608.6 L591.3 612 L588.3 615.5 L585.3 619.1 L582.4 622.7 L579.7 626.4 L577.1 630.2 L574.6 634 L572.2 637.9 L569.9 641.8 L567.8 645.8 L565.7 649.8 L563.8 653.8 L562.1 657.9 L560.4 662 L558.9 666.1 L557.5 670.3 L556.2 674.4 L555.1 678.6 L554 682.8 L553.1 687 M860.7 610.7 L857.9 607.4 L855 604.2 L852 601 L848.9 597.9 L845.7 594.9 L842.3 592 L838.9 589.1 L835.4 586.3 L831.8 583.7 L828.1 581.1 L824.3 578.6 L820.5 576.2 L816.5 573.9 L812.5 571.7 L808.3 569.6 L804.2 567.6 L799.9 565.7 L795.6 563.9 L791.2 562.3 L786.7 560.7 L782.2 559.3 L777.7 558 L773 556.8 L768.4 555.7 L763.7 554.8 L758.9 553.9 L754.2 553.2 L749.4 552.6 L744.5 552.2 L739.7 551.9 L734.8 551.7 L729.9 551.6 L725 551.6" fill="none" stroke="#5a5a5a" stroke-opacity="0.62" stroke-width="1.2"/>
<circle cx="724.8" cy="722.6" r="175.0" fill="none" stroke="#aaaaaa" stroke-opacity="0.5" stroke-width="1.0"/>
<path d="M588 778.4 L831.5 677.7 M858.6 780.3 L622 676.6 M725 864.6 L725 547.9" stroke="#3a3a3a" stroke-width="1.3" fill="none"/>
<path d="M725.4 529.9 L731 540.8 L719.8 540.8 Z" fill="#000"/>
<g fill="none" stroke-linecap="round"><path d="M556.4 730.1 L555.7 732.3" stroke="rgb(184,0,0)" stroke-width="9.9"/><path d="M555.7 732.3 L555 734.6" stroke="rgb(185,0,0)" stroke-width="10"/><path d="M555 734.6 L554.5 736.8" stroke="rgb(185,0,0)" stroke-width="10"/><path d="M554.5 736.8 L554 739.1" stroke="rgb(186,0,0)" stroke-width="10.1"/><path d="M554 739.1 L553.7 741.4" stroke="rgb(186,0,0)" stroke-width="10.1"/><path d="M553.7 741.4 L553.5 743.6" stroke="rgb(187,0,0)" stroke-width="10.1"/><path d="M553.5 743.6 L553.4 745.9" stroke="rgb(187,0,0)" stroke-width="10.2"/><path d="M553.4 745.9 L553.4 748.2" stroke="rgb(188,0,0)" stroke-width="10.2"/><path d="M553.4 748.2 L553.6 750.5" stroke="rgb(188,0,0)" stroke-width="10.3"/><path d="M553.6 750.5 L553.9 752.8" stroke="rgb(188,0,0)" stroke-width="10.3"/><path d="M553.9 752.8 L554.3 755.1" stroke="rgb(189,0,0)" stroke-width="10.3"/><path d="M554.3 755.1 L554.8 757.4" stroke="rgb(189,0,0)" stroke-width="10.4"/><path d="M554.8 757.4 L555.5 759.7" stroke="rgb(190,0,0)" stroke-width="10.4"/><path d="M555.5 759.7 L556.3 762" stroke="rgb(190,0,0)" stroke-width="10.4"/><path d="M556.3 762 L557.2 764.2" stroke="rgb(191,0,0)" stroke-width="10.5"/><path d="M557.2 764.2 L558.2 766.5" stroke="rgb(191,0,0)" stroke-width="10.5"/><path d="M558.2 766.5 L559.4 768.7" stroke="rgb(191,0,0)" stroke-width="10.6"/><path d="M559.4 768.7 L560.7 771" stroke="rgb(192,0,0)" stroke-width="10.6"/><path d="M560.7 771 L562.2 773.2" stroke="rgb(192,0,0)" stroke-width="10.6"/><path d="M562.2 773.2 L563.8 775.4" stroke="rgb(193,0,0)" stroke-width="10.7"/><path d="M563.8 775.4 L565.5 777.6" stroke="rgb(193,0,0)" stroke-width="10.7"/><path d="M565.5 777.6 L567.3 779.7" stroke="rgb(194,0,0)" stroke-width="10.7"/><path d="M567.3 779.7 L569.3 781.9" stroke="rgb(194,0,0)" stroke-width="10.8"/><path d="M569.3 781.9 L571.4 784" stroke="rgb(194,0,0)" stroke-width="10.8"/><path d="M571.4 784 L573.7 786" stroke="rgb(195,0,0)" stroke-width="10.8"/><path d="M573.7 786 L576.1 788.1" stroke="rgb(195,0,0)" stroke-width="10.9"/><path d="M576.1 788.1 L578.6 790.1" stroke="rgb(195,0,0)" stroke-width="10.9"/><path d="M578.6 790.1 L581.3 792.1" stroke="rgb(196,0,0)" stroke-width="10.9"/><path d="M581.3 792.1 L584.1 794" stroke="rgb(196,0,0)" stroke-width="10.9"/><path d="M584.1 794 L587 795.9" stroke="rgb(196,0,0)" stroke-width="11"/><path d="M587 795.9 L590.1 797.8" stroke="rgb(197,0,0)" stroke-width="11"/><path d="M590.1 797.8 L593.2 799.6" stroke="rgb(197,0,0)" stroke-width="11"/><path d="M593.2 799.6 L596.6 801.3" stroke="rgb(197,0,0)" stroke-width="11.1"/><path d="M596.6 801.3 L600 803" stroke="rgb(198,0,0)" stroke-width="11.1"/><path d="M600 803 L603.6 804.7" stroke="rgb(198,0,0)" stroke-width="11.1"/><path d="M603.6 804.7 L607.3 806.3" stroke="rgb(198,0,0)" stroke-width="11.1"/><path d="M607.3 806.3 L611.1 807.8" stroke="rgb(199,0,0)" stroke-width="11.2"/><path d="M611.1 807.8 L615 809.3" stroke="rgb(199,0,0)" stroke-width="11.2"/><path d="M615 809.3 L619 810.8" stroke="rgb(199,0,0)" stroke-width="11.2"/><path d="M619 810.8 L623.1 812.1" stroke="rgb(199,0,0)" stroke-width="11.2"/><path d="M623.1 812.1 L627.4 813.4" stroke="rgb(200,0,0)" stroke-width="11.2"/><path d="M627.4 813.4 L631.8 814.7" stroke="rgb(200,0,0)" stroke-width="11.3"/><path d="M631.8 814.7 L636.2 815.8" stroke="rgb(200,0,0)" stroke-width="11.3"/><path d="M636.2 815.8 L640.7 816.9" stroke="rgb(200,0,0)" stroke-width="11.3"/><path d="M640.7 816.9 L645.4 817.9" stroke="rgb(201,0,0)" stroke-width="11.3"/><path d="M645.4 817.9 L650.1 818.9" stroke="rgb(201,0,0)" stroke-width="11.3"/><path d="M650.1 818.9 L654.9 819.7" stroke="rgb(201,0,0)" stroke-width="11.4"/><path d="M654.9 819.7 L659.8 820.5" stroke="rgb(201,0,0)" stroke-width="11.4"/><path d="M659.8 820.5 L664.8 821.3" stroke="rgb(201,0,0)" stroke-width="11.4"/><path d="M664.8 821.3 L669.8 821.9" stroke="rgb(201,0,0)" stroke-width="11.4"/><path d="M669.8 821.9 L674.9 822.5" stroke="rgb(202,0,0)" stroke-width="11.4"/><path d="M674.9 822.5 L680 822.9" stroke="rgb(202,0,0)" stroke-width="11.4"/><path d="M680 822.9 L685.2 823.3" stroke="rgb(202,0,0)" stroke-width="11.4"/><path d="M685.2 823.3 L690.5 823.6" stroke="rgb(202,0,0)" stroke-width="11.4"/><path d="M690.5 823.6 L695.8 823.9" stroke="rgb(202,0,0)" stroke-width="11.4"/><path d="M695.8 823.9 L701.1 824" stroke="rgb(202,0,0)" stroke-width="11.4"/><path d="M701.1 824 L706.4 824" stroke="rgb(202,0,0)" stroke-width="11.5"/><path d="M706.4 824 L711.8 824" stroke="rgb(202,0,0)" stroke-width="11.5"/><path d="M711.8 824 L717.2 823.9" stroke="rgb(202,0,0)" stroke-width="11.5"/><path d="M717.2 823.9 L722.6 823.7" stroke="rgb(202,0,0)" stroke-width="11.5"/><path d="M722.6 823.7 L728 823.4" stroke="rgb(202,0,0)" stroke-width="11.5"/><path d="M728 823.4 L733.4 823.1" stroke="rgb(202,0,0)" stroke-width="11.5"/><path d="M733.4 823.1 L738.8 822.6" stroke="rgb(202,0,0)" stroke-width="11.5"/><path d="M738.8 822.6 L744.2 822.1" stroke="rgb(202,0,0)" stroke-width="11.5"/><path d="M744.2 822.1 L749.5 821.4" stroke="rgb(202,0,0)" stroke-width="11.5"/><path d="M749.5 821.4 L754.9 820.7" stroke="rgb(202,0,0)" stroke-width="11.5"/><path d="M754.9 820.7 L760.2 820" stroke="rgb(202,0,0)" stroke-width="11.5"/><path d="M760.2 820 L765.4 819.1" stroke="rgb(202,0,0)" stroke-width="11.5"/><path d="M765.4 819.1 L770.7 818.1" stroke="rgb(202,0,0)" stroke-width="11.4"/><path d="M770.7 818.1 L775.8 817.1" stroke="rgb(202,0,0)" stroke-width="11.4"/><path d="M775.8 817.1 L781 816" stroke="rgb(202,0,0)" stroke-width="11.4"/><path d="M781 816 L786 814.9" stroke="rgb(202,0,0)" stroke-width="11.4"/><path d="M786 814.9 L791 813.6" stroke="rgb(202,0,0)" stroke-width="11.4"/><path d="M791 813.6 L796 812.3" stroke="rgb(201,0,0)" stroke-width="11.4"/><path d="M796 812.3 L800.8 810.9" stroke="rgb(201,0,0)" stroke-width="11.4"/><path d="M800.8 810.9 L805.6 809.4" stroke="rgb(201,0,0)" stroke-width="11.4"/><path d="M805.6 809.4 L810.3 807.9" stroke="rgb(201,0,0)" stroke-width="11.4"/><path d="M810.3 807.9 L814.9 806.3" stroke="rgb(201,0,0)" stroke-width="11.3"/><path d="M814.9 806.3 L819.4 804.7" stroke="rgb(201,0,0)" stroke-width="11.3"/><path d="M819.4 804.7 L823.8 803" stroke="rgb(200,0,0)" stroke-width="11.3"/><path d="M823.8 803 L828.1 801.2" stroke="rgb(200,0,0)" stroke-width="11.3"/><path d="M828.1 801.2 L832.3 799.4" stroke="rgb(200,0,0)" stroke-width="11.3"/><path d="M832.3 799.4 L836.4 797.5" stroke="rgb(200,0,0)" stroke-width="11.3"/><path d="M836.4 797.5 L840.3 795.6" stroke="rgb(200,0,0)" stroke-width="11.2"/><path d="M840.3 795.6 L844.2 793.6" stroke="rgb(199,0,0)" stroke-width="11.2"/><path d="M844.2 793.6 L847.9 791.6" stroke="rgb(199,0,0)" stroke-width="11.2"/><path d="M847.9 791.6 L851.6 789.6" stroke="rgb(199,0,0)" stroke-width="11.2"/><path d="M851.6 789.6 L855 787.5" stroke="rgb(199,0,0)" stroke-width="11.1"/><path d="M855 787.5 L858.4 785.3" stroke="rgb(198,0,0)" stroke-width="11.1"/><path d="M858.4 785.3 L861.7 783.1" stroke="rgb(198,0,0)" stroke-width="11.1"/><path d="M861.7 783.1 L864.8 780.9" stroke="rgb(198,0,0)" stroke-width="11.1"/><path d="M864.8 780.9 L867.7 778.7" stroke="rgb(197,0,0)" stroke-width="11"/><path d="M867.7 778.7 L870.6 776.4" stroke="rgb(197,0,0)" stroke-width="11"/><path d="M870.6 776.4 L873.3 774.2" stroke="rgb(197,0,0)" stroke-width="11"/><path d="M873.3 774.2 L875.9 771.8" stroke="rgb(196,0,0)" stroke-width="11"/><path d="M875.9 771.8 L878.3 769.5" stroke="rgb(196,0,0)" stroke-width="10.9"/><path d="M878.3 769.5 L880.6 767.2" stroke="rgb(196,0,0)" stroke-width="10.9"/><path d="M880.6 767.2 L882.8 764.8" stroke="rgb(195,0,0)" stroke-width="10.9"/><path d="M882.8 764.8 L884.8 762.4" stroke="rgb(195,0,0)" stroke-width="10.8"/><path d="M884.8 762.4 L886.7 760" stroke="rgb(195,0,0)" stroke-width="10.8"/><path d="M886.7 760 L888.4 757.6" stroke="rgb(194,0,0)" stroke-width="10.8"/><path d="M888.4 757.6 L890 755.2" stroke="rgb(194,0,0)" stroke-width="10.7"/><path d="M890 755.2 L891.5 752.8" stroke="rgb(193,0,0)" stroke-width="10.7"/><path d="M891.5 752.8 L892.8 750.4" stroke="rgb(193,0,0)" stroke-width="10.7"/><path d="M892.8 750.4 L894 748" stroke="rgb(193,0,0)" stroke-width="10.6"/><path d="M894 748 L895.1 745.6" stroke="rgb(192,0,0)" stroke-width="10.6"/><path d="M895.1 745.6 L896 743.2" stroke="rgb(192,0,0)" stroke-width="10.6"/><path d="M896 743.2 L896.8 740.8" stroke="rgb(191,0,0)" stroke-width="10.5"/><path d="M896.8 740.8 L897.5 738.4" stroke="rgb(191,0,0)" stroke-width="10.5"/><path d="M897.5 738.4 L898 736" stroke="rgb(190,0,0)" stroke-width="10.5"/><path d="M898 736 L898.4 733.7" stroke="rgb(190,0,0)" stroke-width="10.4"/><path d="M898.4 733.7 L898.7 731.3" stroke="rgb(190,0,0)" stroke-width="10.4"/><path d="M898.7 731.3 L898.8 729" stroke="rgb(189,0,0)" stroke-width="10.4"/><path d="M898.8 729 L898.8 726.7" stroke="rgb(189,0,0)" stroke-width="10.3"/><path d="M898.8 726.7 L898.7 724.4" stroke="rgb(188,0,0)" stroke-width="10.3"/><path d="M898.7 724.4 L898.5 722.1" stroke="rgb(188,0,0)" stroke-width="10.2"/><path d="M898.5 722.1 L898.2 719.8" stroke="rgb(187,0,0)" stroke-width="10.2"/><path d="M898.2 719.8 L897.7 717.6" stroke="rgb(187,0,0)" stroke-width="10.2"/><path d="M897.7 717.6 L897.1 715.4" stroke="rgb(187,0,0)" stroke-width="10.1"/><path d="M897.1 715.4 L896.4 713.2" stroke="rgb(186,0,0)" stroke-width="10.1"/><path d="M896.4 713.2 L895.6 711" stroke="rgb(186,0,0)" stroke-width="10.1"/><path d="M895.6 711 L894.7 708.9" stroke="rgb(185,0,0)" stroke-width="10"/><path d="M894.7 708.9 L893.7 706.8" stroke="rgb(185,0,0)" stroke-width="10"/><path d="M893.7 706.8 L892.6 704.7" stroke="rgb(184,0,0)" stroke-width="9.9"/><path d="M748.8 550.4 L747.6 550.1" stroke="rgb(0,0,191)" stroke-width="10.9"/><path d="M747.6 550.1 L746.4 549.9" stroke="rgb(0,0,191)" stroke-width="10.9"/><path d="M746.4 549.9 L745.2 549.6" stroke="rgb(0,0,191)" stroke-width="10.9"/><path d="M745.2 549.6 L744 549.4" stroke="rgb(0,0,191)" stroke-width="10.9"/><path d="M744 549.4 L742.7 549.2" stroke="rgb(0,0,191)" stroke-width="10.9"/><path d="M742.7 549.2 L741.4 548.9" stroke="rgb(0,0,191)" stroke-width="10.9"/><path d="M741.4 548.9 L740.1 548.8" stroke="rgb(0,0,191)" stroke-width="10.9"/><path d="M740.1 548.8 L738.7 548.6" stroke="rgb(0,0,191)" stroke-width="10.9"/><path d="M738.7 548.6 L737.4 548.4" stroke="rgb(0,0,191)" stroke-width="10.9"/><path d="M737.4 548.4 L736 548.3" stroke="rgb(0,0,191)" stroke-width="10.9"/><path d="M736 548.3 L734.6 548.1" stroke="rgb(0,0,191)" stroke-width="10.9"/><path d="M734.6 548.1 L733.2 548" stroke="rgb(0,0,191)" stroke-width="10.8"/><path d="M733.2 548 L731.8 547.9" stroke="rgb(0,0,191)" stroke-width="10.8"/><path d="M731.8 547.9 L730.3 547.8" stroke="rgb(0,0,191)" stroke-width="10.8"/><path d="M730.3 547.8 L728.8 547.8" stroke="rgb(0,0,191)" stroke-width="10.8"/><path d="M728.8 547.8 L727.4 547.7" stroke="rgb(0,0,190)" stroke-width="10.8"/><path d="M727.4 547.7 L725.9 547.7" stroke="rgb(0,0,190)" stroke-width="10.8"/><path d="M725.9 547.7 L724.4 547.7" stroke="rgb(0,0,190)" stroke-width="10.8"/><path d="M724.4 547.7 L722.9 547.7" stroke="rgb(0,0,190)" stroke-width="10.8"/><path d="M722.9 547.7 L721.4 547.7" stroke="rgb(0,0,190)" stroke-width="10.8"/><path d="M721.4 547.7 L719.8 547.7" stroke="rgb(0,0,190)" stroke-width="10.8"/><path d="M719.8 547.7 L718.3 547.7" stroke="rgb(0,0,190)" stroke-width="10.8"/><path d="M718.3 547.7 L716.7 547.8" stroke="rgb(0,0,190)" stroke-width="10.8"/><path d="M716.7 547.8 L715.2 547.9" stroke="rgb(0,0,190)" stroke-width="10.8"/><path d="M715.2 547.9 L713.6 548" stroke="rgb(0,0,190)" stroke-width="10.8"/><path d="M713.6 548 L712.1 548.1" stroke="rgb(0,0,190)" stroke-width="10.8"/><path d="M712.1 548.1 L710.5 548.2" stroke="rgb(0,0,190)" stroke-width="10.8"/><path d="M710.5 548.2 L708.9 548.3" stroke="rgb(0,0,190)" stroke-width="10.8"/><path d="M708.9 548.3 L707.3 548.5" stroke="rgb(0,0,190)" stroke-width="10.8"/><path d="M707.3 548.5 L705.8 548.7" stroke="rgb(0,0,190)" stroke-width="10.8"/><path d="M705.8 548.7 L704.2 548.8" stroke="rgb(0,0,190)" stroke-width="10.8"/><path d="M704.2 548.8 L702.6 549" stroke="rgb(0,0,190)" stroke-width="10.8"/><path d="M702.6 549 L701 549.2" stroke="rgb(0,0,190)" stroke-width="10.8"/><path d="M701 549.2 L699.5 549.5" stroke="rgb(0,0,190)" stroke-width="10.8"/><path d="M699.5 549.5 L697.9 549.7" stroke="rgb(0,0,190)" stroke-width="10.8"/><path d="M697.9 549.7 L696.3 550" stroke="rgb(0,0,190)" stroke-width="10.8"/><path d="M696.3 550 L694.8 550.2" stroke="rgb(0,0,190)" stroke-width="10.8"/><path d="M694.8 550.2 L693.2 550.5" stroke="rgb(0,0,190)" stroke-width="10.8"/><path d="M693.2 550.5 L691.7 550.8" stroke="rgb(0,0,190)" stroke-width="10.8"/><path d="M691.7 550.8 L690.1 551.1" stroke="rgb(0,0,190)" stroke-width="10.8"/><path d="M690.1 551.1 L688.6 551.5" stroke="rgb(0,0,190)" stroke-width="10.8"/><path d="M688.6 551.5 L687.1 551.8" stroke="rgb(0,0,190)" stroke-width="10.8"/><path d="M687.1 551.8 L685.5 552.1" stroke="rgb(0,0,190)" stroke-width="10.8"/><path d="M685.5 552.1 L684 552.5" stroke="rgb(0,0,190)" stroke-width="10.8"/><path d="M684 552.5 L682.5 552.9" stroke="rgb(0,0,190)" stroke-width="10.8"/><path d="M682.5 552.9 L681.1 553.3" stroke="rgb(0,0,190)" stroke-width="10.8"/><path d="M681.1 553.3 L679.6 553.7" stroke="rgb(0,0,190)" stroke-width="10.8"/><path d="M679.6 553.7 L678.1 554.1" stroke="rgb(0,0,190)" stroke-width="10.8"/><path d="M678.1 554.1 L676.7 554.5" stroke="rgb(0,0,190)" stroke-width="10.8"/><path d="M676.7 554.5 L675.3 555" stroke="rgb(0,0,190)" stroke-width="10.8"/><path d="M675.3 555 L673.9 555.4" stroke="rgb(0,0,190)" stroke-width="10.8"/><path d="M673.9 555.4 L672.5 555.9" stroke="rgb(0,0,191)" stroke-width="10.8"/><path d="M672.5 555.9 L671.1 556.3" stroke="rgb(0,0,191)" stroke-width="10.8"/><path d="M671.1 556.3 L669.8 556.8" stroke="rgb(0,0,191)" stroke-width="10.8"/><path d="M669.8 556.8 L668.4 557.3" stroke="rgb(0,0,191)" stroke-width="10.8"/><path d="M668.4 557.3 L667.1 557.8" stroke="rgb(0,0,191)" stroke-width="10.9"/><path d="M667.1 557.8 L665.8 558.3" stroke="rgb(0,0,191)" stroke-width="10.9"/><path d="M665.8 558.3 L664.6 558.9" stroke="rgb(0,0,191)" stroke-width="10.9"/><path d="M664.6 558.9 L663.3 559.4" stroke="rgb(0,0,191)" stroke-width="10.9"/><path d="M663.3 559.4 L662.1 560" stroke="rgb(0,0,191)" stroke-width="10.9"/><path d="M662.1 560 L660.9 560.5" stroke="rgb(0,0,191)" stroke-width="10.9"/><path d="M660.9 560.5 L659.7 561.1" stroke="rgb(0,0,191)" stroke-width="10.9"/><path d="M659.7 561.1 L658.6 561.6" stroke="rgb(0,0,191)" stroke-width="10.9"/><path d="M658.6 561.6 L657.5 562.2" stroke="rgb(0,0,191)" stroke-width="10.9"/><path d="M657.5 562.2 L656.4 562.8" stroke="rgb(0,0,191)" stroke-width="10.9"/><path d="M656.4 562.8 L655.3 563.4" stroke="rgb(0,0,191)" stroke-width="10.9"/><path d="M655.3 563.4 L654.3 564" stroke="rgb(0,0,191)" stroke-width="11"/><path d="M654.3 564 L653.3 564.6" stroke="rgb(0,0,191)" stroke-width="11"/><path d="M653.3 564.6 L652.3 565.2" stroke="rgb(0,0,192)" stroke-width="11"/><path d="M652.3 565.2 L651.4 565.9" stroke="rgb(0,0,192)" stroke-width="11"/><path d="M651.4 565.9 L650.5 566.5" stroke="rgb(0,0,192)" stroke-width="11"/><path d="M650.5 566.5 L649.6 567.1" stroke="rgb(0,0,192)" stroke-width="11"/><path d="M649.6 567.1 L648.8 567.7" stroke="rgb(0,0,192)" stroke-width="11"/><path d="M648.8 567.7 L648 568.4" stroke="rgb(0,0,192)" stroke-width="11"/><path d="M648 568.4 L647.2 569" stroke="rgb(0,0,192)" stroke-width="11"/><path d="M647.2 569 L646.5 569.7" stroke="rgb(0,0,192)" stroke-width="11.1"/><path d="M646.5 569.7 L645.8 570.3" stroke="rgb(0,0,192)" stroke-width="11.1"/><path d="M645.8 570.3 L645.1 571" stroke="rgb(0,0,192)" stroke-width="11.1"/><path d="M645.1 571 L644.5 571.7" stroke="rgb(0,0,192)" stroke-width="11.1"/><path d="M644.5 571.7 L643.9 572.3" stroke="rgb(0,0,192)" stroke-width="11.1"/><path d="M643.9 572.3 L643.4 573" stroke="rgb(0,0,193)" stroke-width="11.1"/><path d="M643.4 573 L642.9 573.6" stroke="rgb(0,0,193)" stroke-width="11.1"/><path d="M642.9 573.6 L642.4 574.3" stroke="rgb(0,0,193)" stroke-width="11.1"/><path d="M642.4 574.3 L642 575" stroke="rgb(0,0,193)" stroke-width="11.2"/><path d="M642 575 L641.6 575.6" stroke="rgb(0,0,193)" stroke-width="11.2"/><path d="M641.6 575.6 L641.3 576.3" stroke="rgb(0,0,193)" stroke-width="11.2"/><path d="M641.3 576.3 L641 577" stroke="rgb(0,0,193)" stroke-width="11.2"/><path d="M641 577 L640.7 577.6" stroke="rgb(0,0,193)" stroke-width="11.2"/><path d="M640.7 577.6 L640.5 578.3" stroke="rgb(0,0,193)" stroke-width="11.2"/><path d="M640.5 578.3 L640.3 579" stroke="rgb(0,0,193)" stroke-width="11.2"/><path d="M640.3 579 L640.2 579.6" stroke="rgb(0,0,193)" stroke-width="11.2"/><path d="M640.2 579.6 L640.1 580.3" stroke="rgb(0,0,194)" stroke-width="11.3"/><path d="M640.1 580.3 L640 580.9" stroke="rgb(0,0,194)" stroke-width="11.3"/><path d="M640 580.9 L640 581.6" stroke="rgb(0,0,194)" stroke-width="11.3"/><path d="M640 581.6 L640.1 582.2" stroke="rgb(0,0,194)" stroke-width="11.3"/><path d="M640.1 582.2 L640.2 582.9" stroke="rgb(0,0,194)" stroke-width="11.3"/><path d="M640.2 582.9 L640.3 583.5" stroke="rgb(0,0,194)" stroke-width="11.3"/><path d="M640.3 583.5 L640.5 584.1" stroke="rgb(0,0,194)" stroke-width="11.3"/><path d="M640.5 584.1 L640.7 584.8" stroke="rgb(0,0,194)" stroke-width="11.3"/><path d="M640.7 584.8 L641 585.4" stroke="rgb(0,0,194)" stroke-width="11.4"/><path d="M641 585.4 L641.3 586" stroke="rgb(0,0,194)" stroke-width="11.4"/><path d="M641.3 586 L641.6 586.6" stroke="rgb(0,0,194)" stroke-width="11.4"/><path d="M641.6 586.6 L642 587.2" stroke="rgb(0,0,195)" stroke-width="11.4"/><path d="M642 587.2 L642.5 587.8" stroke="rgb(0,0,195)" stroke-width="11.4"/><path d="M642.5 587.8 L642.9 588.3" stroke="rgb(0,0,195)" stroke-width="11.4"/><path d="M642.9 588.3 L643.5 588.9" stroke="rgb(0,0,195)" stroke-width="11.4"/><path d="M643.5 588.9 L644.1 589.5" stroke="rgb(0,0,195)" stroke-width="11.5"/><path d="M644.1 589.5 L644.7 590" stroke="rgb(0,0,195)" stroke-width="11.5"/><path d="M644.7 590 L645.3 590.5" stroke="rgb(0,0,195)" stroke-width="11.5"/><path d="M645.3 590.5 L646 591.1" stroke="rgb(0,0,195)" stroke-width="11.5"/><path d="M646 591.1 L646.8 591.6" stroke="rgb(0,0,195)" stroke-width="11.5"/><path d="M646.8 591.6 L647.6 592.1" stroke="rgb(0,0,195)" stroke-width="11.5"/><path d="M647.6 592.1 L648.4 592.6" stroke="rgb(0,0,195)" stroke-width="11.5"/><path d="M648.4 592.6 L649.3 593" stroke="rgb(0,0,196)" stroke-width="11.5"/><path d="M649.3 593 L650.2 593.5" stroke="rgb(0,0,196)" stroke-width="11.5"/><path d="M650.2 593.5 L651.2 593.9" stroke="rgb(0,0,196)" stroke-width="11.6"/><path d="M651.2 593.9 L652.2 594.4" stroke="rgb(0,0,196)" stroke-width="11.6"/><path d="M652.2 594.4 L653.2 594.8" stroke="rgb(0,0,196)" stroke-width="11.6"/><path d="M653.2 594.8 L654.3 595.2" stroke="rgb(0,0,196)" stroke-width="11.6"/><path d="M654.3 595.2 L655.4 595.6" stroke="rgb(0,0,196)" stroke-width="11.6"/><path d="M655.4 595.6 L656.6 596" stroke="rgb(0,0,196)" stroke-width="11.6"/><path d="M656.6 596 L657.8 596.3" stroke="rgb(0,0,196)" stroke-width="11.6"/><path d="M657.8 596.3 L659 596.6" stroke="rgb(0,0,196)" stroke-width="11.6"/><path d="M659 596.6 L660.3 597" stroke="rgb(0,0,196)" stroke-width="11.6"/><path d="M660.3 597 L661.6 597.3" stroke="rgb(0,0,196)" stroke-width="11.6"/><path d="M661.6 597.3 L662.9 597.6" stroke="rgb(0,0,196)" stroke-width="11.7"/><path d="M662.9 597.6 L664.3 597.8" stroke="rgb(0,0,196)" stroke-width="11.7"/><path d="M664.3 597.8 L665.7 598.1" stroke="rgb(0,0,197)" stroke-width="11.7"/><path d="M665.7 598.1 L667.1 598.3" stroke="rgb(0,0,197)" stroke-width="11.7"/><path d="M667.1 598.3 L668.6 598.5" stroke="rgb(0,0,197)" stroke-width="11.7"/><path d="M668.6 598.5 L670.1 598.7" stroke="rgb(0,0,197)" stroke-width="11.7"/><path d="M670.1 598.7 L671.6 598.9" stroke="rgb(0,0,197)" stroke-width="11.7"/><path d="M671.6 598.9 L673.1 599.1" stroke="rgb(0,0,197)" stroke-width="11.7"/><path d="M673.1 599.1 L674.7 599.2" stroke="rgb(0,0,197)" stroke-width="11.7"/><path d="M674.7 599.2 L676.3 599.3" stroke="rgb(0,0,197)" stroke-width="11.7"/><path d="M676.3 599.3 L677.9 599.4" stroke="rgb(0,0,197)" stroke-width="11.7"/><path d="M677.9 599.4 L679.5 599.5" stroke="rgb(0,0,197)" stroke-width="11.7"/><path d="M679.5 599.5 L681.2 599.6" stroke="rgb(0,0,197)" stroke-width="11.7"/><path d="M681.2 599.6 L682.9 599.6" stroke="rgb(0,0,197)" stroke-width="11.7"/><path d="M682.9 599.6 L684.6 599.6" stroke="rgb(0,0,197)" stroke-width="11.8"/><path d="M684.6 599.6 L686.3 599.6" stroke="rgb(0,0,197)" stroke-width="11.8"/><path d="M686.3 599.6 L688 599.6" stroke="rgb(0,0,197)" stroke-width="11.8"/><path d="M688 599.6 L689.7 599.5" stroke="rgb(0,0,197)" stroke-width="11.8"/><path d="M689.7 599.5 L691.5 599.5" stroke="rgb(0,0,197)" stroke-width="11.8"/><path d="M691.5 599.5 L693.3 599.4" stroke="rgb(0,0,197)" stroke-width="11.8"/><path d="M693.3 599.4 L695 599.3" stroke="rgb(0,0,197)" stroke-width="11.8"/><path d="M695 599.3 L696.8 599.2" stroke="rgb(0,0,197)" stroke-width="11.8"/><path d="M696.8 599.2 L698.6 599" stroke="rgb(0,0,197)" stroke-width="11.8"/><path d="M698.6 599 L700.4 598.9" stroke="rgb(0,0,197)" stroke-width="11.8"/><path d="M700.4 598.9 L702.2 598.7" stroke="rgb(0,0,197)" stroke-width="11.8"/><path d="M702.2 598.7 L704 598.5" stroke="rgb(0,0,197)" stroke-width="11.8"/><path d="M704 598.5 L705.8 598.3" stroke="rgb(0,0,197)" stroke-width="11.8"/><path d="M705.8 598.3 L707.6 598" stroke="rgb(0,0,197)" stroke-width="11.8"/><path d="M707.6 598 L709.4 597.8" stroke="rgb(0,0,197)" stroke-width="11.8"/><path d="M709.4 597.8 L711.1 597.5" stroke="rgb(0,0,197)" stroke-width="11.8"/><path d="M711.1 597.5 L712.9 597.2" stroke="rgb(0,0,197)" stroke-width="11.8"/><path d="M712.9 597.2 L714.7 596.9" stroke="rgb(0,0,197)" stroke-width="11.8"/><path d="M714.7 596.9 L716.5 596.6" stroke="rgb(0,0,197)" stroke-width="11.8"/><path d="M716.5 596.6 L718.2 596.2" stroke="rgb(0,0,197)" stroke-width="11.8"/><path d="M718.2 596.2 L720 595.8" stroke="rgb(0,0,197)" stroke-width="11.8"/><path d="M720 595.8 L721.7 595.5" stroke="rgb(0,0,197)" stroke-width="11.8"/><path d="M721.7 595.5 L723.4 595.1" stroke="rgb(0,0,197)" stroke-width="11.8"/><path d="M723.4 595.1 L725.1 594.6" stroke="rgb(0,0,197)" stroke-width="11.8"/><path d="M725.1 594.6 L726.8 594.2" stroke="rgb(0,0,197)" stroke-width="11.8"/><path d="M726.8 594.2 L728.5 593.7" stroke="rgb(0,0,197)" stroke-width="11.8"/><path d="M728.5 593.7 L730.1 593.3" stroke="rgb(0,0,197)" stroke-width="11.8"/><path d="M730.1 593.3 L731.8 592.8" stroke="rgb(0,0,197)" stroke-width="11.8"/><path d="M731.8 592.8 L733.4 592.3" stroke="rgb(0,0,197)" stroke-width="11.7"/><path d="M733.4 592.3 L735 591.8" stroke="rgb(0,0,197)" stroke-width="11.7"/><path d="M735 591.8 L736.5 591.3" stroke="rgb(0,0,197)" stroke-width="11.7"/><path d="M736.5 591.3 L738 590.7" stroke="rgb(0,0,197)" stroke-width="11.7"/><path d="M738 590.7 L739.5 590.2" stroke="rgb(0,0,197)" stroke-width="11.7"/><path d="M739.5 590.2 L741 589.6" stroke="rgb(0,0,197)" stroke-width="11.7"/><path d="M741 589.6 L742.5 589.1" stroke="rgb(0,0,197)" stroke-width="11.7"/><path d="M742.5 589.1 L743.9 588.5" stroke="rgb(0,0,197)" stroke-width="11.7"/><path d="M743.9 588.5 L745.3 587.9" stroke="rgb(0,0,197)" stroke-width="11.7"/><path d="M745.3 587.9 L746.6 587.3" stroke="rgb(0,0,197)" stroke-width="11.7"/><path d="M746.6 587.3 L747.9 586.7" stroke="rgb(0,0,197)" stroke-width="11.7"/><path d="M747.9 586.7 L749.2 586" stroke="rgb(0,0,197)" stroke-width="11.7"/><path d="M749.2 586 L750.5 585.4" stroke="rgb(0,0,196)" stroke-width="11.7"/><path d="M750.5 585.4 L751.7 584.8" stroke="rgb(0,0,196)" stroke-width="11.7"/><path d="M751.7 584.8 L752.9 584.1" stroke="rgb(0,0,196)" stroke-width="11.7"/><path d="M752.9 584.1 L754 583.5" stroke="rgb(0,0,196)" stroke-width="11.6"/><path d="M754 583.5 L755.1 582.8" stroke="rgb(0,0,196)" stroke-width="11.6"/><path d="M755.1 582.8 L756.2 582.1" stroke="rgb(0,0,196)" stroke-width="11.6"/><path d="M756.2 582.1 L757.2 581.5" stroke="rgb(0,0,196)" stroke-width="11.6"/><path d="M757.2 581.5 L758.1 580.8" stroke="rgb(0,0,196)" stroke-width="11.6"/><path d="M758.1 580.8 L759.1 580.1" stroke="rgb(0,0,196)" stroke-width="11.6"/><path d="M759.1 580.1 L760 579.4" stroke="rgb(0,0,196)" stroke-width="11.6"/><path d="M760 579.4 L760.8 578.7" stroke="rgb(0,0,196)" stroke-width="11.6"/><path d="M760.8 578.7 L761.6 578" stroke="rgb(0,0,196)" stroke-width="11.6"/><path d="M761.6 578 L762.4 577.3" stroke="rgb(0,0,196)" stroke-width="11.5"/><path d="M762.4 577.3 L763.1 576.6" stroke="rgb(0,0,196)" stroke-width="11.5"/><path d="M763.1 576.6 L763.8 575.9" stroke="rgb(0,0,195)" stroke-width="11.5"/><path d="M763.8 575.9 L764.4 575.2" stroke="rgb(0,0,195)" stroke-width="11.5"/><path d="M764.4 575.2 L765 574.5" stroke="rgb(0,0,195)" stroke-width="11.5"/><path d="M765 574.5 L765.6 573.9" stroke="rgb(0,0,195)" stroke-width="11.5"/><path d="M765.6 573.9 L766.1 573.2" stroke="rgb(0,0,195)" stroke-width="11.5"/><path d="M766.1 573.2 L766.5 572.5" stroke="rgb(0,0,195)" stroke-width="11.5"/><path d="M766.5 572.5 L766.9 571.8" stroke="rgb(0,0,195)" stroke-width="11.5"/><path d="M766.9 571.8 L767.3 571.1" stroke="rgb(0,0,195)" stroke-width="11.4"/><path d="M767.3 571.1 L767.6 570.4" stroke="rgb(0,0,195)" stroke-width="11.4"/><path d="M767.6 570.4 L767.9 569.7" stroke="rgb(0,0,195)" stroke-width="11.4"/><path d="M767.9 569.7 L768.1 569" stroke="rgb(0,0,195)" stroke-width="11.4"/><path d="M768.1 569 L768.3 568.3" stroke="rgb(0,0,195)" stroke-width="11.4"/><path d="M768.3 568.3 L768.4 567.7" stroke="rgb(0,0,194)" stroke-width="11.4"/><path d="M768.4 567.7 L768.5 567" stroke="rgb(0,0,194)" stroke-width="11.4"/><path d="M768.5 567 L768.6 566.4" stroke="rgb(0,0,194)" stroke-width="11.4"/><path d="M768.6 566.4 L768.6 565.7" stroke="rgb(0,0,194)" stroke-width="11.3"/><path d="M768.6 565.7 L768.6 565" stroke="rgb(0,0,194)" stroke-width="11.3"/><path d="M768.6 565 L768.5 564.4" stroke="rgb(0,0,194)" stroke-width="11.3"/><path d="M768.5 564.4 L768.3 563.8" stroke="rgb(0,0,194)" stroke-width="11.3"/><path d="M768.3 563.8 L768.2 563.2" stroke="rgb(0,0,194)" stroke-width="11.3"/><path d="M768.2 563.2 L767.9 562.5" stroke="rgb(0,0,194)" stroke-width="11.3"/><path d="M767.9 562.5 L767.7 561.9" stroke="rgb(0,0,194)" stroke-width="11.3"/><path d="M767.7 561.9 L767.4 561.3" stroke="rgb(0,0,193)" stroke-width="11.2"/><path d="M767.4 561.3 L767 560.7" stroke="rgb(0,0,193)" stroke-width="11.2"/><path d="M767 560.7 L766.7 560.2" stroke="rgb(0,0,193)" stroke-width="11.2"/><path d="M766.7 560.2 L766.2 559.6" stroke="rgb(0,0,193)" stroke-width="11.2"/><path d="M766.2 559.6 L765.8 559" stroke="rgb(0,0,193)" stroke-width="11.2"/><path d="M765.8 559 L765.3 558.5" stroke="rgb(0,0,193)" stroke-width="11.2"/><path d="M765.3 558.5 L764.7 557.9" stroke="rgb(0,0,193)" stroke-width="11.2"/><path d="M764.7 557.9 L764.1 557.4" stroke="rgb(0,0,193)" stroke-width="11.2"/><path d="M764.1 557.4 L763.5 556.9" stroke="rgb(0,0,193)" stroke-width="11.1"/><path d="M763.5 556.9 L762.8 556.4" stroke="rgb(0,0,193)" stroke-width="11.1"/><path d="M762.8 556.4 L762.1 555.9" stroke="rgb(0,0,193)" stroke-width="11.1"/><path d="M762.1 555.9 L761.4 555.4" stroke="rgb(0,0,192)" stroke-width="11.1"/><path d="M761.4 555.4 L760.6 555" stroke="rgb(0,0,192)" stroke-width="11.1"/><path d="M760.6 555 L759.8 554.5" stroke="rgb(0,0,192)" stroke-width="11.1"/><path d="M759.8 554.5 L759 554.1" stroke="rgb(0,0,192)" stroke-width="11.1"/><path d="M759 554.1 L758.1 553.6" stroke="rgb(0,0,192)" stroke-width="11.1"/><path d="M758.1 553.6 L757.2 553.2" stroke="rgb(0,0,192)" stroke-width="11"/><path d="M757.2 553.2 L756.3 552.8" stroke="rgb(0,0,192)" stroke-width="11"/><path d="M756.3 552.8 L755.3 552.4" stroke="rgb(0,0,192)" stroke-width="11"/><path d="M755.3 552.4 L754.3 552.1" stroke="rgb(0,0,192)" stroke-width="11"/><path d="M754.3 552.1 L753.2 551.7" stroke="rgb(0,0,192)" stroke-width="11"/><path d="M753.2 551.7 L752.2 551.4" stroke="rgb(0,0,192)" stroke-width="11"/><path d="M752.2 551.4 L751.1 551" stroke="rgb(0,0,192)" stroke-width="11"/><path d="M751.1 551 L750 550.7" stroke="rgb(0,0,191)" stroke-width="11"/><path d="M750 550.7 L748.8 550.4" stroke="rgb(0,0,191)" stroke-width="11"/><path d="M556.4 730.1 L555.7 732.3" stroke="rgb(234,0,0)" stroke-width="7"/><path d="M555.7 732.3 L555 734.6" stroke="rgb(234,0,0)" stroke-width="7"/><path d="M555 734.6 L554.5 736.8" stroke="rgb(234,0,0)" stroke-width="7"/><path d="M554.5 736.8 L554 739.1" stroke="rgb(234,0,0)" stroke-width="7"/><path d="M554 739.1 L553.7 741.4" stroke="rgb(235,0,0)" stroke-width="7.1"/><path d="M553.7 741.4 L553.5 743.6" stroke="rgb(235,0,0)" stroke-width="7.1"/><path d="M553.5 743.6 L553.4 745.9" stroke="rgb(235,0,0)" stroke-width="7.1"/><path d="M553.4 745.9 L553.4 748.2" stroke="rgb(236,0,0)" stroke-width="7.2"/><path d="M553.4 748.2 L553.6 750.5" stroke="rgb(236,0,0)" stroke-width="7.2"/><path d="M553.6 750.5 L553.9 752.8" stroke="rgb(236,0,0)" stroke-width="7.2"/><path d="M553.9 752.8 L554.3 755.1" stroke="rgb(236,0,0)" stroke-width="7.2"/><path d="M554.3 755.1 L554.8 757.4" stroke="rgb(237,0,0)" stroke-width="7.3"/><path d="M554.8 757.4 L555.5 759.7" stroke="rgb(237,0,0)" stroke-width="7.3"/><path d="M555.5 759.7 L556.3 762" stroke="rgb(237,0,0)" stroke-width="7.3"/><path d="M556.3 762 L557.2 764.2" stroke="rgb(237,0,0)" stroke-width="7.3"/><path d="M557.2 764.2 L558.2 766.5" stroke="rgb(238,0,0)" stroke-width="7.4"/><path d="M558.2 766.5 L559.4 768.7" stroke="rgb(238,0,0)" stroke-width="7.4"/><path d="M559.4 768.7 L560.7 771" stroke="rgb(238,0,0)" stroke-width="7.4"/><path d="M560.7 771 L562.2 773.2" stroke="rgb(238,0,0)" stroke-width="7.4"/><path d="M562.2 773.2 L563.8 775.4" stroke="rgb(239,0,0)" stroke-width="7.5"/><path d="M563.8 775.4 L565.5 777.6" stroke="rgb(239,0,0)" stroke-width="7.5"/><path d="M565.5 777.6 L567.3 779.7" stroke="rgb(239,0,0)" stroke-width="7.5"/><path d="M567.3 779.7 L569.3 781.9" stroke="rgb(239,0,0)" stroke-width="7.5"/><path d="M569.3 781.9 L571.4 784" stroke="rgb(240,0,0)" stroke-width="7.6"/><path d="M571.4 784 L573.7 786" stroke="rgb(240,0,0)" stroke-width="7.6"/><path d="M573.7 786 L576.1 788.1" stroke="rgb(240,0,0)" stroke-width="7.6"/><path d="M576.1 788.1 L578.6 790.1" stroke="rgb(240,0,0)" stroke-width="7.6"/><path d="M578.6 790.1 L581.3 792.1" stroke="rgb(240,0,0)" stroke-width="7.6"/><path d="M581.3 792.1 L584.1 794" stroke="rgb(241,0,0)" stroke-width="7.7"/><path d="M584.1 794 L587 795.9" stroke="rgb(241,0,0)" stroke-width="7.7"/><path d="M587 795.9 L590.1 797.8" stroke="rgb(241,0,0)" stroke-width="7.7"/><path d="M590.1 797.8 L593.2 799.6" stroke="rgb(241,0,0)" stroke-width="7.7"/><path d="M593.2 799.6 L596.6 801.3" stroke="rgb(241,0,0)" stroke-width="7.7"/><path d="M596.6 801.3 L600 803" stroke="rgb(242,0,0)" stroke-width="7.8"/><path d="M600 803 L603.6 804.7" stroke="rgb(242,0,0)" stroke-width="7.8"/><path d="M603.6 804.7 L607.3 806.3" stroke="rgb(242,0,0)" stroke-width="7.8"/><path d="M607.3 806.3 L611.1 807.8" stroke="rgb(242,0,0)" stroke-width="7.8"/><path d="M611.1 807.8 L615 809.3" stroke="rgb(242,0,0)" stroke-width="7.8"/><path d="M615 809.3 L619 810.8" stroke="rgb(242,0,0)" stroke-width="7.8"/><path d="M619 810.8 L623.1 812.1" stroke="rgb(243,0,0)" stroke-width="7.9"/><path d="M623.1 812.1 L627.4 813.4" stroke="rgb(243,0,0)" stroke-width="7.9"/><path d="M627.4 813.4 L631.8 814.7" stroke="rgb(243,0,0)" stroke-width="7.9"/><path d="M631.8 814.7 L636.2 815.8" stroke="rgb(243,0,0)" stroke-width="7.9"/><path d="M636.2 815.8 L640.7 816.9" stroke="rgb(243,0,0)" stroke-width="7.9"/><path d="M640.7 816.9 L645.4 817.9" stroke="rgb(243,0,0)" stroke-width="7.9"/><path d="M645.4 817.9 L650.1 818.9" stroke="rgb(243,0,0)" stroke-width="7.9"/><path d="M650.1 818.9 L654.9 819.7" stroke="rgb(244,0,0)" stroke-width="7.9"/><path d="M654.9 819.7 L659.8 820.5" stroke="rgb(244,0,0)" stroke-width="8"/><path d="M659.8 820.5 L664.8 821.3" stroke="rgb(244,0,0)" stroke-width="8"/><path d="M664.8 821.3 L669.8 821.9" stroke="rgb(244,0,0)" stroke-width="8"/><path d="M669.8 821.9 L674.9 822.5" stroke="rgb(244,0,0)" stroke-width="8"/><path d="M674.9 822.5 L680 822.9" stroke="rgb(244,0,0)" stroke-width="8"/><path d="M680 822.9 L685.2 823.3" stroke="rgb(244,0,0)" stroke-width="8"/><path d="M685.2 823.3 L690.5 823.6" stroke="rgb(244,0,0)" stroke-width="8"/><path d="M690.5 823.6 L695.8 823.9" stroke="rgb(244,0,0)" stroke-width="8"/><path d="M695.8 823.9 L701.1 824" stroke="rgb(244,0,0)" stroke-width="8"/><path d="M701.1 824 L706.4 824" stroke="rgb(244,0,0)" stroke-width="8"/><path d="M706.4 824 L711.8 824" stroke="rgb(244,0,0)" stroke-width="8"/><path d="M711.8 824 L717.2 823.9" stroke="rgb(244,0,0)" stroke-width="8"/><path d="M717.2 823.9 L722.6 823.7" stroke="rgb(244,0,0)" stroke-width="8"/><path d="M722.6 823.7 L728 823.4" stroke="rgb(244,0,0)" stroke-width="8"/><path d="M728 823.4 L733.4 823.1" stroke="rgb(244,0,0)" stroke-width="8"/><path d="M733.4 823.1 L738.8 822.6" stroke="rgb(244,0,0)" stroke-width="8"/><path d="M738.8 822.6 L744.2 822.1" stroke="rgb(244,0,0)" stroke-width="8"/><path d="M744.2 822.1 L749.5 821.4" stroke="rgb(244,0,0)" stroke-width="8"/><path d="M749.5 821.4 L754.9 820.7" stroke="rgb(244,0,0)" stroke-width="8"/><path d="M754.9 820.7 L760.2 820" stroke="rgb(244,0,0)" stroke-width="8"/><path d="M760.2 820 L765.4 819.1" stroke="rgb(244,0,0)" stroke-width="8"/><path d="M765.4 819.1 L770.7 818.1" stroke="rgb(244,0,0)" stroke-width="8"/><path d="M770.7 818.1 L775.8 817.1" stroke="rgb(244,0,0)" stroke-width="8"/><path d="M775.8 817.1 L781 816" stroke="rgb(244,0,0)" stroke-width="8"/><path d="M781 816 L786 814.9" stroke="rgb(244,0,0)" stroke-width="8"/><path d="M786 814.9 L791 813.6" stroke="rgb(244,0,0)" stroke-width="8"/><path d="M791 813.6 L796 812.3" stroke="rgb(244,0,0)" stroke-width="8"/><path d="M796 812.3 L800.8 810.9" stroke="rgb(244,0,0)" stroke-width="8"/><path d="M800.8 810.9 L805.6 809.4" stroke="rgb(244,0,0)" stroke-width="8"/><path d="M805.6 809.4 L810.3 807.9" stroke="rgb(244,0,0)" stroke-width="8"/><path d="M810.3 807.9 L814.9 806.3" stroke="rgb(244,0,0)" stroke-width="7.9"/><path d="M814.9 806.3 L819.4 804.7" stroke="rgb(243,0,0)" stroke-width="7.9"/><path d="M819.4 804.7 L823.8 803" stroke="rgb(243,0,0)" stroke-width="7.9"/><path d="M823.8 803 L828.1 801.2" stroke="rgb(243,0,0)" stroke-width="7.9"/><path d="M828.1 801.2 L832.3 799.4" stroke="rgb(243,0,0)" stroke-width="7.9"/><path d="M832.3 799.4 L836.4 797.5" stroke="rgb(243,0,0)" stroke-width="7.9"/><path d="M836.4 797.5 L840.3 795.6" stroke="rgb(243,0,0)" stroke-width="7.9"/><path d="M840.3 795.6 L844.2 793.6" stroke="rgb(243,0,0)" stroke-width="7.9"/><path d="M844.2 793.6 L847.9 791.6" stroke="rgb(242,0,0)" stroke-width="7.8"/><path d="M847.9 791.6 L851.6 789.6" stroke="rgb(242,0,0)" stroke-width="7.8"/><path d="M851.6 789.6 L855 787.5" stroke="rgb(242,0,0)" stroke-width="7.8"/><path d="M855 787.5 L858.4 785.3" stroke="rgb(242,0,0)" stroke-width="7.8"/><path d="M858.4 785.3 L861.7 783.1" stroke="rgb(242,0,0)" stroke-width="7.8"/><path d="M861.7 783.1 L864.8 780.9" stroke="rgb(242,0,0)" stroke-width="7.8"/><path d="M864.8 780.9 L867.7 778.7" stroke="rgb(241,0,0)" stroke-width="7.7"/><path d="M867.7 778.7 L870.6 776.4" stroke="rgb(241,0,0)" stroke-width="7.7"/><path d="M870.6 776.4 L873.3 774.2" stroke="rgb(241,0,0)" stroke-width="7.7"/><path d="M873.3 774.2 L875.9 771.8" stroke="rgb(241,0,0)" stroke-width="7.7"/><path d="M875.9 771.8 L878.3 769.5" stroke="rgb(241,0,0)" stroke-width="7.7"/><path d="M878.3 769.5 L880.6 767.2" stroke="rgb(240,0,0)" stroke-width="7.6"/><path d="M880.6 767.2 L882.8 764.8" stroke="rgb(240,0,0)" stroke-width="7.6"/><path d="M882.8 764.8 L884.8 762.4" stroke="rgb(240,0,0)" stroke-width="7.6"/><path d="M884.8 762.4 L886.7 760" stroke="rgb(240,0,0)" stroke-width="7.6"/><path d="M886.7 760 L888.4 757.6" stroke="rgb(239,0,0)" stroke-width="7.5"/><path d="M888.4 757.6 L890 755.2" stroke="rgb(239,0,0)" stroke-width="7.5"/><path d="M890 755.2 L891.5 752.8" stroke="rgb(239,0,0)" stroke-width="7.5"/><path d="M891.5 752.8 L892.8 750.4" stroke="rgb(239,0,0)" stroke-width="7.5"/><path d="M892.8 750.4 L894 748" stroke="rgb(239,0,0)" stroke-width="7.5"/><path d="M894 748 L895.1 745.6" stroke="rgb(238,0,0)" stroke-width="7.4"/><path d="M895.1 745.6 L896 743.2" stroke="rgb(238,0,0)" stroke-width="7.4"/><path d="M896 743.2 L896.8 740.8" stroke="rgb(238,0,0)" stroke-width="7.4"/><path d="M896.8 740.8 L897.5 738.4" stroke="rgb(238,0,0)" stroke-width="7.4"/><path d="M897.5 738.4 L898 736" stroke="rgb(237,0,0)" stroke-width="7.3"/><path d="M898 736 L898.4 733.7" stroke="rgb(237,0,0)" stroke-width="7.3"/><path d="M898.4 733.7 L898.7 731.3" stroke="rgb(237,0,0)" stroke-width="7.3"/><path d="M898.7 731.3 L898.8 729" stroke="rgb(237,0,0)" stroke-width="7.2"/><path d="M898.8 729 L898.8 726.7" stroke="rgb(236,0,0)" stroke-width="7.2"/><path d="M898.8 726.7 L898.7 724.4" stroke="rgb(236,0,0)" stroke-width="7.2"/><path d="M898.7 724.4 L898.5 722.1" stroke="rgb(236,0,0)" stroke-width="7.2"/><path d="M898.5 722.1 L898.2 719.8" stroke="rgb(235,0,0)" stroke-width="7.1"/><path d="M898.2 719.8 L897.7 717.6" stroke="rgb(235,0,0)" stroke-width="7.1"/><path d="M897.7 717.6 L897.1 715.4" stroke="rgb(235,0,0)" stroke-width="7.1"/><path d="M897.1 715.4 L896.4 713.2" stroke="rgb(235,0,0)" stroke-width="7.1"/><path d="M896.4 713.2 L895.6 711" stroke="rgb(234,0,0)" stroke-width="7"/><path d="M895.6 711 L894.7 708.9" stroke="rgb(234,0,0)" stroke-width="7"/><path d="M894.7 708.9 L893.7 706.8" stroke="rgb(234,0,0)" stroke-width="7"/><path d="M893.7 706.8 L892.6 704.7" stroke="rgb(234,0,0)" stroke-width="7"/><path d="M748.8 550.4 L747.6 550.1" stroke="rgb(0,0,245)" stroke-width="7.7"/><path d="M747.6 550.1 L746.4 549.9" stroke="rgb(0,0,245)" stroke-width="7.7"/><path d="M746.4 549.9 L745.2 549.6" stroke="rgb(0,0,245)" stroke-width="7.6"/><path d="M745.2 549.6 L744 549.4" stroke="rgb(0,0,245)" stroke-width="7.6"/><path d="M744 549.4 L742.7 549.2" stroke="rgb(0,0,245)" stroke-width="7.6"/><path d="M742.7 549.2 L741.4 548.9" stroke="rgb(0,0,245)" stroke-width="7.6"/><path d="M741.4 548.9 L740.1 548.8" stroke="rgb(0,0,245)" stroke-width="7.6"/><path d="M740.1 548.8 L738.7 548.6" stroke="rgb(0,0,245)" stroke-width="7.6"/><path d="M738.7 548.6 L737.4 548.4" stroke="rgb(0,0,245)" stroke-width="7.6"/><path d="M737.4 548.4 L736 548.3" stroke="rgb(0,0,244)" stroke-width="7.6"/><path d="M736 548.3 L734.6 548.1" stroke="rgb(0,0,244)" stroke-width="7.6"/><path d="M734.6 548.1 L733.2 548" stroke="rgb(0,0,244)" stroke-width="7.6"/><path d="M733.2 548 L731.8 547.9" stroke="rgb(0,0,244)" stroke-width="7.6"/><path d="M731.8 547.9 L730.3 547.8" stroke="rgb(0,0,244)" stroke-width="7.6"/><path d="M730.3 547.8 L728.8 547.8" stroke="rgb(0,0,244)" stroke-width="7.6"/><path d="M728.8 547.8 L727.4 547.7" stroke="rgb(0,0,244)" stroke-width="7.6"/><path d="M727.4 547.7 L725.9 547.7" stroke="rgb(0,0,244)" stroke-width="7.6"/><path d="M725.9 547.7 L724.4 547.7" stroke="rgb(0,0,244)" stroke-width="7.6"/><path d="M724.4 547.7 L722.9 547.7" stroke="rgb(0,0,244)" stroke-width="7.6"/><path d="M722.9 547.7 L721.4 547.7" stroke="rgb(0,0,244)" stroke-width="7.6"/><path d="M721.4 547.7 L719.8 547.7" stroke="rgb(0,0,244)" stroke-width="7.6"/><path d="M719.8 547.7 L718.3 547.7" stroke="rgb(0,0,244)" stroke-width="7.6"/><path d="M718.3 547.7 L716.7 547.8" stroke="rgb(0,0,244)" stroke-width="7.6"/><path d="M716.7 547.8 L715.2 547.9" stroke="rgb(0,0,244)" stroke-width="7.6"/><path d="M715.2 547.9 L713.6 548" stroke="rgb(0,0,244)" stroke-width="7.5"/><path d="M713.6 548 L712.1 548.1" stroke="rgb(0,0,244)" stroke-width="7.5"/><path d="M712.1 548.1 L710.5 548.2" stroke="rgb(0,0,244)" stroke-width="7.5"/><path d="M710.5 548.2 L708.9 548.3" stroke="rgb(0,0,244)" stroke-width="7.5"/><path d="M708.9 548.3 L707.3 548.5" stroke="rgb(0,0,244)" stroke-width="7.5"/><path d="M707.3 548.5 L705.8 548.7" stroke="rgb(0,0,244)" stroke-width="7.5"/><path d="M705.8 548.7 L704.2 548.8" stroke="rgb(0,0,244)" stroke-width="7.5"/><path d="M704.2 548.8 L702.6 549" stroke="rgb(0,0,244)" stroke-width="7.5"/><path d="M702.6 549 L701 549.2" stroke="rgb(0,0,244)" stroke-width="7.5"/><path d="M701 549.2 L699.5 549.5" stroke="rgb(0,0,244)" stroke-width="7.5"/><path d="M699.5 549.5 L697.9 549.7" stroke="rgb(0,0,244)" stroke-width="7.5"/><path d="M697.9 549.7 L696.3 550" stroke="rgb(0,0,244)" stroke-width="7.5"/><path d="M696.3 550 L694.8 550.2" stroke="rgb(0,0,244)" stroke-width="7.5"/><path d="M694.8 550.2 L693.2 550.5" stroke="rgb(0,0,244)" stroke-width="7.5"/><path d="M693.2 550.5 L691.7 550.8" stroke="rgb(0,0,244)" stroke-width="7.5"/><path d="M691.7 550.8 L690.1 551.1" stroke="rgb(0,0,244)" stroke-width="7.5"/><path d="M690.1 551.1 L688.6 551.5" stroke="rgb(0,0,244)" stroke-width="7.5"/><path d="M688.6 551.5 L687.1 551.8" stroke="rgb(0,0,244)" stroke-width="7.5"/><path d="M687.1 551.8 L685.5 552.1" stroke="rgb(0,0,244)" stroke-width="7.6"/><path d="M685.5 552.1 L684 552.5" stroke="rgb(0,0,244)" stroke-width="7.6"/><path d="M684 552.5 L682.5 552.9" stroke="rgb(0,0,244)" stroke-width="7.6"/><path d="M682.5 552.9 L681.1 553.3" stroke="rgb(0,0,244)" stroke-width="7.6"/><path d="M681.1 553.3 L679.6 553.7" stroke="rgb(0,0,244)" stroke-width="7.6"/><path d="M679.6 553.7 L678.1 554.1" stroke="rgb(0,0,244)" stroke-width="7.6"/><path d="M678.1 554.1 L676.7 554.5" stroke="rgb(0,0,244)" stroke-width="7.6"/><path d="M676.7 554.5 L675.3 555" stroke="rgb(0,0,244)" stroke-width="7.6"/><path d="M675.3 555 L673.9 555.4" stroke="rgb(0,0,244)" stroke-width="7.6"/><path d="M673.9 555.4 L672.5 555.9" stroke="rgb(0,0,244)" stroke-width="7.6"/><path d="M672.5 555.9 L671.1 556.3" stroke="rgb(0,0,244)" stroke-width="7.6"/><path d="M671.1 556.3 L669.8 556.8" stroke="rgb(0,0,244)" stroke-width="7.6"/><path d="M669.8 556.8 L668.4 557.3" stroke="rgb(0,0,244)" stroke-width="7.6"/><path d="M668.4 557.3 L667.1 557.8" stroke="rgb(0,0,244)" stroke-width="7.6"/><path d="M667.1 557.8 L665.8 558.3" stroke="rgb(0,0,244)" stroke-width="7.6"/><path d="M665.8 558.3 L664.6 558.9" stroke="rgb(0,0,244)" stroke-width="7.6"/><path d="M664.6 558.9 L663.3 559.4" stroke="rgb(0,0,245)" stroke-width="7.6"/><path d="M663.3 559.4 L662.1 560" stroke="rgb(0,0,245)" stroke-width="7.6"/><path d="M662.1 560 L660.9 560.5" stroke="rgb(0,0,245)" stroke-width="7.6"/><path d="M660.9 560.5 L659.7 561.1" stroke="rgb(0,0,245)" stroke-width="7.6"/><path d="M659.7 561.1 L658.6 561.6" stroke="rgb(0,0,245)" stroke-width="7.6"/><path d="M658.6 561.6 L657.5 562.2" stroke="rgb(0,0,245)" stroke-width="7.6"/><path d="M657.5 562.2 L656.4 562.8" stroke="rgb(0,0,245)" stroke-width="7.7"/><path d="M656.4 562.8 L655.3 563.4" stroke="rgb(0,0,245)" stroke-width="7.7"/><path d="M655.3 563.4 L654.3 564" stroke="rgb(0,0,245)" stroke-width="7.7"/><path d="M654.3 564 L653.3 564.6" stroke="rgb(0,0,245)" stroke-width="7.7"/><path d="M653.3 564.6 L652.3 565.2" stroke="rgb(0,0,245)" stroke-width="7.7"/><path d="M652.3 565.2 L651.4 565.9" stroke="rgb(0,0,245)" stroke-width="7.7"/><path d="M651.4 565.9 L650.5 566.5" stroke="rgb(0,0,245)" stroke-width="7.7"/><path d="M650.5 566.5 L649.6 567.1" stroke="rgb(0,0,245)" stroke-width="7.7"/><path d="M649.6 567.1 L648.8 567.7" stroke="rgb(0,0,245)" stroke-width="7.7"/><path d="M648.8 567.7 L648 568.4" stroke="rgb(0,0,245)" stroke-width="7.7"/><path d="M648 568.4 L647.2 569" stroke="rgb(0,0,245)" stroke-width="7.7"/><path d="M647.2 569 L646.5 569.7" stroke="rgb(0,0,245)" stroke-width="7.7"/><path d="M646.5 569.7 L645.8 570.3" stroke="rgb(0,0,245)" stroke-width="7.7"/><path d="M645.8 570.3 L645.1 571" stroke="rgb(0,0,245)" stroke-width="7.8"/><path d="M645.1 571 L644.5 571.7" stroke="rgb(0,0,245)" stroke-width="7.8"/><path d="M644.5 571.7 L643.9 572.3" stroke="rgb(0,0,245)" stroke-width="7.8"/><path d="M643.9 572.3 L643.4 573" stroke="rgb(0,0,246)" stroke-width="7.8"/><path d="M643.4 573 L642.9 573.6" stroke="rgb(0,0,246)" stroke-width="7.8"/><path d="M642.9 573.6 L642.4 574.3" stroke="rgb(0,0,246)" stroke-width="7.8"/><path d="M642.4 574.3 L642 575" stroke="rgb(0,0,246)" stroke-width="7.8"/><path d="M642 575 L641.6 575.6" stroke="rgb(0,0,246)" stroke-width="7.8"/><path d="M641.6 575.6 L641.3 576.3" stroke="rgb(0,0,246)" stroke-width="7.8"/><path d="M641.3 576.3 L641 577" stroke="rgb(0,0,246)" stroke-width="7.8"/><path d="M641 577 L640.7 577.6" stroke="rgb(0,0,246)" stroke-width="7.8"/><path d="M640.7 577.6 L640.5 578.3" stroke="rgb(0,0,246)" stroke-width="7.9"/><path d="M640.5 578.3 L640.3 579" stroke="rgb(0,0,246)" stroke-width="7.9"/><path d="M640.3 579 L640.2 579.6" stroke="rgb(0,0,246)" stroke-width="7.9"/><path d="M640.2 579.6 L640.1 580.3" stroke="rgb(0,0,246)" stroke-width="7.9"/><path d="M640.1 580.3 L640 580.9" stroke="rgb(0,0,246)" stroke-width="7.9"/><path d="M640 580.9 L640 581.6" stroke="rgb(0,0,246)" stroke-width="7.9"/><path d="M640 581.6 L640.1 582.2" stroke="rgb(0,0,246)" stroke-width="7.9"/><path d="M640.1 582.2 L640.2 582.9" stroke="rgb(0,0,246)" stroke-width="7.9"/><path d="M640.2 582.9 L640.3 583.5" stroke="rgb(0,0,246)" stroke-width="7.9"/><path d="M640.3 583.5 L640.5 584.1" stroke="rgb(0,0,246)" stroke-width="7.9"/><path d="M640.5 584.1 L640.7 584.8" stroke="rgb(0,0,247)" stroke-width="7.9"/><path d="M640.7 584.8 L641 585.4" stroke="rgb(0,0,247)" stroke-width="8"/><path d="M641 585.4 L641.3 586" stroke="rgb(0,0,247)" stroke-width="8"/><path d="M641.3 586 L641.6 586.6" stroke="rgb(0,0,247)" stroke-width="8"/><path d="M641.6 586.6 L642 587.2" stroke="rgb(0,0,247)" stroke-width="8"/><path d="M642 587.2 L642.5 587.8" stroke="rgb(0,0,247)" stroke-width="8"/><path d="M642.5 587.8 L642.9 588.3" stroke="rgb(0,0,247)" stroke-width="8"/><path d="M642.9 588.3 L643.5 588.9" stroke="rgb(0,0,247)" stroke-width="8"/><path d="M643.5 588.9 L644.1 589.5" stroke="rgb(0,0,247)" stroke-width="8"/><path d="M644.1 589.5 L644.7 590" stroke="rgb(0,0,247)" stroke-width="8"/><path d="M644.7 590 L645.3 590.5" stroke="rgb(0,0,247)" stroke-width="8"/><path d="M645.3 590.5 L646 591.1" stroke="rgb(0,0,247)" stroke-width="8"/><path d="M646 591.1 L646.8 591.6" stroke="rgb(0,0,247)" stroke-width="8.1"/><path d="M646.8 591.6 L647.6 592.1" stroke="rgb(0,0,247)" stroke-width="8.1"/><path d="M647.6 592.1 L648.4 592.6" stroke="rgb(0,0,247)" stroke-width="8.1"/><path d="M648.4 592.6 L649.3 593" stroke="rgb(0,0,247)" stroke-width="8.1"/><path d="M649.3 593 L650.2 593.5" stroke="rgb(0,0,247)" stroke-width="8.1"/><path d="M650.2 593.5 L651.2 593.9" stroke="rgb(0,0,247)" stroke-width="8.1"/><path d="M651.2 593.9 L652.2 594.4" stroke="rgb(0,0,247)" stroke-width="8.1"/><path d="M652.2 594.4 L653.2 594.8" stroke="rgb(0,0,248)" stroke-width="8.1"/><path d="M653.2 594.8 L654.3 595.2" stroke="rgb(0,0,248)" stroke-width="8.1"/><path d="M654.3 595.2 L655.4 595.6" stroke="rgb(0,0,248)" stroke-width="8.1"/><path d="M655.4 595.6 L656.6 596" stroke="rgb(0,0,248)" stroke-width="8.1"/><path d="M656.6 596 L657.8 596.3" stroke="rgb(0,0,248)" stroke-width="8.1"/><path d="M657.8 596.3 L659 596.6" stroke="rgb(0,0,248)" stroke-width="8.1"/><path d="M659 596.6 L660.3 597" stroke="rgb(0,0,248)" stroke-width="8.1"/><path d="M660.3 597 L661.6 597.3" stroke="rgb(0,0,248)" stroke-width="8.2"/><path d="M661.6 597.3 L662.9 597.6" stroke="rgb(0,0,248)" stroke-width="8.2"/><path d="M662.9 597.6 L664.3 597.8" stroke="rgb(0,0,248)" stroke-width="8.2"/><path d="M664.3 597.8 L665.7 598.1" stroke="rgb(0,0,248)" stroke-width="8.2"/><path d="M665.7 598.1 L667.1 598.3" stroke="rgb(0,0,248)" stroke-width="8.2"/><path d="M667.1 598.3 L668.6 598.5" stroke="rgb(0,0,248)" stroke-width="8.2"/><path d="M668.6 598.5 L670.1 598.7" stroke="rgb(0,0,248)" stroke-width="8.2"/><path d="M670.1 598.7 L671.6 598.9" stroke="rgb(0,0,248)" stroke-width="8.2"/><path d="M671.6 598.9 L673.1 599.1" stroke="rgb(0,0,248)" stroke-width="8.2"/><path d="M673.1 599.1 L674.7 599.2" stroke="rgb(0,0,248)" stroke-width="8.2"/><path d="M674.7 599.2 L676.3 599.3" stroke="rgb(0,0,248)" stroke-width="8.2"/><path d="M676.3 599.3 L677.9 599.4" stroke="rgb(0,0,248)" stroke-width="8.2"/><path d="M677.9 599.4 L679.5 599.5" stroke="rgb(0,0,248)" stroke-width="8.2"/><path d="M679.5 599.5 L681.2 599.6" stroke="rgb(0,0,248)" stroke-width="8.2"/><path d="M681.2 599.6 L682.9 599.6" stroke="rgb(0,0,248)" stroke-width="8.2"/><path d="M682.9 599.6 L684.6 599.6" stroke="rgb(0,0,248)" stroke-width="8.2"/><path d="M684.6 599.6 L686.3 599.6" stroke="rgb(0,0,248)" stroke-width="8.2"/><path d="M686.3 599.6 L688 599.6" stroke="rgb(0,0,248)" stroke-width="8.2"/><path d="M688 599.6 L689.7 599.5" stroke="rgb(0,0,248)" stroke-width="8.2"/><path d="M689.7 599.5 L691.5 599.5" stroke="rgb(0,0,248)" stroke-width="8.2"/><path d="M691.5 599.5 L693.3 599.4" stroke="rgb(0,0,248)" stroke-width="8.2"/><path d="M693.3 599.4 L695 599.3" stroke="rgb(0,0,248)" stroke-width="8.2"/><path d="M695 599.3 L696.8 599.2" stroke="rgb(0,0,248)" stroke-width="8.2"/><path d="M696.8 599.2 L698.6 599" stroke="rgb(0,0,248)" stroke-width="8.2"/><path d="M698.6 599 L700.4 598.9" stroke="rgb(0,0,248)" stroke-width="8.2"/><path d="M700.4 598.9 L702.2 598.7" stroke="rgb(0,0,248)" stroke-width="8.2"/><path d="M702.2 598.7 L704 598.5" stroke="rgb(0,0,248)" stroke-width="8.2"/><path d="M704 598.5 L705.8 598.3" stroke="rgb(0,0,248)" stroke-width="8.2"/><path d="M705.8 598.3 L707.6 598" stroke="rgb(0,0,248)" stroke-width="8.2"/><path d="M707.6 598 L709.4 597.8" stroke="rgb(0,0,248)" stroke-width="8.2"/><path d="M709.4 597.8 L711.1 597.5" stroke="rgb(0,0,248)" stroke-width="8.2"/><path d="M711.1 597.5 L712.9 597.2" stroke="rgb(0,0,248)" stroke-width="8.2"/><path d="M712.9 597.2 L714.7 596.9" stroke="rgb(0,0,248)" stroke-width="8.2"/><path d="M714.7 596.9 L716.5 596.6" stroke="rgb(0,0,248)" stroke-width="8.2"/><path d="M716.5 596.6 L718.2 596.2" stroke="rgb(0,0,248)" stroke-width="8.2"/><path d="M718.2 596.2 L720 595.8" stroke="rgb(0,0,248)" stroke-width="8.2"/><path d="M720 595.8 L721.7 595.5" stroke="rgb(0,0,248)" stroke-width="8.2"/><path d="M721.7 595.5 L723.4 595.1" stroke="rgb(0,0,248)" stroke-width="8.2"/><path d="M723.4 595.1 L725.1 594.6" stroke="rgb(0,0,248)" stroke-width="8.2"/><path d="M725.1 594.6 L726.8 594.2" stroke="rgb(0,0,248)" stroke-width="8.2"/><path d="M726.8 594.2 L728.5 593.7" stroke="rgb(0,0,248)" stroke-width="8.2"/><path d="M728.5 593.7 L730.1 593.3" stroke="rgb(0,0,248)" stroke-width="8.2"/><path d="M730.1 593.3 L731.8 592.8" stroke="rgb(0,0,248)" stroke-width="8.2"/><path d="M731.8 592.8 L733.4 592.3" stroke="rgb(0,0,248)" stroke-width="8.2"/><path d="M733.4 592.3 L735 591.8" stroke="rgb(0,0,248)" stroke-width="8.2"/><path d="M735 591.8 L736.5 591.3" stroke="rgb(0,0,248)" stroke-width="8.2"/><path d="M736.5 591.3 L738 590.7" stroke="rgb(0,0,248)" stroke-width="8.2"/><path d="M738 590.7 L739.5 590.2" stroke="rgb(0,0,248)" stroke-width="8.2"/><path d="M739.5 590.2 L741 589.6" stroke="rgb(0,0,248)" stroke-width="8.2"/><path d="M741 589.6 L742.5 589.1" stroke="rgb(0,0,248)" stroke-width="8.2"/><path d="M742.5 589.1 L743.9 588.5" stroke="rgb(0,0,248)" stroke-width="8.2"/><path d="M743.9 588.5 L745.3 587.9" stroke="rgb(0,0,248)" stroke-width="8.2"/><path d="M745.3 587.9 L746.6 587.3" stroke="rgb(0,0,248)" stroke-width="8.2"/><path d="M746.6 587.3 L747.9 586.7" stroke="rgb(0,0,248)" stroke-width="8.2"/><path d="M747.9 586.7 L749.2 586" stroke="rgb(0,0,248)" stroke-width="8.2"/><path d="M749.2 586 L750.5 585.4" stroke="rgb(0,0,248)" stroke-width="8.2"/><path d="M750.5 585.4 L751.7 584.8" stroke="rgb(0,0,248)" stroke-width="8.2"/><path d="M751.7 584.8 L752.9 584.1" stroke="rgb(0,0,248)" stroke-width="8.2"/><path d="M752.9 584.1 L754 583.5" stroke="rgb(0,0,248)" stroke-width="8.1"/><path d="M754 583.5 L755.1 582.8" stroke="rgb(0,0,248)" stroke-width="8.1"/><path d="M755.1 582.8 L756.2 582.1" stroke="rgb(0,0,248)" stroke-width="8.1"/><path d="M756.2 582.1 L757.2 581.5" stroke="rgb(0,0,248)" stroke-width="8.1"/><path d="M757.2 581.5 L758.1 580.8" stroke="rgb(0,0,248)" stroke-width="8.1"/><path d="M758.1 580.8 L759.1 580.1" stroke="rgb(0,0,248)" stroke-width="8.1"/><path d="M759.1 580.1 L760 579.4" stroke="rgb(0,0,248)" stroke-width="8.1"/><path d="M760 579.4 L760.8 578.7" stroke="rgb(0,0,247)" stroke-width="8.1"/><path d="M760.8 578.7 L761.6 578" stroke="rgb(0,0,247)" stroke-width="8.1"/><path d="M761.6 578 L762.4 577.3" stroke="rgb(0,0,247)" stroke-width="8.1"/><path d="M762.4 577.3 L763.1 576.6" stroke="rgb(0,0,247)" stroke-width="8.1"/><path d="M763.1 576.6 L763.8 575.9" stroke="rgb(0,0,247)" stroke-width="8.1"/><path d="M763.8 575.9 L764.4 575.2" stroke="rgb(0,0,247)" stroke-width="8.1"/><path d="M764.4 575.2 L765 574.5" stroke="rgb(0,0,247)" stroke-width="8.1"/><path d="M765 574.5 L765.6 573.9" stroke="rgb(0,0,247)" stroke-width="8"/><path d="M765.6 573.9 L766.1 573.2" stroke="rgb(0,0,247)" stroke-width="8"/><path d="M766.1 573.2 L766.5 572.5" stroke="rgb(0,0,247)" stroke-width="8"/><path d="M766.5 572.5 L766.9 571.8" stroke="rgb(0,0,247)" stroke-width="8"/><path d="M766.9 571.8 L767.3 571.1" stroke="rgb(0,0,247)" stroke-width="8"/><path d="M767.3 571.1 L767.6 570.4" stroke="rgb(0,0,247)" stroke-width="8"/><path d="M767.6 570.4 L767.9 569.7" stroke="rgb(0,0,247)" stroke-width="8"/><path d="M767.9 569.7 L768.1 569" stroke="rgb(0,0,247)" stroke-width="8"/><path d="M768.1 569 L768.3 568.3" stroke="rgb(0,0,247)" stroke-width="8"/><path d="M768.3 568.3 L768.4 567.7" stroke="rgb(0,0,247)" stroke-width="8"/><path d="M768.4 567.7 L768.5 567" stroke="rgb(0,0,247)" stroke-width="8"/><path d="M768.5 567 L768.6 566.4" stroke="rgb(0,0,247)" stroke-width="7.9"/><path d="M768.6 566.4 L768.6 565.7" stroke="rgb(0,0,246)" stroke-width="7.9"/><path d="M768.6 565.7 L768.6 565" stroke="rgb(0,0,246)" stroke-width="7.9"/><path d="M768.6 565 L768.5 564.4" stroke="rgb(0,0,246)" stroke-width="7.9"/><path d="M768.5 564.4 L768.3 563.8" stroke="rgb(0,0,246)" stroke-width="7.9"/><path d="M768.3 563.8 L768.2 563.2" stroke="rgb(0,0,246)" stroke-width="7.9"/><path d="M768.2 563.2 L767.9 562.5" stroke="rgb(0,0,246)" stroke-width="7.9"/><path d="M767.9 562.5 L767.7 561.9" stroke="rgb(0,0,246)" stroke-width="7.9"/><path d="M767.7 561.9 L767.4 561.3" stroke="rgb(0,0,246)" stroke-width="7.9"/><path d="M767.4 561.3 L767 560.7" stroke="rgb(0,0,246)" stroke-width="7.9"/><path d="M767 560.7 L766.7 560.2" stroke="rgb(0,0,246)" stroke-width="7.9"/><path d="M766.7 560.2 L766.2 559.6" stroke="rgb(0,0,246)" stroke-width="7.8"/><path d="M766.2 559.6 L765.8 559" stroke="rgb(0,0,246)" stroke-width="7.8"/><path d="M765.8 559 L765.3 558.5" stroke="rgb(0,0,246)" stroke-width="7.8"/><path d="M765.3 558.5 L764.7 557.9" stroke="rgb(0,0,246)" stroke-width="7.8"/><path d="M764.7 557.9 L764.1 557.4" stroke="rgb(0,0,246)" stroke-width="7.8"/><path d="M764.1 557.4 L763.5 556.9" stroke="rgb(0,0,246)" stroke-width="7.8"/><path d="M763.5 556.9 L762.8 556.4" stroke="rgb(0,0,246)" stroke-width="7.8"/><path d="M762.8 556.4 L762.1 555.9" stroke="rgb(0,0,246)" stroke-width="7.8"/><path d="M762.1 555.9 L761.4 555.4" stroke="rgb(0,0,245)" stroke-width="7.8"/><path d="M761.4 555.4 L760.6 555" stroke="rgb(0,0,245)" stroke-width="7.8"/><path d="M760.6 555 L759.8 554.5" stroke="rgb(0,0,245)" stroke-width="7.8"/><path d="M759.8 554.5 L759 554.1" stroke="rgb(0,0,245)" stroke-width="7.7"/><path d="M759 554.1 L758.1 553.6" stroke="rgb(0,0,245)" stroke-width="7.7"/><path d="M758.1 553.6 L757.2 553.2" stroke="rgb(0,0,245)" stroke-width="7.7"/><path d="M757.2 553.2 L756.3 552.8" stroke="rgb(0,0,245)" stroke-width="7.7"/><path d="M756.3 552.8 L755.3 552.4" stroke="rgb(0,0,245)" stroke-width="7.7"/><path d="M755.3 552.4 L754.3 552.1" stroke="rgb(0,0,245)" stroke-width="7.7"/><path d="M754.3 552.1 L753.2 551.7" stroke="rgb(0,0,245)" stroke-width="7.7"/><path d="M753.2 551.7 L752.2 551.4" stroke="rgb(0,0,245)" stroke-width="7.7"/><path d="M752.2 551.4 L751.1 551" stroke="rgb(0,0,245)" stroke-width="7.7"/><path d="M751.1 551 L750 550.7" stroke="rgb(0,0,245)" stroke-width="7.7"/><path d="M750 550.7 L748.8 550.4" stroke="rgb(0,0,245)" stroke-width="7.7"/></g>
<rect x="507.3" y="791.5" width="2.9" height="31.8" fill="#000"/><text x="514" y="818" font-family="Liberation Serif" font-size="38" font-style="italic" stroke="#000" stroke-width="0.6">x</text><path d="M537.3 792 L543.9 807.4 L537.3 822.8" fill="none" stroke="#000" stroke-width="2.6" stroke-linejoin="miter"/>
<rect x="911.1" y="791" width="2.9" height="32.7" fill="#000"/><text x="920.3" y="818" font-family="Liberation Serif" font-size="38" font-style="italic" stroke="#000" stroke-width="0.6">y</text><path d="M941.5 791.5 L948.1 807.4 L941.5 823.2" fill="none" stroke="#000" stroke-width="2.6" stroke-linejoin="miter"/>
<rect x="692.9" y="487.6" width="3.1" height="32.4" fill="#000"/><text x="700.6" y="513.9" font-family="Liberation Serif" font-size="36" font-style="italic" stroke="#000" stroke-width="0.7">L</text><text transform="translate(717.6 521.4) scale(1.2 1)" font-family="Liberation Serif" font-size="25.5" stroke="#000" stroke-width="0.5">v1</text><path d="M753 488.1 L759.3 503.8 L753 519.5" fill="none" stroke="#000" stroke-width="2.6" stroke-linejoin="miter"/>
<rect x="692.9" y="904.7" width="3.1" height="32.2" fill="#000"/><text x="700.6" y="931" font-family="Liberation Serif" font-size="36" font-style="italic" stroke="#000" stroke-width="0.7">L</text><text transform="translate(717.6 938.5) scale(1.2 1)" font-family="Liberation Serif" font-size="25.5" stroke="#000" stroke-width="0.5">v2</text><path d="M753 905.2 L759.3 920.8 L753 936.4" fill="none" stroke="#000" stroke-width="2.6" stroke-linejoin="miter"/>
<text transform="translate(0.4 33.8) scale(0.82 1)" font-family="Liberation Sans" font-size="44" font-weight="bold">a</text><text transform="translate(468.6 33.7) scale(0.94 1)" font-family="Liberation Sans" font-size="46" font-weight="bold">b</text><text transform="translate(0.0 541.8) scale(0.88 1)" font-family="Liberation Sans" font-size="42" font-weight="bold">c</text><text transform="translate(469.0 541.5) scale(0.96 1)" font-family="Liberation Sans" font-size="46" font-weight="bold">d</text>
</svg></body></html>
